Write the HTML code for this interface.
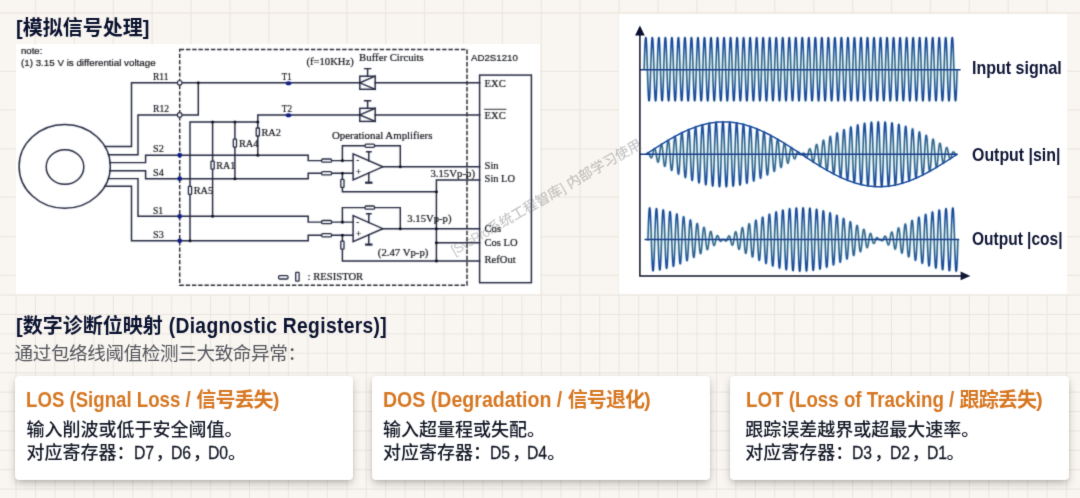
<!DOCTYPE html>
<html lang="zh-CN">
<head>
<meta charset="utf-8">
<title>模拟信号处理 / 数字诊断位映射 (Diagnostic Registers)</title>
<style>
html,body{margin:0;padding:0;}
body{width:1080px;height:498px;overflow:hidden;background:#f9f5f0;font-family:"Liberation Sans","Noto Sans CJK SC",sans-serif;}
#root{position:relative;width:1080px;height:498px;overflow:hidden;background:#f9f5f0;}
#soft{position:absolute;left:-8px;top:-8px;width:1096px;height:514px;filter:url(#sb);}
#in{position:absolute;left:8px;top:8px;width:1080px;height:498px;}
#bg{position:absolute;left:-8px;top:-8px;width:1096px;height:514px;background:#f9f5f0;}
svg{position:absolute;left:0;top:0;overflow:visible;}
.panel{position:absolute;background:#fff;}
h1,h2,h3,p{margin:0;padding:0;}
.h{position:absolute;left:16px;font-weight:bold;color:#0a1230;font-size:20px;line-height:24px;white-space:nowrap;}
.sub{position:absolute;left:14.5px;top:342.2px;font-size:18.6px;line-height:24px;color:#53565d;white-space:nowrap;font-weight:400;letter-spacing:-.4px;}
.card{position:absolute;top:376px;height:103.5px;background:#fff;border-radius:4px;box-shadow:0 4px 8px -1px rgba(52,50,46,.33),0 1px 3px rgba(52,50,46,.08);}
.card h3,.card p{position:absolute;white-space:nowrap;}
.card h3{top:11px;font-size:20px;line-height:26px;color:#d67722;font-weight:700;letter-spacing:-.9px;}
.tl{display:inline-block;letter-spacing:0;font-size:22px;font-weight:bold;line-height:26px;white-space:pre;transform-origin:0 50%;}
.hl{display:inline-block;font-size:21.4px;line-height:24px;white-space:pre;transform-origin:0 50%;transform:scaleX(.9);letter-spacing:.37px;margin-left:.6px;}
.card p{font-size:18px;line-height:23px;color:#141927;top:42.8px;font-weight:500;}
.card p b{display:inline-block;width:21.9px;margin-left:-.9px;font-weight:500;font-size:19.2px;line-height:18px;white-space:nowrap;transform-origin:0 50%;transform:scaleX(.82);-webkit-text-stroke:.3px currentColor;}
.e{margin-left:-2px;}
.c{margin-right:-1.8px;}
.lab{position:absolute;left:971.6px;font-weight:bold;font-size:17.8px;line-height:20px;color:#0e1535;white-space:nowrap;transform-origin:0 50%;}
.ts{font-family:"Liberation Serif",serif;}
.ta{font-family:"Liberation Sans",sans-serif;}
.wm{position:absolute;left:0;top:0;font-size:14px;line-height:14px;color:rgba(115,115,120,.40);font-weight:500;white-space:nowrap;transform-origin:0 0;}
</style>
</head>
<body>
<svg width="0" height="0" style="position:absolute" aria-hidden="true"><defs><filter id="sb" x="0" y="0" width="100%" height="100%" color-interpolation-filters="sRGB"><feConvolveMatrix order="5" kernelMatrix="0.00000 0.00003 0.00021 0.00003 0.00000 0.00003 0.01133 0.08373 0.01133 0.00003 0.00021 0.08373 0.61869 0.08373 0.00021 0.00003 0.01133 0.08373 0.01133 0.00003 0.00000 0.00003 0.00021 0.00003 0.00000" edgeMode="duplicate" preserveAlpha="false"/></filter><filter id="sc" x="0" y="0" width="100%" height="100%" color-interpolation-filters="sRGB"><feConvolveMatrix order="5" kernelMatrix="0.00000 0.00000 0.00004 0.00000 0.00000 0.00000 0.00524 0.06191 0.00524 0.00000 0.00004 0.06191 0.73124 0.06191 0.00004 0.00000 0.00524 0.06191 0.00524 0.00000 0.00000 0.00000 0.00004 0.00000 0.00000" edgeMode="duplicate" preserveAlpha="true"/></filter></defs></svg>
<div id="root"><div id="soft"><div id="bg"></div><div id="in">
<svg width="1080" height="498" viewBox="0 0 1080 498" aria-hidden="true"><g stroke="#ece8e1" stroke-width="1.3" fill="none"><line x1="-3.41" y1="0" x2="-3.41" y2="294.5"/><line x1="35.5" y1="0" x2="35.5" y2="294.5"/><line x1="74.41" y1="0" x2="74.41" y2="294.5"/><line x1="113.32" y1="0" x2="113.32" y2="294.5"/><line x1="152.23" y1="0" x2="152.23" y2="294.5"/><line x1="191.14" y1="0" x2="191.14" y2="294.5"/><line x1="230.05" y1="0" x2="230.05" y2="294.5"/><line x1="268.96" y1="0" x2="268.96" y2="294.5"/><line x1="307.87" y1="0" x2="307.87" y2="294.5"/><line x1="346.78" y1="0" x2="346.78" y2="294.5"/><line x1="385.69" y1="0" x2="385.69" y2="294.5"/><line x1="424.6" y1="0" x2="424.6" y2="294.5"/><line x1="463.51" y1="0" x2="463.51" y2="294.5"/><line x1="502.42" y1="0" x2="502.42" y2="294.5"/><line x1="541.33" y1="0" x2="541.33" y2="294.5"/><line x1="580.24" y1="0" x2="580.24" y2="294.5"/><line x1="619.15" y1="0" x2="619.15" y2="294.5"/><line x1="658.06" y1="0" x2="658.06" y2="294.5"/><line x1="696.97" y1="0" x2="696.97" y2="294.5"/><line x1="735.88" y1="0" x2="735.88" y2="294.5"/><line x1="774.79" y1="0" x2="774.79" y2="294.5"/><line x1="813.7" y1="0" x2="813.7" y2="294.5"/><line x1="852.61" y1="0" x2="852.61" y2="294.5"/><line x1="891.52" y1="0" x2="891.52" y2="294.5"/><line x1="930.43" y1="0" x2="930.43" y2="294.5"/><line x1="969.34" y1="0" x2="969.34" y2="294.5"/><line x1="1008.25" y1="0" x2="1008.25" y2="294.5"/><line x1="1047.16" y1="0" x2="1047.16" y2="294.5"/><line x1="0" y1="13" x2="1080" y2="13"/><line x1="0" y1="71.3" x2="1080" y2="71.3"/><line x1="0" y1="109.8" x2="1080" y2="109.8"/><line x1="0" y1="148.8" x2="1080" y2="148.8"/><line x1="0" y1="197.2" x2="1080" y2="197.2"/><line x1="0" y1="236.7" x2="1080" y2="236.7"/><line x1="0" y1="275.3" x2="1080" y2="275.3"/></g><g stroke="#e8e5df" stroke-width="0.95" fill="none"><line x1="-3.4" y1="294.5" x2="-3.4" y2="498"/><line x1="16.05" y1="294.5" x2="16.05" y2="498"/><line x1="35.5" y1="294.5" x2="35.5" y2="498"/><line x1="54.96" y1="294.5" x2="54.96" y2="498"/><line x1="74.41" y1="294.5" x2="74.41" y2="498"/><line x1="93.87" y1="294.5" x2="93.87" y2="498"/><line x1="113.32" y1="294.5" x2="113.32" y2="498"/><line x1="132.78" y1="294.5" x2="132.78" y2="498"/><line x1="152.23" y1="294.5" x2="152.23" y2="498"/><line x1="171.69" y1="294.5" x2="171.69" y2="498"/><line x1="191.14" y1="294.5" x2="191.14" y2="498"/><line x1="210.6" y1="294.5" x2="210.6" y2="498"/><line x1="230.05" y1="294.5" x2="230.05" y2="498"/><line x1="249.51" y1="294.5" x2="249.51" y2="498"/><line x1="268.96" y1="294.5" x2="268.96" y2="498"/><line x1="288.42" y1="294.5" x2="288.42" y2="498"/><line x1="307.87" y1="294.5" x2="307.87" y2="498"/><line x1="327.33" y1="294.5" x2="327.33" y2="498"/><line x1="346.78" y1="294.5" x2="346.78" y2="498"/><line x1="366.24" y1="294.5" x2="366.24" y2="498"/><line x1="385.69" y1="294.5" x2="385.69" y2="498"/><line x1="405.15" y1="294.5" x2="405.15" y2="498"/><line x1="424.6" y1="294.5" x2="424.6" y2="498"/><line x1="444.06" y1="294.5" x2="444.06" y2="498"/><line x1="463.51" y1="294.5" x2="463.51" y2="498"/><line x1="482.97" y1="294.5" x2="482.97" y2="498"/><line x1="502.42" y1="294.5" x2="502.42" y2="498"/><line x1="521.88" y1="294.5" x2="521.88" y2="498"/><line x1="541.33" y1="294.5" x2="541.33" y2="498"/><line x1="560.79" y1="294.5" x2="560.79" y2="498"/><line x1="580.24" y1="294.5" x2="580.24" y2="498"/><line x1="599.7" y1="294.5" x2="599.7" y2="498"/><line x1="619.15" y1="294.5" x2="619.15" y2="498"/><line x1="638.61" y1="294.5" x2="638.61" y2="498"/><line x1="658.06" y1="294.5" x2="658.06" y2="498"/><line x1="677.52" y1="294.5" x2="677.52" y2="498"/><line x1="696.98" y1="294.5" x2="696.98" y2="498"/><line x1="716.43" y1="294.5" x2="716.43" y2="498"/><line x1="735.89" y1="294.5" x2="735.89" y2="498"/><line x1="755.34" y1="294.5" x2="755.34" y2="498"/><line x1="774.8" y1="294.5" x2="774.8" y2="498"/><line x1="794.25" y1="294.5" x2="794.25" y2="498"/><line x1="813.71" y1="294.5" x2="813.71" y2="498"/><line x1="833.16" y1="294.5" x2="833.16" y2="498"/><line x1="852.62" y1="294.5" x2="852.62" y2="498"/><line x1="872.07" y1="294.5" x2="872.07" y2="498"/><line x1="891.53" y1="294.5" x2="891.53" y2="498"/><line x1="910.98" y1="294.5" x2="910.98" y2="498"/><line x1="930.44" y1="294.5" x2="930.44" y2="498"/><line x1="949.89" y1="294.5" x2="949.89" y2="498"/><line x1="969.35" y1="294.5" x2="969.35" y2="498"/><line x1="988.8" y1="294.5" x2="988.8" y2="498"/><line x1="1008.26" y1="294.5" x2="1008.26" y2="498"/><line x1="1027.71" y1="294.5" x2="1027.71" y2="498"/><line x1="1047.17" y1="294.5" x2="1047.17" y2="498"/><line x1="1066.62" y1="294.5" x2="1066.62" y2="498"/><line x1="0" y1="295.1" x2="1080" y2="295.1"/><line x1="0" y1="314.5" x2="1080" y2="314.5"/><line x1="0" y1="333.9" x2="1080" y2="333.9"/><line x1="0" y1="353.3" x2="1080" y2="353.3"/><line x1="0" y1="372.7" x2="1080" y2="372.7"/><line x1="0" y1="392.1" x2="1080" y2="392.1"/><line x1="0" y1="411.5" x2="1080" y2="411.5"/><line x1="0" y1="430.9" x2="1080" y2="430.9"/><line x1="0" y1="450.3" x2="1080" y2="450.3"/><line x1="0" y1="469.7" x2="1080" y2="469.7"/><line x1="0" y1="489.1" x2="1080" y2="489.1"/></g></svg>
<div class="panel" style="left:15.7px;top:44.2px;width:524.8px;height:249.6px"></div>
<div class="panel" style="left:619.4px;top:13.8px;width:447.8px;height:280.4px"></div>
<h1 class="h" style="top:16px">[模拟信号处理]</h1>
<svg width="1080" height="498" viewBox="0 0 1080 498"><rect x="16" y="45" width="524" height="248" fill="#fff"/><g filter="url(#sc)"><rect x="18" y="46" width="520" height="246" fill="#fff"/><g fill="none" stroke="#1f243c" stroke-width="1.45" stroke-linecap="square" stroke-linejoin="miter"><ellipse cx="64.7" cy="166.4" rx="45.6" ry="41.9" fill="#fff"/><ellipse cx="65" cy="167" rx="18.8" ry="17.2"/><path d="M105.3 146.5 H131.5 V82.8 H359.8"/><path d="M108.6 154.7 H138 V114.9 H198.3 V82.8"/><path d="M110 162.6 H145.6 V155.2 H308.2 V160.6 H353.1"/><path d="M110 170.8 H145.6 V178.7 H308.2 V173.3 H353.1"/><path d="M108.6 178.6 H138 V216.3 H308.2 V222.1 H353.1"/><path d="M105.3 186.3 H131.5 V240.8 H308.2 V235.2 H353.1"/><path d="M190 240.8 V122 H257.8"/><path d="M212.6 122 V216.3"/><path d="M234.9 122 V178.7"/><path d="M257.8 155.2 V114.9 H359.8"/><rect x="359.8" y="76.2" width="15.4" height="13.1" fill="#fff"/><path d="M375.2 76.2 L359.8 82.8 L375.2 89.3"/><path d="M367.6 76.2 V68.6 M364.6 68.6 H370.6"/><path d="M375.2 82.8 H479.6"/><rect x="359.8" y="108.3" width="15.4" height="13.1" fill="#fff"/><path d="M375.2 108.3 L359.8 114.9 L375.2 121.4"/><path d="M367.6 108.3 V100.7 M364.6 100.7 H370.6"/><path d="M375.2 114.9 H479.6"/><path d="M353.1 153.8 V179.8 L382.8 166.8 Z" fill="#fff"/><path d="M342.4 160.6 V145.7 H400.3 V166.8"/><path d="M382.8 166.8 H479.6"/><path d="M368.8 160.7 V151.8 M366.6 151.8 H371"/><path d="M368.8 172.9 V182.4"/><path d="M366.2 182.7 H371.4" stroke-width="2.2"/><path d="M353.1 215.7 V241.7 L382.8 228.7 Z" fill="#fff"/><path d="M342.4 222.5 V207.6 H400.3 V228.7"/><path d="M382.8 228.7 H479.6"/><path d="M368.8 222.6 V213.7 M366.6 213.7 H371"/><path d="M368.8 234.8 V244.3"/><path d="M366.2 244.6 H371.4" stroke-width="2.2"/><path d="M342.4 173.3 V191.7 H436.4"/><path d="M342.4 235.2 V260.9 H479.6"/><path d="M479.6 179.9 H436.4 V260.9"/><path d="M436.4 242.8 H479.6"/><rect x="479.6" y="75.1" width="51.8" height="207.6"/></g><rect x="179.7" y="49.4" width="287.3" height="235.8" fill="none" stroke="#24262f" stroke-width="1.45" stroke-dasharray="4.4 1.85"/><g fill="#fff" stroke="#1f243c" stroke-width="1.3"><rect x="256.2" y="128" width="3.2" height="8" rx="0.6"/><rect x="233.3" y="139.1" width="3.2" height="8" rx="0.6"/><rect x="211" y="161.2" width="3.2" height="8" rx="0.6"/><rect x="188.4" y="186.3" width="3.2" height="8" rx="0.6"/><rect x="321.6" y="159" width="10" height="3.2" rx="1.2"/><rect x="321.6" y="171.7" width="10" height="3.2" rx="1.2"/><rect x="321.6" y="220.5" width="10" height="3.2" rx="1.2"/><rect x="321.6" y="233.6" width="10" height="3.2" rx="1.2"/><rect x="365" y="144.1" width="9.6" height="3.2" rx="1.2"/><rect x="365" y="206" width="9.6" height="3.2" rx="1.2"/><rect x="340.8" y="179.3" width="3.2" height="8" rx="0.6"/><rect x="340.8" y="241.2" width="3.2" height="8" rx="0.6"/><rect x="278.6" y="275.6" width="9.4" height="3.4" rx="1.2" stroke-width="1.3"/><rect x="295.7" y="272.4" width="3.4" height="8.8" rx="0.6" stroke-width="1.3"/></g><g fill="#fff" stroke="#1f243c" stroke-width="1.1"><circle cx="179.7" cy="82.8" r="2.3"/><circle cx="179.7" cy="114.9" r="2.3"/></g><g fill="#0c1020"><circle cx="198.3" cy="82.8" r="1.55"/><circle cx="212.6" cy="122" r="1.55"/><circle cx="234.9" cy="122" r="1.55"/><circle cx="257.8" cy="122" r="1.55"/><circle cx="257.8" cy="155.2" r="1.55"/><circle cx="234.9" cy="178.7" r="1.55"/><circle cx="212.6" cy="216.3" r="1.55"/><circle cx="190" cy="240.8" r="1.55"/><circle cx="342.4" cy="160.6" r="1.55"/><circle cx="342.4" cy="173.3" r="1.55"/><circle cx="342.4" cy="222.1" r="1.55"/><circle cx="342.4" cy="235.2" r="1.55"/><circle cx="400.3" cy="166.8" r="1.55"/><circle cx="400.3" cy="228.7" r="1.55"/><circle cx="436.4" cy="191.7" r="1.55"/><circle cx="436.4" cy="228.7" r="1.55"/><circle cx="436.4" cy="242.8" r="1.55"/><circle cx="436.4" cy="260.9" r="1.55"/></g><g fill="#0d1c86"><circle cx="179.7" cy="155.2" r="2.4"/><circle cx="179.7" cy="178.7" r="2.4"/><circle cx="179.7" cy="216.3" r="2.4"/><circle cx="179.7" cy="240.8" r="2.4"/><ellipse cx="288.5" cy="83.2" rx="2.8" ry="2"/><ellipse cx="288.5" cy="115.3" rx="2.8" ry="2"/></g><g fill="#101218" stroke="#101218" stroke-width="0.2" stroke-linejoin="round"><text class="ta" x="21" y="54.2" font-size="9.6">note:</text><text class="ta" x="21" y="66.2" font-size="9.6" textLength="134.6" lengthAdjust="spacingAndGlyphs">(1) 3.15 V is differential voltage</text><text class="ts" x="153" y="80" font-size="10.5" textLength="15.5" lengthAdjust="spacingAndGlyphs">R11</text><text class="ts" x="153" y="112" font-size="10.5" textLength="16" lengthAdjust="spacingAndGlyphs">R12</text><text class="ts" x="153" y="152" font-size="10.5" textLength="10.8" lengthAdjust="spacingAndGlyphs">S2</text><text class="ts" x="153" y="175.8" font-size="10.5" textLength="10.8" lengthAdjust="spacingAndGlyphs">S4</text><text class="ts" x="153" y="214" font-size="10.5" textLength="10.2" lengthAdjust="spacingAndGlyphs">S1</text><text class="ts" x="153" y="237.8" font-size="10.5" textLength="10.8" lengthAdjust="spacingAndGlyphs">S3</text><text class="ts" x="281.8" y="80" font-size="10.5" textLength="9.8" lengthAdjust="spacingAndGlyphs">T1</text><text class="ts" x="281.8" y="112" font-size="10.5" textLength="10.2" lengthAdjust="spacingAndGlyphs">T2</text><text class="ts" x="306.5" y="64.5" font-size="10.5" textLength="47.2" lengthAdjust="spacingAndGlyphs">(f=10KHz)</text><text class="ts" x="359.1" y="61.1" font-size="10.5" textLength="64.7" lengthAdjust="spacingAndGlyphs">Buffer Circuits</text><text class="ta" x="471" y="60.7" font-size="9.8" textLength="46.8" lengthAdjust="spacingAndGlyphs">AD2S1210</text><text class="ts" x="484.6" y="86.6" font-size="10.5" textLength="21.1" lengthAdjust="spacingAndGlyphs">EXC</text><text class="ts" x="484.6" y="118.7" font-size="10.5" textLength="21.1" lengthAdjust="spacingAndGlyphs">EXC</text><text class="ts" x="332" y="138.5" font-size="10.5" textLength="100.4" lengthAdjust="spacingAndGlyphs">Operational Amplifiers</text><text class="ts" x="261.4" y="135.6" font-size="10.5" textLength="19.6" lengthAdjust="spacingAndGlyphs">RA2</text><text class="ts" x="238.9" y="147.1" font-size="10.5" textLength="19.6" lengthAdjust="spacingAndGlyphs">RA4</text><text class="ts" x="216.2" y="168.7" font-size="10.5" textLength="19" lengthAdjust="spacingAndGlyphs">RA1</text><text class="ts" x="193.7" y="194.3" font-size="10.5" textLength="19.6" lengthAdjust="spacingAndGlyphs">RA5</text><text class="ts" x="430.4" y="177.3" font-size="10.5" textLength="44.6" lengthAdjust="spacingAndGlyphs">3.15Vp-p)</text><text class="ts" x="407.3" y="222.1" font-size="10.5" textLength="44.2" lengthAdjust="spacingAndGlyphs">3.15Vp-p)</text><text class="ts" x="377.8" y="256.2" font-size="10.5" textLength="50.6" lengthAdjust="spacingAndGlyphs">(2.47 Vp-p)</text><text class="ts" x="484.6" y="169.2" font-size="10.5" textLength="14" lengthAdjust="spacingAndGlyphs">Sin</text><text class="ts" x="484.6" y="181.9" font-size="10.5" textLength="30.4" lengthAdjust="spacingAndGlyphs">Sin LO</text><text class="ts" x="484.6" y="232.1" font-size="10.5" textLength="16.4" lengthAdjust="spacingAndGlyphs">Cos</text><text class="ts" x="484.6" y="246.2" font-size="10.5" textLength="33" lengthAdjust="spacingAndGlyphs">Cos LO</text><text class="ts" x="484.6" y="263.3" font-size="10.5" textLength="31" lengthAdjust="spacingAndGlyphs">RefOut</text><text class="ts" x="307.6" y="279.7" font-size="10.5" textLength="55.6" lengthAdjust="spacingAndGlyphs">: RESISTOR</text><text class="ts" x="356.2" y="162.8" font-size="9">-</text><text class="ts" x="355.8" y="174.9" font-size="10">+</text><text class="ts" x="356.2" y="224.7" font-size="9">-</text><text class="ts" x="355.8" y="236.8" font-size="10">+</text></g><path d="M484 109.3 H506.4" stroke="#101218" stroke-width="0.9" fill="none"/></g></svg>
<svg width="1080" height="498" viewBox="0 0 1080 498"><defs><linearGradient id="wg0" gradientUnits="userSpaceOnUse" x1="0" y1="37.2" x2="0" y2="101.2"><stop offset="0" stop-color="#1d3f80"/><stop offset="0.12" stop-color="#2150a0"/><stop offset="0.38" stop-color="#41708c"/><stop offset="0.62" stop-color="#41708c"/><stop offset="0.88" stop-color="#2150a0"/><stop offset="1" stop-color="#1d3f80"/></linearGradient><linearGradient id="wg1" gradientUnits="userSpaceOnUse" x1="0" y1="120.8" x2="0" y2="187.8"><stop offset="0" stop-color="#1d3f80"/><stop offset="0.12" stop-color="#2150a0"/><stop offset="0.38" stop-color="#41708c"/><stop offset="0.62" stop-color="#41708c"/><stop offset="0.88" stop-color="#2150a0"/><stop offset="1" stop-color="#1d3f80"/></linearGradient><linearGradient id="wg2" gradientUnits="userSpaceOnUse" x1="0" y1="207.5" x2="0" y2="271.5"><stop offset="0" stop-color="#1d3f80"/><stop offset="0.12" stop-color="#2150a0"/><stop offset="0.38" stop-color="#41708c"/><stop offset="0.62" stop-color="#41708c"/><stop offset="0.88" stop-color="#2150a0"/><stop offset="1" stop-color="#1d3f80"/></linearGradient></defs><g fill="none" stroke="#a8d0ea" stroke-width="3.4" stroke-linejoin="round" opacity="0.5"><path d="M644.17 69.2 L644.39 62.57 L644.61 56.24 L644.83 50.49 L645.05 45.58 L645.27 41.73 L645.49 39.1 L645.71 37.82 L645.93 37.94 L646.15 39.47 L646.37 42.32 L646.59 46.38 L646.81 51.46 L647.03 57.33 L647.25 63.73 L647.47 70.38 L647.69 76.98 L647.91 83.22 L648.13 88.84 L648.35 93.58 L648.57 97.23 L648.79 99.63 L649.01 100.66 L649.23 100.29 L649.45 98.52 L649.67 95.44 L649.89 91.19 L650.11 85.95 L650.33 79.97 L650.55 73.5 L650.77 66.84 L650.99 60.28 L651.21 54.13 L651.43 48.65 L651.65 44.08 L651.87 40.65 L652.09 38.49 L652.31 37.7 L652.53 38.33 L652.75 40.33 L652.97 43.63 L653.19 48.07 L653.41 53.46 L653.63 59.55 L653.85 66.08 L654.07 72.74 L654.29 79.24 L654.51 85.3 L654.73 90.64 L654.95 95.01 L655.17 98.23 L655.39 100.15 L655.61 100.69 L655.83 99.82 L656.05 97.57 L656.27 94.06 L656.49 89.44 L656.71 83.91 L656.93 77.72 L657.15 71.15 L657.37 64.49 L657.59 58.04 L657.81 52.1 L658.03 46.91 L658.25 42.73 L658.47 39.73 L658.69 38.05 L658.91 37.76 L659.13 38.88 L659.35 41.36 L659.57 45.08 L659.79 49.88 L660 55.55 L660.22 61.83 L660.44 68.44 L660.66 75.08 L660.88 81.46 L661.1 87.29 L661.32 92.31 L661.54 96.29 L661.76 99.07 L661.98 100.5 L662.2 100.54 L662.42 99.18 L662.64 96.47 L662.86 92.54 L663.08 87.57 L663.3 81.77 L663.52 75.42 L663.74 68.78 L663.96 62.17 L664.18 55.86 L664.4 50.16 L664.62 45.31 L664.84 41.52 L665.06 38.98 L665.28 37.79 L665.5 38 L665.72 39.61 L665.94 42.54 L666.16 46.67 L666.38 51.8 L666.6 57.72 L666.82 64.15 L667.04 70.8 L667.26 77.38 L667.48 83.6 L667.7 89.17 L667.92 93.85 L668.14 97.42 L668.36 99.73 L668.58 100.68 L668.8 100.22 L669.02 98.37 L669.24 95.21 L669.46 90.89 L669.68 85.6 L669.9 79.57 L670.12 73.08 L670.34 66.42 L670.56 59.88 L670.78 53.76 L671 48.33 L671.22 43.84 L671.44 40.47 L671.66 38.4 L671.88 37.7 L672.1 38.41 L672.32 40.5 L672.54 43.88 L672.76 48.38 L672.98 53.82 L673.2 59.95 L673.42 66.49 L673.64 73.15 L673.86 79.64 L674.08 85.66 L674.3 90.94 L674.52 95.25 L674.74 98.39 L674.96 100.23 L675.18 100.68 L675.4 99.72 L675.62 97.39 L675.84 93.8 L676.06 89.11 L676.28 83.53 L676.5 77.31 L676.72 70.73 L676.94 64.08 L677.16 57.65 L677.38 51.75 L677.6 46.62 L677.82 42.51 L678.04 39.59 L678.26 37.99 L678.48 37.79 L678.7 39 L678.92 41.56 L679.14 45.35 L679.36 50.22 L679.58 55.93 L679.8 62.23 L680.02 68.85 L680.24 75.49 L680.46 81.84 L680.68 87.63 L680.9 92.59 L681.12 96.5 L681.34 99.2 L681.56 100.55 L681.78 100.5 L682 99.04 L682.22 96.26 L682.44 92.26 L682.66 87.23 L682.88 81.39 L683.1 75.01 L683.32 68.37 L683.54 61.76 L683.76 55.49 L683.98 49.83 L684.2 45.04 L684.42 41.33 L684.64 38.86 L684.86 37.76 L685.08 38.06 L685.3 39.75 L685.52 42.77 L685.74 46.96 L685.96 52.15 L686.18 58.11 L686.4 64.56 L686.62 71.22 L686.84 77.78 L687.06 83.97 L687.28 89.49 L687.5 94.1 L687.72 97.6 L687.94 99.83 L688.16 100.69 L688.38 100.14 L688.6 98.2 L688.82 94.97 L689.04 90.58 L689.26 85.24 L689.48 79.18 L689.7 72.67 L689.92 66.01 L690.14 59.49 L690.36 53.4 L690.58 48.02 L690.8 43.59 L691.02 40.3 L691.23 38.31 L691.45 37.7 L691.67 38.5 L691.89 40.68 L692.11 44.13 L692.33 48.7 L692.55 54.19 L692.77 60.35 L692.99 66.91 L693.21 73.57 L693.43 80.03 L693.65 86.01 L693.87 91.24 L694.09 95.48 L694.31 98.55 L694.53 100.3 L694.75 100.66 L694.97 99.61 L695.19 97.2 L695.41 93.54 L695.63 88.79 L695.85 83.16 L696.07 76.91 L696.29 70.31 L696.51 63.67 L696.73 57.27 L696.95 51.4 L697.17 46.33 L697.39 42.29 L697.61 39.45 L697.83 37.94 L698.05 37.83 L698.27 39.12 L698.49 41.76 L698.71 45.63 L698.93 50.55 L699.15 56.31 L699.37 62.64 L699.59 69.27 L699.81 75.89 L700.03 82.22 L700.25 87.96 L700.47 92.86 L700.69 96.71 L700.91 99.32 L701.13 100.59 L701.35 100.45 L701.57 98.91 L701.79 96.04 L702.01 91.97 L702.23 86.88 L702.45 81.01 L702.67 74.6 L702.89 67.95 L703.11 61.36 L703.33 55.11 L703.55 49.5 L703.77 44.77 L703.99 41.13 L704.21 38.75 L704.43 37.74 L704.65 38.13 L704.87 39.91 L705.09 43 L705.31 47.26 L705.53 52.51 L705.75 58.5 L705.97 64.97 L706.19 71.63 L706.41 78.18 L706.63 84.33 L706.85 89.81 L707.07 94.36 L707.29 97.78 L707.51 99.93 L707.73 100.7 L707.95 100.06 L708.17 98.04 L708.39 94.73 L708.61 90.28 L708.83 84.88 L709.05 78.78 L709.27 72.26 L709.49 65.59 L709.71 59.09 L709.93 53.04 L710.15 47.71 L710.37 43.35 L710.59 40.14 L710.81 38.23 L711.03 37.71 L711.25 38.6 L711.47 40.86 L711.69 44.38 L711.91 49.02 L712.13 54.56 L712.35 60.75 L712.57 67.32 L712.79 73.98 L713.01 80.42 L713.23 86.36 L713.45 91.54 L713.67 95.71 L713.89 98.69 L714.11 100.36 L714.33 100.63 L714.55 99.5 L714.77 97.01 L714.99 93.27 L715.21 88.46 L715.43 82.79 L715.65 76.5 L715.87 69.9 L716.09 63.26 L716.31 56.88 L716.53 51.06 L716.75 46.05 L716.97 42.07 L717.19 39.31 L717.41 37.89 L717.63 37.87 L717.85 39.25 L718.07 41.97 L718.29 45.91 L718.51 50.89 L718.73 56.69 L718.95 63.05 L719.17 69.69 L719.39 76.3 L719.61 82.6 L719.83 88.3 L720.05 93.14 L720.27 96.91 L720.49 99.44 L720.71 100.62 L720.93 100.39 L721.15 98.77 L721.37 95.82 L721.59 91.68 L721.81 86.54 L722.03 80.62 L722.25 74.19 L722.46 67.53 L722.68 60.95 L722.9 54.74 L723.12 49.18 L723.34 44.51 L723.56 40.95 L723.78 38.65 L724 37.72 L724.22 38.2 L724.44 40.06 L724.66 43.23 L724.88 47.56 L725.1 52.86 L725.32 58.89 L725.54 65.38 L725.76 72.05 L725.98 78.58 L726.2 84.7 L726.42 90.12 L726.64 94.61 L726.86 97.95 L727.08 100.02 L727.3 100.7 L727.52 99.97 L727.74 97.87 L727.96 94.48 L728.18 89.96 L728.4 84.52 L728.62 78.38 L728.84 71.84 L729.06 65.18 L729.28 58.7 L729.5 52.68 L729.72 47.41 L729.94 43.11 L730.16 39.98 L730.38 38.16 L730.6 37.73 L730.82 38.7 L731.04 41.04 L731.26 44.64 L731.48 49.34 L731.7 54.93 L731.92 61.15 L732.14 67.74 L732.36 74.39 L732.58 80.81 L732.8 86.71 L733.02 91.83 L733.24 95.93 L733.46 98.84 L733.68 100.42 L733.9 100.6 L734.12 99.38 L734.34 96.81 L734.56 93 L734.78 88.13 L735 82.41 L735.22 76.1 L735.44 69.48 L735.66 62.85 L735.88 56.5 L736.1 50.72 L736.32 45.77 L736.54 41.86 L736.76 39.18 L736.98 37.85 L737.2 37.91 L737.42 39.38 L737.64 42.18 L737.86 46.19 L738.08 51.23 L738.3 57.07 L738.52 63.46 L738.74 70.1 L738.96 76.71 L739.18 82.97 L739.4 88.63 L739.62 93.41 L739.84 97.11 L740.06 99.56 L740.28 100.65 L740.5 100.33 L740.72 98.62 L740.94 95.59 L741.16 91.39 L741.38 86.19 L741.6 80.23 L741.82 73.77 L742.04 67.12 L742.26 60.55 L742.48 54.37 L742.7 48.86 L742.92 44.25 L743.14 40.77 L743.36 38.55 L743.58 37.71 L743.8 38.27 L744.02 40.22 L744.24 43.47 L744.46 47.87 L744.68 53.22 L744.9 59.29 L745.12 65.8 L745.34 72.46 L745.56 78.98 L745.78 85.06 L746 90.43 L746.22 94.85 L746.44 98.12 L746.66 100.1 L746.88 100.7 L747.1 99.88 L747.32 97.69 L747.54 94.23 L747.76 89.65 L747.98 84.15 L748.2 77.98 L748.42 71.42 L748.64 64.76 L748.86 58.3 L749.08 52.33 L749.3 47.11 L749.52 42.88 L749.74 39.83 L749.96 38.09 L750.18 37.75 L750.4 38.81 L750.62 41.23 L750.84 44.9 L751.06 49.67 L751.28 55.3 L751.5 61.56 L751.72 68.16 L751.94 74.8 L752.16 81.2 L752.38 87.06 L752.6 92.12 L752.82 96.15 L753.04 98.98 L753.26 100.47 L753.48 100.57 L753.7 99.26 L753.91 96.61 L754.13 92.73 L754.35 87.79 L754.57 82.03 L754.79 75.69 L755.01 69.06 L755.23 62.44 L755.45 56.12 L755.67 50.38 L755.89 45.49 L756.11 41.66 L756.33 39.06 L756.55 37.81 L756.77 37.96 L756.99 39.51 L757.21 42.4 L757.43 46.48 L757.65 51.57 L757.87 57.46 L758.09 63.87 L758.31 70.52 L758.53 77.11 L758.75 83.35 L758.97 88.95 L759.19 93.67 L759.41 97.3 L759.63 99.66 L759.85 100.67 L760.07 100.26 L760.29 98.47 L760.51 95.36 L760.73 91.09 L760.95 85.83 L761.17 79.84 L761.39 73.36 L761.61 66.7 L761.83 60.15 L762.05 54.01 L762.27 48.54 L762.49 44 L762.71 40.59 L762.93 38.46 L763.15 37.7 L763.37 38.35 L763.59 40.39 L763.81 43.71 L764.03 48.18 L764.25 53.58 L764.47 59.68 L764.69 66.21 L764.91 72.88 L765.13 79.38 L765.35 85.42 L765.57 90.74 L765.79 95.09 L766.01 98.29 L766.23 100.18 L766.45 100.69 L766.67 99.78 L766.89 97.51 L767.11 93.98 L767.33 89.33 L767.55 83.78 L767.77 77.58 L767.99 71.01 L768.21 64.35 L768.43 57.91 L768.65 51.98 L768.87 46.82 L769.09 42.65 L769.31 39.68 L769.53 38.03 L769.75 37.77 L769.97 38.92 L770.19 41.42 L770.41 45.17 L770.63 49.99 L770.85 55.68 L771.07 61.96 L771.29 68.57 L771.51 75.21 L771.73 81.58 L771.95 87.4 L772.17 92.4 L772.39 96.36 L772.61 99.11 L772.83 100.52 L773.05 100.53 L773.27 99.13 L773.49 96.4 L773.71 92.45 L773.93 87.46 L774.15 81.65 L774.37 75.28 L774.59 68.64 L774.81 62.03 L775.03 55.74 L775.25 50.05 L775.47 45.22 L775.69 41.46 L775.91 38.94 L776.13 37.78 L776.35 38.02 L776.57 39.66 L776.79 42.62 L777.01 46.77 L777.23 51.92 L777.45 57.85 L777.67 64.28 L777.89 70.94 L778.11 77.52 L778.33 83.72 L778.55 89.28 L778.77 93.93 L778.99 97.48 L779.21 99.77 L779.43 100.68 L779.65 100.19 L779.87 98.31 L780.09 95.13 L780.31 90.79 L780.53 85.48 L780.75 79.44 L780.97 72.95 L781.19 66.28 L781.41 59.75 L781.63 53.64 L781.85 48.23 L782.07 43.75 L782.29 40.42 L782.51 38.37 L782.73 37.7 L782.95 38.44 L783.17 40.56 L783.39 43.96 L783.61 48.49 L783.83 53.94 L784.05 60.08 L784.27 66.63 L784.49 73.29 L784.71 79.77 L784.93 85.78 L785.14 91.04 L785.36 95.33 L785.58 98.44 L785.8 100.25 L786.02 100.67 L786.24 99.68 L786.46 97.33 L786.68 93.72 L786.9 89.01 L787.12 83.41 L787.34 77.18 L787.56 70.59 L787.78 63.94 L788 57.52 L788.22 51.63 L788.44 46.52 L788.66 42.43 L788.88 39.54 L789.1 37.97 L789.32 37.8 L789.54 39.04 L789.76 41.62 L789.98 45.44 L790.2 50.33 L790.42 56.05 L790.64 62.37 L790.86 68.99 L791.08 75.62 L791.3 81.97 L791.52 87.74 L791.74 92.68 L791.96 96.57 L792.18 99.24 L792.4 100.56 L792.62 100.48 L792.84 99 L793.06 96.19 L793.28 92.16 L793.5 87.11 L793.72 81.26 L793.94 74.87 L794.16 68.23 L794.38 61.63 L794.6 55.36 L794.82 49.72 L795.04 44.95 L795.26 41.26 L795.48 38.83 L795.7 37.75 L795.92 38.08 L796.14 39.8 L796.36 42.84 L796.58 47.06 L796.8 52.27 L797.02 58.24 L797.24 64.7 L797.46 71.35 L797.68 77.92 L797.9 84.09 L798.12 89.6 L798.34 94.19 L798.56 97.66 L798.78 99.87 L799 100.69 L799.22 100.11 L799.44 98.15 L799.66 94.89 L799.88 90.48 L800.1 85.12 L800.32 79.05 L800.54 72.53 L800.76 65.87 L800.98 59.35 L801.2 53.28 L801.42 47.92 L801.64 43.51 L801.86 40.25 L802.08 38.29 L802.3 37.71 L802.52 38.53 L802.74 40.74 L802.96 44.21 L803.18 48.8 L803.4 54.31 L803.62 60.48 L803.84 67.05 L804.06 73.7 L804.28 80.16 L804.5 86.13 L804.72 91.34 L804.94 95.56 L805.16 98.6 L805.38 100.32 L805.6 100.65 L805.82 99.57 L806.04 97.14 L806.26 93.45 L806.48 88.68 L806.7 83.04 L806.92 76.77 L807.14 70.17 L807.36 63.53 L807.58 57.14 L807.8 51.29 L808.02 46.24 L808.24 42.21 L808.46 39.4 L808.68 37.92 L808.9 37.84 L809.12 39.16 L809.34 41.83 L809.56 45.72 L809.78 50.66 L810 56.43 L810.22 62.78 L810.44 69.41 L810.66 76.03 L810.88 82.35 L811.1 88.07 L811.32 92.96 L811.54 96.78 L811.76 99.36 L811.98 100.6 L812.2 100.43 L812.42 98.86 L812.64 95.97 L812.86 91.88 L813.08 86.77 L813.3 80.88 L813.52 74.46 L813.74 67.81 L813.96 61.22 L814.18 54.99 L814.4 49.39 L814.62 44.68 L814.84 41.07 L815.06 38.72 L815.28 37.73 L815.5 38.15 L815.72 39.96 L815.94 43.07 L816.16 47.36 L816.37 52.62 L816.59 58.63 L816.81 65.11 L817.03 71.77 L817.25 78.32 L817.47 84.46 L817.69 89.91 L817.91 94.44 L818.13 97.84 L818.35 99.96 L818.57 100.7 L818.79 100.03 L819.01 97.98 L819.23 94.65 L819.45 90.17 L819.67 84.76 L819.89 78.65 L820.11 72.12 L820.33 65.45 L820.55 58.96 L820.77 52.92 L820.99 47.61 L821.21 43.27 L821.43 40.09 L821.65 38.21 L821.87 37.72 L822.09 38.63 L822.31 40.92 L822.53 44.47 L822.75 49.12 L822.97 54.68 L823.19 60.88 L823.41 67.46 L823.63 74.12 L823.85 80.55 L824.07 86.48 L824.29 91.63 L824.51 95.78 L824.73 98.74 L824.95 100.38 L825.17 100.62 L825.39 99.46 L825.61 96.94 L825.83 93.18 L826.05 88.35 L826.27 82.66 L826.49 76.37 L826.71 69.76 L826.93 63.12 L827.15 56.75 L827.37 50.94 L827.59 45.95 L827.81 42 L828.03 39.27 L828.25 37.87 L828.47 37.88 L828.69 39.29 L828.91 42.04 L829.13 46 L829.35 51 L829.57 56.82 L829.79 63.19 L830.01 69.83 L830.23 76.44 L830.45 82.72 L830.67 88.41 L830.89 93.23 L831.11 96.98 L831.33 99.48 L831.55 100.63 L831.77 100.37 L831.99 98.72 L832.21 95.75 L832.43 91.58 L832.65 86.42 L832.87 80.49 L833.09 74.05 L833.31 67.39 L833.53 60.82 L833.75 54.62 L833.97 49.07 L834.19 44.42 L834.41 40.89 L834.63 38.62 L834.85 37.71 L835.07 38.22 L835.29 40.11 L835.51 43.31 L835.73 47.66 L835.95 52.98 L836.17 59.02 L836.39 65.52 L836.61 72.19 L836.83 78.72 L837.05 84.82 L837.27 90.22 L837.49 94.69 L837.71 98.01 L837.93 100.05 L838.15 100.7 L838.37 99.94 L838.59 97.81 L838.81 94.4 L839.03 89.86 L839.25 84.39 L839.47 78.25 L839.69 71.7 L839.91 65.04 L840.13 58.56 L840.35 52.57 L840.57 47.31 L840.79 43.04 L841.01 39.93 L841.23 38.14 L841.45 37.73 L841.67 38.74 L841.89 41.1 L842.11 44.73 L842.33 49.45 L842.55 55.05 L842.77 61.29 L842.99 67.88 L843.21 74.53 L843.43 80.94 L843.65 86.83 L843.87 91.92 L844.09 96 L844.31 98.89 L844.53 100.44 L844.75 100.59 L844.97 99.34 L845.19 96.74 L845.41 92.91 L845.63 88.02 L845.85 82.28 L846.07 75.96 L846.29 69.34 L846.51 62.71 L846.73 56.37 L846.95 50.61 L847.17 45.67 L847.39 41.79 L847.6 39.14 L847.82 37.83 L848.04 37.93 L848.26 39.42 L848.48 42.25 L848.7 46.28 L848.92 51.34 L849.14 57.2 L849.36 63.6 L849.58 70.24 L849.8 76.84 L850.02 83.1 L850.24 88.73 L850.46 93.5 L850.68 97.17 L850.9 99.59 L851.12 100.65 L851.34 100.31 L851.56 98.57 L851.78 95.52 L852 91.29 L852.22 86.07 L852.44 80.1 L852.66 73.64 L852.88 66.98 L853.1 60.42 L853.32 54.25 L853.54 48.75 L853.76 44.17 L853.98 40.71 L854.2 38.52 L854.42 37.7 L854.64 38.3 L854.86 40.28 L855.08 43.55 L855.3 47.97 L855.52 53.34 L855.74 59.42 L855.96 65.94 L856.18 72.6 L856.4 79.11 L856.62 85.18 L856.84 90.53 L857.06 94.93 L857.28 98.18 L857.5 100.13 L857.72 100.69 L857.94 99.85 L858.16 97.63 L858.38 94.15 L858.6 89.54 L858.82 84.03 L859.04 77.85 L859.26 71.28 L859.48 64.63 L859.7 58.17 L859.92 52.21 L860.14 47.01 L860.36 42.81 L860.58 39.78 L860.8 38.07 L861.02 37.75 L861.24 38.84 L861.46 41.29 L861.68 44.99 L861.9 49.77 L862.12 55.43 L862.34 61.69 L862.56 68.3 L862.78 74.94 L863 81.33 L863.22 87.17 L863.44 92.21 L863.66 96.22 L863.88 99.02 L864.1 100.49 L864.32 100.55 L864.54 99.22 L864.76 96.54 L864.98 92.63 L865.2 87.68 L865.42 81.9 L865.64 75.55 L865.86 68.92 L866.08 62.3 L866.3 55.99 L866.52 50.27 L866.74 45.4 L866.96 41.59 L867.18 39.02 L867.4 37.8 L867.62 37.98 L867.84 39.56 L868.06 42.47 L868.28 46.57 L868.5 51.69 L868.72 57.59 L868.94 64.01 L869.16 70.66 L869.38 77.25 L869.6 83.47 L869.82 89.06 L870.04 93.76 L870.26 97.36 L870.48 99.7 L870.7 100.67 L870.92 100.24 L871.14 98.42 L871.36 95.29 L871.58 90.99 L871.8 85.72 L872.02 79.7 L872.24 73.22 L872.46 66.56 L872.68 60.02 L872.9 53.88 L873.12 48.44 L873.34 43.92 L873.56 40.53 L873.78 38.43 L874 37.7 L874.22 38.38 L874.44 40.45 L874.66 43.79 L874.88 48.28 L875.1 53.7 L875.32 59.82 L875.54 66.35 L875.76 73.02 L875.98 79.51 L876.2 85.54 L876.42 90.84 L876.64 95.17 L876.86 98.34 L877.08 100.2 L877.3 100.68 L877.52 99.75 L877.74 97.45 L877.96 93.89 L878.18 89.22 L878.4 83.66 L878.62 77.45 L878.84 70.87 L879.05 64.21 L879.27 57.78 L879.49 51.86 L879.71 46.72 L879.93 42.58 L880.15 39.63 L880.37 38.01 L880.59 37.78 L880.81 38.96 L881.03 41.49 L881.25 45.26 L881.47 50.1 L881.69 55.8 L881.91 62.1 L882.13 68.71 L882.35 75.35 L882.57 81.71 L882.79 87.51 L883.01 92.49 L883.23 96.43 L883.45 99.15 L883.67 100.53 L883.89 100.51 L884.11 99.09 L884.33 96.33 L884.55 92.35 L884.77 87.34 L884.99 81.52 L885.21 75.14 L885.43 68.5 L885.65 61.9 L885.87 55.61 L886.09 49.94 L886.31 45.13 L886.53 41.39 L886.75 38.9 L886.97 37.77 L887.19 38.04 L887.41 39.71 L887.63 42.69 L887.85 46.86 L888.07 52.04 L888.29 57.98 L888.51 64.42 L888.73 71.08 L888.95 77.65 L889.17 83.84 L889.39 89.38 L889.61 94.02 L889.83 97.54 L890.05 99.8 L890.27 100.69 L890.49 100.17 L890.71 98.26 L890.93 95.05 L891.15 90.69 L891.37 85.36 L891.59 79.31 L891.81 72.81 L892.03 66.14 L892.25 59.62 L892.47 53.52 L892.69 48.12 L892.91 43.67 L893.13 40.36 L893.35 38.34 L893.57 37.7 L893.79 38.47 L894.01 40.62 L894.23 44.04 L894.45 48.59 L894.67 54.07 L894.89 60.22 L895.11 66.77 L895.33 73.43 L895.55 79.9 L895.77 85.89 L895.99 91.14 L896.21 95.4 L896.43 98.49 L896.65 100.27 L896.87 100.66 L897.09 99.65 L897.31 97.27 L897.53 93.63 L897.75 88.9 L897.97 83.29 L898.19 77.04 L898.41 70.45 L898.63 63.8 L898.85 57.39 L899.07 51.52 L899.29 46.43 L899.51 42.36 L899.73 39.49 L899.95 37.95 L900.17 37.81 L900.39 39.08 L900.61 41.69 L900.83 45.54 L901.05 50.44 L901.27 56.18 L901.49 62.51 L901.71 69.13 L901.93 75.76 L902.15 82.09 L902.37 87.85 L902.59 92.77 L902.81 96.64 L903.03 99.28 L903.25 100.57 L903.47 100.46 L903.69 98.95 L903.91 96.11 L904.13 92.07 L904.35 87 L904.57 81.13 L904.79 74.73 L905.01 68.09 L905.23 61.49 L905.45 55.24 L905.67 49.61 L905.89 44.86 L906.11 41.2 L906.33 38.79 L906.55 37.74 L906.77 38.1 L906.99 39.85 L907.21 42.92 L907.43 47.16 L907.65 52.39 L907.87 58.37 L908.09 64.83 L908.31 71.49 L908.53 78.05 L908.75 84.21 L908.97 89.7 L909.19 94.27 L909.41 97.72 L909.63 99.9 L909.85 100.7 L910.07 100.09 L910.28 98.1 L910.5 94.81 L910.72 90.38 L910.94 85 L911.16 78.91 L911.38 72.39 L911.6 65.73 L911.82 59.22 L912.04 53.16 L912.26 47.82 L912.48 43.43 L912.7 40.2 L912.92 38.26 L913.14 37.71 L913.36 38.57 L913.58 40.8 L913.8 44.3 L914.02 48.91 L914.24 54.43 L914.46 60.62 L914.68 67.18 L914.9 73.84 L915.12 80.29 L915.34 86.25 L915.56 91.44 L915.78 95.63 L916 98.65 L916.22 100.34 L916.44 100.64 L916.66 99.54 L916.88 97.07 L917.1 93.36 L917.32 88.57 L917.54 82.91 L917.76 76.64 L917.98 70.03 L918.2 63.39 L918.42 57.01 L918.64 51.17 L918.86 46.14 L919.08 42.14 L919.3 39.36 L919.52 37.9 L919.74 37.85 L919.96 39.2 L920.18 41.9 L920.4 45.81 L920.62 50.77 L920.84 56.56 L921.06 62.91 L921.28 69.55 L921.5 76.17 L921.72 82.47 L921.94 88.18 L922.16 93.05 L922.38 96.84 L922.6 99.4 L922.82 100.61 L923.04 100.41 L923.26 98.81 L923.48 95.89 L923.7 91.78 L923.92 86.65 L924.14 80.75 L924.36 74.32 L924.58 67.67 L924.8 61.09 L925.02 54.87 L925.24 49.29 L925.46 44.6 L925.68 41.01 L925.9 38.68 L926.12 37.72 L926.34 38.17 L926.56 40.01 L926.78 43.15 L927 47.46 L927.22 52.74 L927.44 58.76 L927.66 65.25 L927.88 71.91 L928.1 78.45 L928.32 84.58 L928.54 90.02 L928.76 94.52 L928.98 97.9 L929.2 99.99 L929.42 100.7 L929.64 100 L929.86 97.93 L930.08 94.56 L930.3 90.07 L930.52 84.64 L930.74 78.52 L930.96 71.98 L931.18 65.32 L931.4 58.83 L931.62 52.8 L931.84 47.51 L932.06 43.19 L932.28 40.03 L932.5 38.18 L932.72 37.72 L932.94 38.67 L933.16 40.98 L933.38 44.55 L933.6 49.23 L933.82 54.8 L934.04 61.02 L934.26 67.6 L934.48 74.25 L934.7 80.68 L934.92 86.6 L935.14 91.73 L935.36 95.86 L935.58 98.79 L935.8 100.4 L936.02 100.61 L936.24 99.42 L936.46 96.88 L936.68 93.09 L936.9 88.24 L937.12 82.54 L937.34 76.23 L937.56 69.62 L937.78 62.98 L938 56.63 L938.22 50.83 L938.44 45.86 L938.66 41.93 L938.88 39.22 L939.1 37.86 L939.32 37.9 L939.54 39.33 L939.76 42.11 L939.98 46.09 L940.2 51.11 L940.42 56.94 L940.64 63.32 L940.86 69.96 L941.08 76.57 L941.3 82.85 L941.51 88.52 L941.73 93.32 L941.95 97.04 L942.17 99.52 L942.39 100.64 L942.61 100.35 L942.83 98.67 L943.05 95.67 L943.27 91.49 L943.49 86.3 L943.71 80.36 L943.93 73.91 L944.15 67.25 L944.37 60.68 L944.59 54.49 L944.81 48.96 L945.03 44.34 L945.25 40.83 L945.47 38.58 L945.69 37.71 L945.91 38.25 L946.13 40.17 L946.35 43.39 L946.57 47.76 L946.79 53.1 L947.01 59.16 L947.23 65.66 L947.45 72.32 L947.67 78.85 L947.89 84.94 L948.11 90.33 L948.33 94.77 L948.55 98.07 L948.77 100.07 L948.99 100.7 L949.21 99.91 L949.43 97.75 L949.65 94.32 L949.87 89.75 L950.09 84.27 L950.31 78.12 L950.53 71.56 L950.75 64.9 L950.97 58.43 L951.19 52.45 L951.41 47.21 L951.63 42.96 L951.85 39.88 L952.07 38.11 L952.29 37.74 L952.51 38.77 L952.73 41.17 L952.95 44.82 L953.17 49.56 L953.39 55.18 L953.61 61.42 L953.83 68.02 L954.05 74.67 L954.27 81.07 L954.49 86.94 L954.71 92.02 L954.93 96.08 L955.15 98.93 L955.37 100.46 L955.59 100.58 L955.81 99.3 L956.03 96.67 L956.25 92.82 L956.47 87.91 L956.69 82.16 L956.91 75.83 L957.13 69.2"/><path d="M646 154.3 L646.22 154.26 L646.44 154.17 L646.66 154.04 L646.88 153.86 L647.1 153.67 L647.32 153.48 L647.54 153.3 L647.76 153.15 L647.98 153.06 L648.2 153.04 L648.42 153.09 L648.64 153.23 L648.86 153.46 L649.08 153.77 L649.3 154.16 L649.52 154.62 L649.74 155.12 L649.96 155.64 L650.18 156.15 L650.4 156.63 L650.62 157.05 L650.84 157.39 L651.06 157.61 L651.28 157.69 L651.5 157.63 L651.72 157.41 L651.94 157.03 L652.16 156.5 L652.38 155.83 L652.6 155.05 L652.82 154.18 L653.04 153.26 L653.26 152.32 L653.48 151.42 L653.7 150.58 L653.92 149.86 L654.14 149.29 L654.36 148.9 L654.58 148.73 L654.8 148.78 L655.02 149.08 L655.24 149.62 L655.46 150.38 L655.68 151.34 L655.9 152.47 L656.12 153.74 L656.34 155.08 L656.56 156.45 L656.78 157.78 L657 159.02 L657.22 160.11 L657.44 161 L657.66 161.64 L657.88 161.99 L658.1 162.04 L658.32 161.76 L658.54 161.16 L658.76 160.25 L658.98 159.06 L659.2 157.62 L659.42 156.01 L659.64 154.27 L659.86 152.47 L660.08 150.69 L660.3 149.02 L660.52 147.51 L660.74 146.23 L660.96 145.26 L661.18 144.64 L661.4 144.4 L661.62 144.56 L661.84 145.14 L662.06 146.11 L662.28 147.45 L662.5 149.1 L662.72 151.02 L662.94 153.12 L663.16 155.33 L663.38 157.54 L663.6 159.68 L663.82 161.65 L664.04 163.35 L664.26 164.73 L664.48 165.7 L664.7 166.22 L664.92 166.27 L665.14 165.82 L665.36 164.88 L665.57 163.48 L665.79 161.68 L666.01 159.53 L666.23 157.12 L666.45 154.55 L666.67 151.91 L666.89 149.31 L667.11 146.87 L667.33 144.69 L667.55 142.87 L667.77 141.48 L667.99 140.59 L668.21 140.25 L668.43 140.48 L668.65 141.29 L668.87 142.64 L669.09 144.5 L669.31 146.8 L669.53 149.45 L669.75 152.34 L669.97 155.37 L670.19 158.4 L670.41 161.31 L670.63 163.99 L670.85 166.3 L671.07 168.17 L671.29 169.49 L671.51 170.21 L671.73 170.29 L671.95 169.71 L672.17 168.49 L672.39 166.67 L672.61 164.31 L672.83 161.5 L673.05 158.36 L673.27 155 L673.49 151.57 L673.71 148.2 L673.93 145.03 L674.15 142.2 L674.37 139.82 L674.59 138.01 L674.81 136.84 L675.03 136.37 L675.25 136.63 L675.47 137.61 L675.69 139.3 L675.91 141.62 L676.13 144.49 L676.35 147.8 L676.57 151.42 L676.79 155.21 L677.01 159 L677.23 162.65 L677.45 166 L677.67 168.91 L677.89 171.26 L678.11 172.94 L678.33 173.87 L678.55 174.02 L678.77 173.36 L678.99 171.91 L679.21 169.72 L679.43 166.88 L679.65 163.49 L679.87 159.69 L680.09 155.62 L680.31 151.46 L680.53 147.37 L680.75 143.51 L680.97 140.06 L681.19 137.16 L681.41 134.92 L681.63 133.46 L681.85 132.84 L682.07 133.08 L682.29 134.2 L682.51 136.15 L682.73 138.86 L682.95 142.23 L683.17 146.13 L683.39 150.4 L683.61 154.87 L683.83 159.35 L684.05 163.67 L684.27 167.65 L684.49 171.12 L684.71 173.93 L684.93 175.97 L685.15 177.14 L685.37 177.38 L685.59 176.68 L685.81 175.07 L686.03 172.58 L686.25 169.33 L686.47 165.44 L686.69 161.06 L686.91 156.37 L687.13 151.56 L687.35 146.81 L687.57 142.34 L687.79 138.32 L688.01 134.92 L688.23 132.28 L688.45 130.52 L688.67 129.72 L688.89 129.92 L689.11 131.12 L689.33 133.27 L689.55 136.3 L689.77 140.08 L689.99 144.48 L690.21 149.3 L690.43 154.37 L690.65 159.46 L690.87 164.39 L691.09 168.93 L691.31 172.91 L691.53 176.16 L691.75 178.53 L691.97 179.94 L692.19 180.3 L692.41 179.61 L692.63 177.88 L692.85 175.18 L693.07 171.6 L693.29 167.3 L693.51 162.44 L693.73 157.22 L693.95 151.84 L694.17 146.53 L694.39 141.51 L694.61 136.98 L694.83 133.13 L695.05 130.12 L695.27 128.08 L695.49 127.1 L695.71 127.22 L695.93 128.45 L696.15 130.73 L696.37 134 L696.59 138.1 L696.81 142.9 L697.03 148.18 L697.25 153.74 L697.47 159.35 L697.69 164.79 L697.91 169.82 L698.13 174.25 L698.35 177.89 L698.57 180.59 L698.79 182.22 L699.01 182.73 L699.23 182.08 L699.45 180.29 L699.67 177.43 L699.89 173.62 L700.11 169 L700.33 163.77 L700.55 158.12 L700.77 152.29 L700.99 146.52 L701.21 141.03 L701.43 136.07 L701.65 131.83 L701.87 128.48 L702.09 126.18 L702.31 125.01 L702.53 125.03 L702.75 126.24 L702.97 128.6 L703.19 132.02 L703.41 136.36 L703.63 141.44 L703.85 147.07 L704.07 153.02 L704.29 159.04 L704.5 164.89 L704.72 170.33 L704.94 175.14 L705.16 179.11 L705.38 182.09 L705.6 183.94 L705.82 184.6 L706.04 184.02 L706.26 182.23 L706.48 179.3 L706.7 175.33 L706.92 170.5 L707.14 165 L707.36 159.04 L707.58 152.87 L707.8 146.74 L708.02 140.89 L708.24 135.58 L708.46 131.02 L708.68 127.39 L708.9 124.84 L709.12 123.49 L709.34 123.39 L709.56 124.55 L709.78 126.92 L710 130.42 L710.22 134.89 L710.44 140.17 L710.66 146.03 L710.88 152.25 L711.1 158.56 L711.32 164.72 L711.54 170.46 L711.76 175.56 L711.98 179.81 L712.2 183.02 L712.42 185.08 L712.64 185.88 L712.86 185.4 L713.08 183.66 L713.3 180.71 L713.52 176.69 L713.74 171.74 L713.96 166.08 L714.18 159.93 L714.4 153.54 L714.62 147.16 L714.84 141.07 L715.06 135.51 L715.28 130.7 L715.5 126.85 L715.72 124.1 L715.94 122.59 L716.16 122.36 L716.38 123.43 L716.6 125.75 L716.82 129.25 L717.04 133.76 L717.26 139.12 L717.48 145.1 L717.7 151.46 L717.92 157.95 L718.14 164.29 L718.36 170.23 L718.58 175.53 L718.8 179.98 L719.02 183.38 L719.24 185.6 L719.46 186.55 L719.68 186.19 L719.9 184.53 L720.12 181.64 L720.34 177.63 L720.56 172.68 L720.78 166.97 L721 160.75 L721.22 154.26 L721.44 147.77 L721.66 141.54 L721.88 135.83 L722.1 130.87 L722.32 126.86 L722.54 123.96 L722.76 122.3 L722.98 121.94 L723.2 122.89 L723.42 125.13 L723.64 128.55 L723.86 133.01 L724.08 138.34 L724.3 144.32 L724.52 150.71 L724.74 157.24 L724.96 163.65 L725.18 169.68 L725.4 175.08 L725.62 179.64 L725.84 183.16 L726.06 185.51 L726.28 186.59 L726.5 186.35 L726.72 184.82 L726.94 182.04 L727.16 178.14 L727.38 173.27 L727.6 167.63 L727.82 161.45 L728.04 154.99 L728.26 148.51 L728.48 142.26 L728.7 136.51 L728.92 131.49 L729.14 127.4 L729.36 124.41 L729.58 122.64 L729.8 122.15 L730.02 122.97 L730.24 125.07 L730.46 128.35 L730.68 132.68 L730.9 137.88 L731.12 143.74 L731.34 150.03 L731.56 156.48 L731.78 162.83 L732 168.83 L732.22 174.23 L732.44 178.81 L732.66 182.38 L732.88 184.81 L733.1 186 L733.32 185.89 L733.54 184.51 L733.76 181.89 L733.98 178.16 L734.2 173.47 L734.42 168.01 L734.64 162 L734.86 155.69 L735.08 149.34 L735.3 143.2 L735.52 137.53 L735.74 132.55 L735.96 128.46 L736.18 125.43 L736.4 123.58 L736.62 122.99 L736.84 123.67 L737.06 125.58 L737.28 128.67 L737.5 132.78 L737.72 137.76 L737.94 143.4 L738.16 149.46 L738.38 155.71 L738.6 161.88 L738.82 167.73 L739.04 173.01 L739.26 177.52 L739.48 181.08 L739.7 183.53 L739.92 184.8 L740.14 184.82 L740.36 183.6 L740.58 181.19 L740.8 177.7 L741.02 173.27 L741.24 168.09 L741.46 162.36 L741.68 156.33 L741.9 150.23 L742.12 144.32 L742.34 138.83 L742.56 133.99 L742.78 129.99 L743 127 L743.21 125.12 L743.43 124.44 L743.65 124.97 L743.87 126.68 L744.09 129.52 L744.31 133.35 L744.53 138.01 L744.75 143.32 L744.97 149.05 L745.19 154.97 L745.41 160.84 L745.63 166.42 L745.85 171.48 L746.07 175.83 L746.29 179.28 L746.51 181.71 L746.73 183.01 L746.95 183.14 L747.17 182.1 L747.39 179.93 L747.61 176.74 L747.83 172.65 L748.05 167.84 L748.27 162.49 L748.49 156.85 L748.71 151.12 L748.93 145.55 L749.15 140.37 L749.37 135.77 L749.59 131.95 L749.81 129.06 L750.03 127.21 L750.25 126.46 L750.47 126.85 L750.69 128.35 L750.91 130.89 L751.13 134.38 L751.35 138.64 L751.57 143.53 L751.79 148.82 L752.01 154.3 L752.23 159.75 L752.45 164.95 L752.67 169.69 L752.89 173.77 L753.11 177.05 L753.33 179.38 L753.55 180.67 L753.77 180.89 L753.99 180.03 L754.21 178.14 L754.43 175.28 L754.65 171.6 L754.87 167.23 L755.09 162.37 L755.31 157.22 L755.53 151.98 L755.75 146.87 L755.97 142.09 L756.19 137.84 L756.41 134.29 L756.63 131.57 L756.85 129.8 L757.07 129.03 L757.29 129.29 L757.51 130.56 L757.73 132.78 L757.95 135.87 L758.17 139.67 L758.39 144.04 L758.61 148.8 L758.83 153.74 L759.05 158.67 L759.27 163.38 L759.49 167.69 L759.71 171.42 L759.93 174.43 L760.15 176.6 L760.37 177.84 L760.59 178.13 L760.81 177.44 L761.03 175.82 L761.25 173.35 L761.47 170.12 L761.69 166.28 L761.91 161.98 L762.13 157.42 L762.35 152.76 L762.57 148.21 L762.79 143.94 L763.01 140.14 L763.23 136.94 L763.45 134.47 L763.67 132.83 L763.89 132.07 L764.11 132.23 L764.33 133.27 L764.55 135.16 L764.77 137.8 L764.99 141.09 L765.21 144.88 L765.43 149.02 L765.65 153.32 L765.87 157.63 L766.09 161.76 L766.31 165.54 L766.53 168.83 L766.75 171.49 L766.97 173.43 L767.19 174.58 L767.41 174.89 L767.63 174.37 L767.85 173.04 L768.07 170.96 L768.29 168.23 L768.51 164.97 L768.73 161.31 L768.95 157.41 L769.17 153.43 L769.39 149.53 L769.61 145.87 L769.83 142.59 L770.05 139.83 L770.27 137.68 L770.49 136.24 L770.71 135.54 L770.93 135.61 L771.15 136.44 L771.37 137.98 L771.59 140.16 L771.81 142.88 L772.03 146.04 L772.25 149.48 L772.47 153.08 L772.69 156.68 L772.91 160.13 L773.13 163.3 L773.35 166.06 L773.57 168.31 L773.79 169.96 L774.01 170.95 L774.23 171.26 L774.45 170.87 L774.67 169.82 L774.89 168.16 L775.11 165.96 L775.33 163.32 L775.55 160.35 L775.77 157.19 L775.99 153.96 L776.21 150.79 L776.43 147.81 L776.65 145.15 L776.87 142.89 L777.09 141.14 L777.31 139.95 L777.53 139.35 L777.75 139.37 L777.97 140 L778.19 141.19 L778.41 142.89 L778.63 145.03 L778.85 147.5 L779.07 150.2 L779.29 153.02 L779.51 155.84 L779.73 158.55 L779.95 161.03 L780.17 163.19 L780.39 164.96 L780.61 166.25 L780.83 167.04 L781.05 167.3 L781.27 167.02 L781.49 166.24 L781.71 164.99 L781.93 163.33 L782.14 161.35 L782.36 159.12 L782.58 156.74 L782.8 154.32 L783.02 151.95 L783.24 149.72 L783.46 147.74 L783.68 146.06 L783.9 144.76 L784.12 143.87 L784.34 143.43 L784.56 143.44 L784.78 143.89 L785 144.74 L785.22 145.97 L785.44 147.49 L785.66 149.26 L785.88 151.18 L786.1 153.18 L786.32 155.16 L786.54 157.06 L786.76 158.79 L786.98 160.29 L787.2 161.51 L787.42 162.39 L787.64 162.93 L787.86 163.09 L788.08 162.9 L788.3 162.36 L788.52 161.52 L788.74 160.4 L788.96 159.08 L789.18 157.61 L789.4 156.06 L789.62 154.49 L789.84 152.96 L790.06 151.55 L790.28 150.3 L790.5 149.26 L790.72 148.47 L790.94 147.94 L791.16 147.69 L791.38 147.72 L791.6 148.02 L791.82 148.56 L792.04 149.32 L792.26 150.24 L792.48 151.28 L792.7 152.4 L792.92 153.54 L793.14 154.66 L793.36 155.7 L793.58 156.63 L793.8 157.42 L794.02 158.04 L794.24 158.46 L794.46 158.7 L794.68 158.73 L794.9 158.58 L795.12 158.26 L795.34 157.8 L795.56 157.23 L795.78 156.57 L796 155.86 L796.22 155.15 L796.44 154.45 L796.66 153.81 L796.88 153.24 L797.1 152.77 L797.32 152.42 L797.54 152.17 L797.76 152.05 L797.98 152.05 L798.2 152.14 L798.42 152.33 L798.64 152.58 L798.86 152.88 L799.08 153.2 L799.3 153.53 L799.52 153.84 L799.74 154.12 L799.96 154.34 L800.18 154.51 L800.4 154.61 L800.62 154.65 L800.84 154.62 L801.06 154.55 L801.28 154.44 L801.5 154.3 L801.72 154.23 L801.94 154.11 L802.16 153.95 L802.38 153.78 L802.6 153.6 L802.82 153.44 L803.04 153.31 L803.26 153.23 L803.48 153.22 L803.7 153.28 L803.92 153.43 L804.14 153.65 L804.36 153.96 L804.58 154.34 L804.8 154.77 L805.02 155.25 L805.24 155.73 L805.46 156.2 L805.68 156.64 L805.9 157.01 L806.12 157.29 L806.34 157.46 L806.56 157.49 L806.78 157.38 L807 157.12 L807.22 156.71 L807.44 156.16 L807.66 155.49 L807.88 154.71 L808.1 153.86 L808.32 152.97 L808.54 152.07 L808.76 151.22 L808.98 150.45 L809.2 149.8 L809.42 149.31 L809.64 149.01 L809.86 148.91 L810.08 149.04 L810.3 149.41 L810.52 150 L810.74 150.81 L810.96 151.8 L811.18 152.95 L811.4 154.2 L811.62 155.52 L811.84 156.84 L812.06 158.11 L812.28 159.28 L812.5 160.28 L812.72 161.07 L812.94 161.61 L813.16 161.86 L813.38 161.8 L813.6 161.43 L813.82 160.74 L814.04 159.77 L814.26 158.52 L814.48 157.06 L814.7 155.44 L814.92 153.71 L815.14 151.96 L815.36 150.24 L815.58 148.64 L815.8 147.22 L816.02 146.06 L816.24 145.2 L816.46 144.7 L816.68 144.58 L816.9 144.86 L817.12 145.54 L817.34 146.6 L817.56 148.01 L817.78 149.71 L818 151.65 L818.22 153.75 L818.44 155.93 L818.66 158.1 L818.88 160.16 L819.1 162.03 L819.32 163.63 L819.54 164.88 L819.76 165.72 L819.98 166.11 L820.2 166.03 L820.42 165.46 L820.64 164.42 L820.86 162.93 L821.07 161.06 L821.29 158.87 L821.51 156.45 L821.73 153.89 L821.95 151.29 L822.17 148.76 L822.39 146.41 L822.61 144.33 L822.83 142.63 L823.05 141.37 L823.27 140.61 L823.49 140.41 L823.71 140.77 L823.93 141.69 L824.15 143.15 L824.37 145.09 L824.59 147.45 L824.81 150.12 L825.03 153.02 L825.25 156.02 L825.47 159 L825.69 161.84 L825.91 164.41 L826.13 166.62 L826.35 168.35 L826.57 169.54 L826.79 170.13 L827.01 170.08 L827.23 169.37 L827.45 168.05 L827.67 166.13 L827.89 163.71 L828.11 160.86 L828.33 157.7 L828.55 154.36 L828.77 150.96 L828.99 147.65 L829.21 144.57 L829.43 141.84 L829.65 139.58 L829.87 137.89 L830.09 136.84 L830.31 136.5 L830.53 136.88 L830.75 137.98 L830.97 139.75 L831.19 142.15 L831.41 145.07 L831.63 148.41 L831.85 152.03 L832.07 155.79 L832.29 159.54 L832.51 163.12 L832.73 166.38 L832.95 169.19 L833.17 171.43 L833.39 172.99 L833.61 173.81 L833.83 173.85 L834.05 173.08 L834.27 171.54 L834.49 169.28 L834.71 166.39 L834.93 162.96 L835.15 159.15 L835.37 155.1 L835.59 150.97 L835.81 146.93 L836.03 143.14 L836.25 139.78 L836.47 136.96 L836.69 134.83 L836.91 133.47 L837.13 132.94 L837.35 133.28 L837.57 134.47 L837.79 136.49 L838.01 139.26 L838.23 142.66 L838.45 146.57 L838.67 150.83 L838.89 155.28 L839.11 159.73 L839.33 164 L839.55 167.91 L839.77 171.3 L839.99 174.04 L840.21 175.99 L840.43 177.08 L840.65 177.25 L840.87 176.49 L841.09 174.82 L841.31 172.3 L841.53 169.02 L841.75 165.12 L841.97 160.74 L842.19 156.06 L842.41 151.28 L842.63 146.58 L842.85 142.15 L843.07 138.18 L843.29 134.84 L843.51 132.26 L843.73 130.56 L843.95 129.81 L844.17 130.05 L844.39 131.28 L844.61 133.46 L844.83 136.5 L845.05 140.28 L845.27 144.67 L845.49 149.48 L845.71 154.52 L845.93 159.58 L846.15 164.47 L846.37 168.98 L846.59 172.92 L846.81 176.14 L847.03 178.48 L847.25 179.86 L847.47 180.21 L847.69 179.51 L847.91 177.78 L848.13 175.09 L848.35 171.53 L848.57 167.24 L848.79 162.41 L849.01 157.21 L849.23 151.86 L849.45 146.58 L849.67 141.58 L849.89 137.07 L850.11 133.23 L850.33 130.22 L850.55 128.18 L850.77 127.18 L850.99 127.28 L851.21 128.48 L851.43 130.73 L851.65 133.96 L851.87 138.02 L852.09 142.78 L852.31 148.02 L852.53 153.55 L852.75 159.14 L852.97 164.56 L853.19 169.6 L853.41 174.04 L853.63 177.69 L853.85 180.42 L854.07 182.1 L854.29 182.66 L854.51 182.07 L854.73 180.35 L854.95 177.57 L855.17 173.82 L855.39 169.27 L855.61 164.08 L855.83 158.48 L856.05 152.68 L856.27 146.92 L856.49 141.43 L856.71 136.44 L856.93 132.16 L857.15 128.75 L857.37 126.37 L857.59 125.11 L857.81 125.03 L858.03 126.14 L858.25 128.4 L858.47 131.71 L858.69 135.96 L858.91 140.97 L859.13 146.54 L859.35 152.44 L859.57 158.44 L859.79 164.3 L860 169.77 L860.22 174.64 L860.44 178.69 L860.66 181.77 L860.88 183.75 L861.1 184.54 L861.32 184.11 L861.54 182.46 L861.76 179.67 L861.98 175.83 L862.2 171.12 L862.42 165.7 L862.64 159.81 L862.86 153.67 L863.08 147.54 L863.3 141.67 L863.52 136.29 L863.74 131.62 L863.96 127.87 L864.18 125.17 L864.4 123.65 L864.62 123.36 L864.84 124.33 L865.06 126.52 L865.28 129.84 L865.5 134.17 L865.72 139.32 L865.94 145.08 L866.16 151.24 L866.38 157.54 L866.6 163.72 L866.82 169.53 L867.04 174.74 L867.26 179.13 L867.48 182.52 L867.7 184.78 L867.92 185.81 L868.14 185.56 L868.36 184.04 L868.58 181.31 L868.8 177.49 L869.02 172.71 L869.24 167.18 L869.46 161.12 L869.68 154.77 L869.9 148.4 L870.12 142.25 L870.34 136.57 L870.56 131.61 L870.78 127.56 L871 124.59 L871.22 122.81 L871.44 122.31 L871.66 123.11 L871.88 125.17 L872.1 128.42 L872.32 132.71 L872.54 137.89 L872.76 143.74 L872.98 150.02 L873.2 156.49 L873.42 162.87 L873.64 168.91 L873.86 174.37 L874.08 179.02 L874.3 182.67 L874.52 185.17 L874.74 186.43 L874.96 186.38 L875.18 185.04 L875.4 182.45 L875.62 178.72 L875.84 173.99 L876.06 168.47 L876.28 162.36 L876.5 155.93 L876.72 149.43 L876.94 143.12 L877.16 137.26 L877.38 132.1 L877.6 127.82 L877.82 124.62 L878.04 122.62 L878.26 121.91 L878.48 122.5 L878.7 124.39 L878.92 127.48 L879.14 131.66 L879.36 136.76 L879.58 142.57 L879.8 148.85 L880.02 155.36 L880.24 161.81 L880.46 167.97 L880.68 173.57 L880.9 178.39 L881.12 182.23 L881.34 184.94 L881.56 186.4 L881.78 186.57 L882 185.43 L882.22 183.03 L882.44 179.47 L882.66 174.89 L882.88 169.48 L883.1 163.46 L883.32 157.07 L883.54 150.58 L883.76 144.24 L883.98 138.31 L884.2 133.04 L884.42 128.63 L884.64 125.26 L884.86 123.08 L885.08 122.16 L885.3 122.54 L885.52 124.2 L885.74 127.09 L885.96 131.07 L886.18 135.99 L886.4 141.64 L886.62 147.79 L886.84 154.21 L887.06 160.61 L887.28 166.76 L887.5 172.39 L887.72 177.27 L887.94 181.23 L888.16 184.08 L888.38 185.73 L888.6 186.1 L888.82 185.18 L889.04 183.02 L889.26 179.7 L889.48 175.35 L889.7 170.17 L889.92 164.35 L890.14 158.13 L890.36 151.77 L890.58 145.53 L890.8 139.66 L891.02 134.39 L891.24 129.93 L891.46 126.47 L891.68 124.15 L891.9 123.05 L892.12 123.22 L892.34 124.64 L892.56 127.27 L892.78 130.97 L893 135.62 L893.22 141 L893.44 146.91 L893.66 153.11 L893.88 159.33 L894.1 165.34 L894.32 170.88 L894.54 175.74 L894.76 179.71 L894.98 182.65 L895.2 184.43 L895.42 184.99 L895.64 184.3 L895.86 182.4 L896.08 179.38 L896.3 175.35 L896.52 170.48 L896.74 164.97 L896.96 159.04 L897.18 152.95 L897.4 146.93 L897.62 141.23 L897.84 136.08 L898.06 131.68 L898.28 128.21 L898.5 125.81 L898.71 124.57 L898.93 124.54 L899.15 125.71 L899.37 128.03 L899.59 131.41 L899.81 135.69 L900.03 140.72 L900.25 146.27 L900.47 152.12 L900.69 158.04 L900.91 163.78 L901.13 169.12 L901.35 173.84 L901.57 177.74 L901.79 180.68 L902.01 182.54 L902.23 183.25 L902.45 182.79 L902.67 181.18 L902.89 178.49 L903.11 174.83 L903.33 170.37 L903.55 165.27 L903.77 159.75 L903.99 154.04 L904.21 148.37 L904.43 142.97 L904.65 138.05 L904.87 133.81 L905.09 130.42 L905.31 128.01 L905.53 126.68 L905.75 126.47 L905.97 127.39 L906.19 129.39 L906.41 132.38 L906.63 136.25 L906.85 140.82 L907.07 145.91 L907.29 151.31 L907.51 156.81 L907.73 162.17 L907.95 167.18 L908.17 171.64 L908.39 175.38 L908.61 178.24 L908.83 180.12 L909.05 180.94 L909.27 180.68 L909.49 179.36 L909.71 177.04 L909.93 173.81 L910.15 169.81 L910.37 165.21 L910.59 160.2 L910.81 154.99 L911.03 149.78 L911.25 144.79 L911.47 140.21 L911.69 136.24 L911.91 133.02 L912.13 130.69 L912.35 129.32 L912.57 128.97 L912.79 129.65 L913.01 131.32 L913.23 133.9 L913.45 137.29 L913.67 141.34 L913.89 145.88 L914.11 150.73 L914.33 155.69 L914.55 160.55 L914.77 165.13 L914.99 169.23 L915.21 172.7 L915.43 175.39 L915.65 177.22 L915.87 178.1 L916.09 178.02 L916.31 176.98 L916.53 175.03 L916.75 172.26 L916.97 168.79 L917.19 164.77 L917.41 160.35 L917.63 155.73 L917.85 151.1 L918.07 146.63 L918.29 142.51 L918.51 138.9 L918.73 135.95 L918.95 133.76 L919.17 132.43 L919.39 131.99 L919.61 132.45 L919.83 133.79 L920.05 135.95 L920.27 138.82 L920.49 142.29 L920.71 146.22 L920.93 150.43 L921.15 154.75 L921.37 159.02 L921.59 163.05 L921.81 166.68 L922.03 169.78 L922.25 172.22 L922.47 173.92 L922.69 174.8 L922.91 174.85 L923.13 174.07 L923.35 172.5 L923.57 170.21 L923.79 167.31 L924.01 163.91 L924.23 160.17 L924.45 156.23 L924.67 152.25 L924.89 148.41 L925.11 144.85 L925.33 141.71 L925.55 139.12 L925.77 137.16 L925.99 135.93 L926.21 135.45 L926.43 135.73 L926.65 136.77 L926.87 138.49 L927.09 140.83 L927.31 143.69 L927.53 146.93 L927.75 150.43 L927.97 154.04 L928.19 157.61 L928.41 161 L928.63 164.08 L928.85 166.72 L929.07 168.82 L929.29 170.31 L929.51 171.13 L929.73 171.26 L929.95 170.7 L930.17 169.49 L930.39 167.69 L930.61 165.38 L930.83 162.65 L931.05 159.63 L931.27 156.43 L931.49 153.21 L931.71 150.07 L931.93 147.16 L932.15 144.58 L932.37 142.43 L932.59 140.8 L932.81 139.73 L933.03 139.28 L933.25 139.43 L933.47 140.18 L933.69 141.49 L933.91 143.29 L934.13 145.51 L934.35 148.03 L934.57 150.77 L934.79 153.6 L935.01 156.4 L935.23 159.07 L935.45 161.5 L935.67 163.59 L935.89 165.26 L936.11 166.47 L936.33 167.15 L936.55 167.31 L936.77 166.94 L936.99 166.07 L937.21 164.74 L937.43 163.02 L937.64 160.98 L937.86 158.72 L938.08 156.33 L938.3 153.91 L938.52 151.55 L938.74 149.37 L938.96 147.43 L939.18 145.81 L939.4 144.57 L939.62 143.75 L939.84 143.38 L940.06 143.46 L940.28 143.97 L940.5 144.89 L940.72 146.16 L940.94 147.73 L941.16 149.52 L941.38 151.45 L941.6 153.45 L941.82 155.43 L942.04 157.31 L942.26 159.02 L942.48 160.48 L942.7 161.65 L942.92 162.5 L943.14 162.98 L943.36 163.11 L943.58 162.87 L943.8 162.29 L944.02 161.41 L944.24 160.27 L944.46 158.93 L944.68 157.45 L944.9 155.89 L945.12 154.32 L945.34 152.8 L945.56 151.41 L945.78 150.18 L946 149.16 L946.22 148.39 L946.44 147.89 L946.66 147.67 L946.88 147.73 L947.1 148.05 L947.32 148.61 L947.54 149.38 L947.76 150.31 L947.98 151.36 L948.2 152.48 L948.42 153.63 L948.64 154.74 L948.86 155.78 L949.08 156.7 L949.3 157.48 L949.52 158.08 L949.74 158.49 L949.96 158.71 L950.18 158.73 L950.4 158.57 L950.62 158.25 L950.84 157.78 L951.06 157.2 L951.28 156.54 L951.5 155.83 L951.72 155.12 L951.94 154.43 L952.16 153.79 L952.38 153.22 L952.6 152.76 L952.82 152.4 L953.04 152.17 L953.26 152.05 L953.48 152.04 L953.7 152.14 L953.92 152.33 L954.14 152.58 L954.36 152.88 L954.58 153.21 L954.8 153.54 L955.02 153.85 L955.24 154.12 L955.46 154.35 L955.68 154.51 L955.9 154.61 L956.12 154.65 L956.34 154.62 L956.56 154.55 L956.78 154.44 L957 154.3"/><path d="M647.9 240.69 L648.12 234.3 L648.34 228.12 L648.56 222.42 L648.78 217.43 L649 213.35 L649.22 210.35 L649.44 208.55 L649.66 208.03 L649.88 208.81 L650.1 210.85 L650.32 214.08 L650.54 218.35 L650.76 223.48 L650.98 229.27 L651.2 235.48 L651.42 241.84 L651.64 248.11 L651.86 254.01 L652.08 259.3 L652.3 263.77 L652.52 267.24 L652.74 269.56 L652.96 270.64 L653.18 270.43 L653.4 268.95 L653.62 266.25 L653.84 262.46 L654.06 257.73 L654.28 252.25 L654.5 246.26 L654.72 240 L654.94 233.73 L655.16 227.7 L655.38 222.18 L655.6 217.38 L655.82 213.5 L656.04 210.69 L656.26 209.08 L656.48 208.73 L656.7 209.65 L656.92 211.79 L657.14 215.07 L657.36 219.35 L657.58 224.45 L657.8 230.16 L658.02 236.24 L658.24 242.44 L658.46 248.51 L658.68 254.19 L658.9 259.25 L659.12 263.48 L659.34 266.72 L659.56 268.82 L659.78 269.72 L660 269.36 L660.22 267.78 L660.44 265.04 L660.66 261.25 L660.88 256.58 L661.1 251.21 L661.32 245.38 L661.54 239.33 L661.76 233.3 L661.98 227.55 L662.2 222.3 L662.42 217.78 L662.64 214.17 L662.86 211.61 L663.08 210.21 L663.3 210.02 L663.52 211.04 L663.74 213.24 L663.96 216.51 L664.18 220.71 L664.4 225.67 L664.62 231.18 L664.84 237.02 L665.06 242.93 L665.28 248.69 L665.5 254.04 L665.72 258.77 L665.94 262.7 L666.16 265.65 L666.38 267.51 L666.6 268.22 L666.82 267.73 L667.04 266.09 L667.26 263.36 L667.48 259.66 L667.7 255.15 L667.92 250.01 L668.14 244.46 L668.36 238.73 L668.58 233.06 L668.8 227.67 L669.02 222.8 L669.24 218.64 L669.46 215.36 L669.68 213.08 L669.9 211.91 L670.12 211.87 L670.34 212.97 L670.56 215.16 L670.78 218.34 L671 222.37 L671.22 227.09 L671.44 232.3 L671.66 237.77 L671.88 243.29 L672.1 248.62 L672.32 253.55 L672.54 257.88 L672.76 261.42 L672.98 264.05 L673.2 265.65 L673.42 266.16 L673.64 265.58 L673.86 263.92 L674.08 261.28 L674.3 257.75 L674.52 253.49 L674.74 248.68 L674.96 243.52 L675.18 238.22 L675.4 233.02 L675.62 228.11 L675.84 223.69 L676.06 219.96 L676.28 217.05 L676.5 215.09 L676.72 214.14 L676.94 214.24 L677.16 215.38 L677.38 217.5 L677.6 220.52 L677.82 224.29 L678.04 228.67 L678.26 233.46 L678.48 238.46 L678.7 243.48 L678.92 248.29 L679.14 252.71 L679.36 256.55 L679.58 259.67 L679.8 261.93 L680.02 263.26 L680.24 263.6 L680.46 262.94 L680.68 261.33 L680.9 258.83 L681.12 255.55 L681.34 251.64 L681.56 247.27 L681.78 242.6 L682 237.85 L682.22 233.2 L682.44 228.85 L682.66 224.97 L682.88 221.73 L683.1 219.23 L683.32 217.6 L683.54 216.87 L683.76 217.09 L683.98 218.22 L684.2 220.22 L684.42 222.99 L684.64 226.41 L684.86 230.35 L685.08 234.62 L685.3 239.06 L685.52 243.47 L685.74 247.68 L685.96 251.52 L686.18 254.82 L686.4 257.46 L686.62 259.34 L686.84 260.39 L687.06 260.57 L687.28 259.88 L687.5 258.36 L687.72 256.08 L687.94 253.14 L688.16 249.68 L688.38 245.83 L688.6 241.75 L688.82 237.63 L689.04 233.63 L689.26 229.92 L689.48 226.63 L689.7 223.91 L689.92 221.86 L690.14 220.56 L690.36 220.05 L690.58 220.34 L690.8 221.42 L691.02 223.23 L691.24 225.69 L691.46 228.68 L691.68 232.08 L691.9 235.75 L692.12 239.53 L692.34 243.26 L692.56 246.79 L692.78 249.98 L693 252.7 L693.22 254.84 L693.44 256.32 L693.66 257.1 L693.88 257.14 L694.1 256.46 L694.32 255.09 L694.54 253.1 L694.76 250.58 L694.98 247.64 L695.2 244.4 L695.42 241 L695.64 237.6 L695.86 234.31 L696.08 231.29 L696.3 228.65 L696.52 226.49 L696.74 224.9 L696.96 223.92 L697.18 223.61 L697.4 223.95 L697.62 224.92 L697.84 226.48 L698.06 228.55 L698.28 231.03 L698.5 233.82 L698.72 236.8 L698.94 239.85 L699.16 242.82 L699.38 245.62 L699.6 248.11 L699.82 250.21 L700.04 251.84 L700.26 252.93 L700.48 253.45 L700.7 253.39 L700.92 252.76 L701.14 251.6 L701.36 249.96 L701.58 247.92 L701.8 245.58 L702.02 243.03 L702.24 240.38 L702.46 237.75 L702.68 235.24 L702.9 232.96 L703.12 230.99 L703.34 229.41 L703.56 228.28 L703.78 227.63 L704 227.48 L704.22 227.82 L704.44 228.64 L704.66 229.89 L704.88 231.5 L705.1 233.41 L705.32 235.52 L705.54 237.74 L705.76 239.99 L705.98 242.17 L706.2 244.18 L706.42 245.95 L706.64 247.42 L706.86 248.52 L707.08 249.22 L707.3 249.51 L707.52 249.38 L707.74 248.85 L707.96 247.95 L708.18 246.72 L708.4 245.23 L708.62 243.55 L708.84 241.75 L709.06 239.91 L709.28 238.11 L709.5 236.42 L709.72 234.9 L709.94 233.62 L710.16 232.63 L710.38 231.94 L710.6 231.59 L710.82 231.58 L711.04 231.89 L711.26 232.5 L711.48 233.38 L711.7 234.48 L711.92 235.75 L712.14 237.13 L712.36 238.55 L712.58 239.95 L712.8 241.29 L713.02 242.49 L713.24 243.53 L713.46 244.35 L713.68 244.94 L713.9 245.28 L714.12 245.36 L714.34 245.2 L714.56 244.81 L714.78 244.22 L715 243.46 L715.22 242.58 L715.44 241.61 L715.66 240.61 L715.88 239.62 L716.1 238.67 L716.32 237.82 L716.54 237.09 L716.76 236.5 L716.98 236.08 L717.2 235.82 L717.42 235.74 L717.64 235.83 L717.86 236.06 L718.08 236.42 L718.3 236.89 L718.52 237.43 L718.74 238.01 L718.96 238.61 L719.18 239.19 L719.4 239.73 L719.62 240.2 L719.84 240.59 L720.06 240.88 L720.28 241.07 L720.5 241.17 L720.72 241.17 L720.94 241.09 L721.16 240.93 L721.38 240.73 L721.6 240.5 L721.82 240.25 L722.04 240.01 L722.26 239.8 L722.48 239.63 L722.7 239.5 L722.92 239.43 L723.14 239.42 L723.36 239.47 L723.58 239.48 L723.8 239.5 L724.02 239.58 L724.24 239.7 L724.46 239.87 L724.68 240.08 L724.9 240.29 L725.12 240.5 L725.34 240.69 L725.57 240.84 L725.79 240.92 L726.01 240.93 L726.23 240.86 L726.45 240.69 L726.67 240.43 L726.89 240.08 L727.11 239.65 L727.33 239.15 L727.55 238.62 L727.77 238.07 L727.99 237.53 L728.21 237.03 L728.43 236.6 L728.65 236.28 L728.87 236.07 L729.09 236.01 L729.31 236.11 L729.53 236.37 L729.75 236.79 L729.97 237.37 L730.19 238.09 L730.41 238.92 L730.63 239.83 L730.85 240.78 L731.07 241.73 L731.29 242.64 L731.51 243.46 L731.73 244.15 L731.95 244.67 L732.17 244.99 L732.39 245.08 L732.61 244.94 L732.83 244.54 L733.05 243.91 L733.27 243.05 L733.49 242 L733.71 240.8 L733.93 239.48 L734.15 238.11 L734.37 236.75 L734.59 235.45 L734.81 234.27 L735.03 233.27 L735.25 232.51 L735.47 232.02 L735.69 231.84 L735.91 231.98 L736.13 232.44 L736.35 233.23 L736.57 234.32 L736.79 235.67 L737.01 237.22 L737.23 238.92 L737.45 240.71 L737.67 242.49 L737.89 244.2 L738.11 245.76 L738.33 247.1 L738.55 248.15 L738.77 248.86 L738.99 249.2 L739.21 249.12 L739.43 248.63 L739.65 247.74 L739.87 246.48 L740.09 244.88 L740.31 243.01 L740.53 240.94 L740.75 238.77 L740.97 236.56 L741.19 234.43 L741.41 232.47 L741.63 230.76 L741.85 229.37 L742.07 228.39 L742.29 227.86 L742.51 227.81 L742.73 228.26 L742.95 229.2 L743.17 230.59 L743.39 232.39 L743.61 234.53 L743.83 236.93 L744.05 239.48 L744.27 242.09 L744.49 244.64 L744.71 247.03 L744.93 249.14 L745.15 250.88 L745.37 252.17 L745.59 252.95 L745.81 253.18 L746.03 252.83 L746.25 251.91 L746.47 250.45 L746.69 248.49 L746.91 246.13 L747.13 243.44 L747.35 240.53 L747.57 237.54 L747.79 234.57 L748.01 231.77 L748.23 229.24 L748.45 227.11 L748.67 225.47 L748.89 224.39 L749.11 223.94 L749.33 224.13 L749.55 224.98 L749.77 226.46 L749.99 228.5 L750.21 231.05 L750.43 233.99 L750.65 237.2 L750.87 240.56 L751.09 243.93 L751.31 247.15 L751.53 250.1 L751.75 252.64 L751.97 254.66 L752.19 256.07 L752.41 256.81 L752.63 256.82 L752.85 256.1 L753.07 254.67 L753.29 252.58 L753.51 249.91 L753.73 246.77 L753.95 243.29 L754.17 239.6 L754.39 235.86 L754.61 232.22 L754.83 228.85 L755.05 225.89 L755.27 223.46 L755.49 221.68 L755.71 220.63 L755.93 220.36 L756.15 220.9 L756.37 222.23 L756.59 224.29 L756.81 227.03 L757.03 230.31 L757.25 234.03 L757.47 238.01 L757.69 242.1 L757.91 246.12 L758.13 249.91 L758.35 253.3 L758.57 256.15 L758.79 258.32 L759.01 259.72 L759.23 260.29 L759.45 259.99 L759.67 258.83 L759.89 256.84 L760.11 254.1 L760.33 250.71 L760.55 246.83 L760.77 242.6 L760.99 238.2 L761.21 233.81 L761.43 229.62 L761.65 225.8 L761.87 222.53 L762.09 219.94 L762.31 218.15 L762.53 217.24 L762.75 217.26 L762.97 218.22 L763.19 220.07 L763.41 222.76 L763.63 226.18 L763.85 230.18 L764.07 234.61 L764.29 239.29 L764.51 244.01 L764.73 248.58 L764.95 252.8 L765.17 256.5 L765.39 259.52 L765.61 261.72 L765.83 263 L766.05 263.31 L766.27 262.61 L766.49 260.95 L766.71 258.36 L766.93 254.97 L767.15 250.9 L767.37 246.33 L767.59 241.43 L767.81 236.42 L768.03 231.5 L768.25 226.88 L768.47 222.76 L768.69 219.31 L768.91 216.68 L769.13 215 L769.35 214.33 L769.57 214.72 L769.79 216.15 L770.01 218.57 L770.23 221.88 L770.45 225.95 L770.67 230.62 L770.89 235.69 L771.11 240.95 L771.33 246.19 L771.55 251.17 L771.77 255.7 L771.99 259.57 L772.21 262.63 L772.43 264.73 L772.65 265.79 L772.87 265.75 L773.09 264.61 L773.31 262.41 L773.53 259.23 L773.75 255.21 L773.97 250.51 L774.19 245.32 L774.41 239.86 L774.63 234.35 L774.85 229.03 L775.07 224.12 L775.29 219.83 L775.51 216.35 L775.73 213.81 L775.95 212.34 L776.17 212 L776.39 212.81 L776.61 214.75 L776.83 217.73 L777.05 221.64 L777.27 226.32 L777.49 231.57 L777.71 237.18 L777.93 242.91 L778.15 248.53 L778.37 253.79 L778.59 258.48 L778.81 262.39 L779.03 265.36 L779.25 267.26 L779.47 268 L779.69 267.55 L779.91 265.93 L780.13 263.19 L780.35 259.45 L780.57 254.85 L780.79 249.59 L781.01 243.89 L781.23 237.99 L781.45 232.12 L781.67 226.54 L781.89 221.49 L782.11 217.16 L782.33 213.76 L782.55 211.43 L782.77 210.26 L782.99 210.31 L783.21 211.59 L783.43 214.04 L783.65 217.56 L783.87 222.02 L784.09 227.22 L784.31 232.96 L784.53 238.98 L784.75 245.05 L784.97 250.9 L785.19 256.3 L785.41 261 L785.63 264.83 L785.85 267.6 L786.07 269.2 L786.29 269.56 L786.51 268.67 L786.73 266.55 L786.95 263.29 L787.17 259.03 L787.39 253.94 L787.61 248.23 L787.83 242.14 L788.05 235.92 L788.27 229.84 L788.49 224.15 L788.71 219.09 L788.93 214.87 L789.15 211.67 L789.37 209.63 L789.59 208.84 L789.81 209.32 L790.03 211.07 L790.25 214.02 L790.47 218.04 L790.69 222.96 L790.91 228.59 L791.13 234.68 L791.35 240.99 L791.57 247.25 L791.79 253.19 L792.01 258.57 L792.23 263.16 L792.45 266.78 L792.67 269.25 L792.89 270.48 L793.11 270.42 L793.33 269.07 L793.55 266.47 L793.77 262.75 L793.99 258.04 L794.21 252.55 L794.43 246.51 L794.65 240.17 L794.87 233.79 L795.09 227.65 L795.31 221.99 L795.53 217.05 L795.75 213.06 L795.97 210.16 L796.19 208.49 L796.41 208.11 L796.63 209.05 L796.85 211.26 L797.07 214.65 L797.29 219.09 L797.51 224.39 L797.73 230.32 L797.95 236.63 L798.17 243.08 L798.39 249.37 L798.61 255.26 L798.83 260.49 L799.05 264.85 L799.27 268.15 L799.49 270.25 L799.71 271.07 L799.93 270.56 L800.15 268.76 L800.37 265.73 L800.59 261.61 L800.81 256.56 L801.03 250.79 L801.25 244.56 L801.47 238.11 L801.69 231.71 L801.91 225.65 L802.13 220.16 L802.35 215.49 L802.57 211.81 L802.79 209.3 L803.01 208.05 L803.23 208.11 L803.45 209.49 L803.67 212.12 L803.89 215.89 L804.11 220.65 L804.33 226.2 L804.55 232.3 L804.77 238.7 L804.99 245.12 L805.21 251.31 L805.43 257 L805.65 261.96 L805.87 265.97 L806.09 268.88 L806.31 270.55 L806.53 270.92 L806.75 269.98 L806.97 267.77 L807.19 264.38 L807.41 259.95 L807.63 254.67 L807.85 248.76 L808.07 242.48 L808.29 236.07 L808.51 229.82 L808.73 223.97 L808.95 218.79 L809.17 214.47 L809.39 211.21 L809.61 209.14 L809.83 208.33 L810.05 208.83 L810.27 210.61 L810.49 213.6 L810.71 217.66 L810.93 222.63 L811.15 228.29 L811.37 234.42 L811.59 240.74 L811.81 247 L812.03 252.94 L812.25 258.31 L812.47 262.88 L812.69 266.46 L812.91 268.91 L813.13 270.13 L813.35 270.06 L813.57 268.72 L813.79 266.16 L814.01 262.49 L814.23 257.87 L814.45 252.5 L814.67 246.59 L814.89 240.4 L815.11 234.19 L815.33 228.21 L815.55 222.72 L815.77 217.95 L815.99 214.09 L816.21 211.3 L816.43 209.69 L816.65 209.33 L816.87 210.24 L817.09 212.36 L817.31 215.61 L817.53 219.85 L817.75 224.9 L817.97 230.54 L818.19 236.54 L818.41 242.65 L818.63 248.6 L818.85 254.16 L819.07 259.08 L819.29 263.18 L819.51 266.27 L819.73 268.23 L819.95 268.99 L820.17 268.51 L820.39 266.83 L820.61 264 L820.83 260.17 L821.05 255.49 L821.27 250.15 L821.49 244.39 L821.71 238.45 L821.93 232.58 L822.15 227.01 L822.37 221.99 L822.59 217.72 L822.81 214.37 L823.03 212.09 L823.25 210.96 L823.47 211.02 L823.69 212.28 L823.91 214.66 L824.13 218.07 L824.35 222.37 L824.57 227.35 L824.79 232.83 L825.01 238.55 L825.23 244.29 L825.45 249.81 L825.67 254.87 L825.89 259.27 L826.11 262.82 L826.33 265.38 L826.55 266.84 L826.77 267.17 L826.99 266.33 L827.21 264.38 L827.43 261.4 L827.65 257.52 L827.87 252.91 L828.09 247.77 L828.31 242.3 L828.53 236.75 L828.75 231.34 L828.97 226.3 L829.19 221.84 L829.41 218.14 L829.63 215.35 L829.85 213.58 L830.07 212.9 L830.29 213.34 L830.51 214.87 L830.73 217.41 L830.95 220.86 L831.17 225.07 L831.39 229.86 L831.61 235.02 L831.83 240.33 L832.05 245.58 L832.27 250.54 L832.49 255.01 L832.71 258.81 L832.93 261.77 L833.15 263.79 L833.37 264.78 L833.59 264.72 L833.81 263.6 L834.03 261.48 L834.25 258.46 L834.47 254.67 L834.69 250.28 L834.91 245.46 L835.13 240.43 L835.35 235.4 L835.57 230.57 L835.79 226.15 L836.01 222.32 L836.23 219.23 L836.45 217.01 L836.67 215.74 L836.89 215.47 L837.11 216.21 L837.33 217.91 L837.55 220.5 L837.77 223.86 L837.99 227.85 L838.21 232.29 L838.43 237 L838.65 241.77 L838.87 246.41 L839.09 250.72 L839.31 254.53 L839.53 257.69 L839.75 260.06 L839.97 261.55 L840.19 262.11 L840.41 261.72 L840.63 260.41 L840.85 258.24 L841.07 255.31 L841.29 251.75 L841.51 247.71 L841.73 243.36 L841.95 238.89 L842.17 234.49 L842.39 230.33 L842.61 226.6 L842.83 223.44 L843.05 220.98 L843.27 219.32 L843.49 218.51 L843.71 218.58 L843.93 219.53 L844.15 221.29 L844.37 223.8 L844.59 226.94 L844.81 230.57 L845.03 234.53 L845.25 238.66 L845.47 242.77 L845.69 246.71 L845.91 250.31 L846.13 253.42 L846.35 255.91 L846.57 257.7 L846.79 258.7 L847.01 258.9 L847.23 258.28 L847.45 256.89 L847.67 254.79 L847.89 252.08 L848.11 248.88 L848.33 245.32 L848.55 241.57 L848.77 237.77 L848.99 234.09 L849.21 230.68 L849.43 227.69 L849.65 225.22 L849.87 223.37 L850.09 222.22 L850.31 221.81 L850.53 222.13 L850.75 223.18 L850.97 224.89 L851.19 227.19 L851.41 229.96 L851.63 233.1 L851.85 236.46 L852.07 239.9 L852.29 243.28 L852.51 246.45 L852.73 249.28 L852.95 251.67 L853.17 253.52 L853.39 254.75 L853.61 255.34 L853.83 255.25 L854.05 254.51 L854.27 253.16 L854.49 251.26 L854.71 248.9 L854.93 246.19 L855.15 243.24 L855.37 240.18 L855.59 237.15 L855.81 234.26 L856.03 231.64 L856.25 229.39 L856.47 227.6 L856.69 226.33 L856.91 225.64 L857.13 225.53 L857.35 226.01 L857.57 227.04 L857.79 228.56 L858.01 230.52 L858.23 232.81 L858.45 235.34 L858.67 237.99 L858.89 240.66 L859.11 243.22 L859.33 245.58 L859.55 247.64 L859.77 249.32 L859.99 250.56 L860.21 251.31 L860.43 251.55 L860.65 251.29 L860.87 250.54 L861.09 249.35 L861.31 247.78 L861.53 245.9 L861.75 243.79 L861.97 241.55 L862.19 239.28 L862.41 237.07 L862.63 235.02 L862.85 233.2 L863.07 231.69 L863.29 230.54 L863.51 229.79 L863.73 229.46 L863.95 229.56 L864.17 230.08 L864.39 230.97 L864.61 232.19 L864.83 233.68 L865.05 235.37 L865.27 237.19 L865.49 239.05 L865.71 240.88 L865.93 242.59 L866.15 244.12 L866.37 245.42 L866.59 246.43 L866.81 247.11 L867.03 247.46 L867.25 247.47 L867.47 247.14 L867.69 246.5 L867.91 245.6 L868.13 244.47 L868.35 243.18 L868.57 241.78 L868.79 240.34 L869.01 238.91 L869.23 237.57 L869.45 236.36 L869.67 235.33 L869.89 234.52 L870.11 233.95 L870.33 233.64 L870.55 233.58 L870.77 233.78 L870.99 234.21 L871.21 234.84 L871.43 235.63 L871.65 236.55 L871.87 237.54 L872.09 238.57 L872.31 239.58 L872.53 240.53 L872.75 241.38 L872.97 242.1 L873.19 242.67 L873.41 243.06 L873.63 243.28 L873.85 243.33 L874.07 243.21 L874.29 242.93 L874.51 242.53 L874.73 242.03 L874.95 241.46 L875.17 240.85 L875.39 240.24 L875.61 239.65 L875.83 239.11 L876.05 238.64 L876.27 238.26 L876.49 237.98 L876.71 237.81 L876.93 237.74 L877.15 237.76 L877.37 237.87 L877.59 238.04 L877.81 238.27 L878.03 238.52 L878.25 238.78 L878.47 239.02 L878.69 239.24 L878.91 239.42 L879.13 239.54 L879.35 239.61 L879.57 239.61 L879.79 239.56 L880.01 239.51 L880.23 239.57 L880.46 239.68 L880.68 239.83 L880.9 240.01 L881.12 240.19 L881.34 240.37 L881.56 240.52 L881.78 240.62 L882 240.67 L882.22 240.64 L882.44 240.53 L882.66 240.33 L882.88 240.05 L883.1 239.7 L883.32 239.28 L883.54 238.81 L883.76 238.32 L883.98 237.83 L884.2 237.36 L884.42 236.95 L884.64 236.62 L884.86 236.4 L885.08 236.3 L885.3 236.34 L885.52 236.53 L885.74 236.88 L885.96 237.37 L886.18 238 L886.4 238.74 L886.62 239.57 L886.84 240.45 L887.06 241.35 L887.28 242.22 L887.5 243.02 L887.72 243.72 L887.94 244.27 L888.16 244.64 L888.38 244.8 L888.6 244.75 L888.82 244.46 L889.04 243.94 L889.26 243.2 L889.48 242.26 L889.7 241.17 L889.92 239.95 L890.14 238.65 L890.36 237.34 L890.58 236.06 L890.8 234.88 L891.02 233.85 L891.24 233.02 L891.46 232.44 L891.68 232.13 L891.9 232.13 L892.12 232.44 L892.34 233.07 L892.56 233.99 L892.78 235.18 L893 236.6 L893.22 238.18 L893.44 239.88 L893.66 241.61 L893.88 243.31 L894.1 244.9 L894.32 246.31 L894.54 247.47 L894.76 248.33 L894.98 248.84 L895.2 248.97 L895.42 248.7 L895.64 248.04 L895.86 247 L896.08 245.61 L896.3 243.93 L896.52 242.02 L896.74 239.95 L896.96 237.81 L897.18 235.68 L897.4 233.67 L897.62 231.85 L897.84 230.31 L898.06 229.12 L898.28 228.34 L898.5 228.01 L898.72 228.15 L898.94 228.78 L899.16 229.87 L899.38 231.39 L899.6 233.28 L899.82 235.47 L900.04 237.88 L900.26 240.41 L900.48 242.95 L900.7 245.4 L900.92 247.65 L901.14 249.61 L901.36 251.18 L901.58 252.29 L901.8 252.88 L902.02 252.93 L902.24 252.41 L902.46 251.35 L902.68 249.77 L902.9 247.73 L903.12 245.3 L903.34 242.6 L903.56 239.71 L903.78 236.77 L904 233.89 L904.22 231.2 L904.44 228.81 L904.66 226.82 L904.88 225.33 L905.1 224.41 L905.32 224.11 L905.54 224.44 L905.76 225.41 L905.98 226.98 L906.2 229.1 L906.42 231.69 L906.64 234.64 L906.86 237.84 L907.08 241.15 L907.3 244.45 L907.52 247.58 L907.74 250.43 L907.96 252.85 L908.18 254.76 L908.4 256.06 L908.62 256.68 L908.84 256.6 L909.06 255.8 L909.28 254.31 L909.5 252.18 L909.72 249.5 L909.94 246.37 L910.16 242.91 L910.38 239.26 L910.6 235.57 L910.82 232.01 L911.04 228.71 L911.26 225.82 L911.48 223.46 L911.7 221.75 L911.92 220.75 L912.14 220.52 L912.36 221.08 L912.58 222.41 L912.8 224.47 L913.02 227.18 L913.24 230.43 L913.46 234.1 L913.68 238.03 L913.9 242.07 L914.12 246.04 L914.34 249.78 L914.56 253.14 L914.78 255.97 L915 258.14 L915.22 259.55 L915.44 260.15 L915.66 259.9 L915.88 258.79 L916.1 256.87 L916.32 254.21 L916.54 250.91 L916.76 247.11 L916.98 242.95 L917.2 238.61 L917.42 234.26 L917.64 230.09 L917.86 226.27 L918.08 222.97 L918.3 220.32 L918.52 218.44 L918.74 217.43 L918.96 217.32 L919.18 218.13 L919.4 219.84 L919.62 222.37 L919.84 225.65 L920.06 229.52 L920.28 233.84 L920.5 238.44 L920.72 243.12 L920.94 247.68 L921.16 251.95 L921.38 255.73 L921.6 258.86 L921.82 261.22 L922.04 262.7 L922.26 263.22 L922.48 262.77 L922.7 261.34 L922.92 259 L923.14 255.83 L923.36 251.95 L923.58 247.54 L923.8 242.75 L924.02 237.8 L924.24 232.88 L924.46 228.2 L924.68 223.95 L924.9 220.32 L925.12 217.46 L925.34 215.5 L925.56 214.52 L925.78 214.56 L926 215.65 L926.22 217.73 L926.44 220.72 L926.66 224.52 L926.88 228.96 L927.1 233.86 L927.32 239.04 L927.54 244.26 L927.76 249.32 L927.98 254 L928.2 258.11 L928.42 261.48 L928.64 263.95 L928.86 265.42 L929.08 265.83 L929.3 265.15 L929.52 263.4 L929.74 260.65 L929.96 257.01 L930.18 252.62 L930.4 247.66 L930.62 242.34 L930.84 236.87 L931.06 231.48 L931.28 226.39 L931.5 221.82 L931.72 217.96 L931.94 214.97 L932.16 212.98 L932.38 212.08 L932.6 212.32 L932.82 213.68 L933.04 216.11 L933.26 219.53 L933.48 223.8 L933.7 228.73 L933.92 234.13 L934.14 239.78 L934.36 245.45 L934.58 250.9 L934.8 255.89 L935.02 260.23 L935.24 263.74 L935.46 266.25 L935.68 267.66 L935.9 267.92 L936.12 267 L936.34 264.94 L936.56 261.81 L936.78 257.75 L937 252.91 L937.22 247.5 L937.44 241.74 L937.66 235.86 L937.88 230.11 L938.1 224.73 L938.32 219.94 L938.54 215.94 L938.76 212.9 L938.98 210.95 L939.2 210.18 L939.42 210.62 L939.64 212.25 L939.86 215.02 L940.08 218.81 L940.3 223.48 L940.52 228.82 L940.74 234.62 L940.96 240.64 L941.18 246.63 L941.4 252.35 L941.62 257.55 L941.84 262.02 L942.06 265.58 L942.28 268.06 L942.5 269.37 L942.72 269.45 L942.94 268.28 L943.16 265.93 L943.38 262.47 L943.6 258.05 L943.82 252.86 L944.04 247.09 L944.26 241 L944.48 234.83 L944.7 228.84 L944.92 223.27 L945.14 218.36 L945.36 214.32 L945.58 211.31 L945.8 209.45 L946.02 208.84 L946.24 209.49 L946.46 211.39 L946.68 214.45 L946.9 218.56 L947.12 223.54 L947.34 229.19 L947.56 235.28 L947.78 241.55 L948 247.75 L948.22 253.63 L948.44 258.92 L948.66 263.43 L948.88 266.95 L949.1 269.34 L949.32 270.5 L949.54 270.38 L949.76 268.99 L949.98 266.37 L950.2 262.64 L950.42 257.94 L950.64 252.48 L950.86 246.47 L951.08 240.16 L951.3 233.82 L951.52 227.71 L951.74 222.08 L951.96 217.16 L952.18 213.16 L952.4 210.24 L952.62 208.53 L952.84 208.1 L953.06 208.97 L953.28 211.1 L953.5 214.41 L953.72 218.75 L953.94 223.96 L954.16 229.82 L954.38 236.07 L954.6 242.48 L954.82 248.76 L955.04 254.67 L955.26 259.95 L955.48 264.39 L955.7 267.81 L955.92 270.05 L956.14 271.03 L956.36 270.71 L956.58 269.1 L956.8 266.27 L957.02 262.32 L957.24 257.44 L957.46 251.81 L957.68 245.67 L957.9 239.28"/></g><g fill="none" stroke-width="1.6" stroke-linejoin="round"><path d="M644.17 69.2 L644.39 62.57 L644.61 56.24 L644.83 50.49 L645.05 45.58 L645.27 41.73 L645.49 39.1 L645.71 37.82 L645.93 37.94 L646.15 39.47 L646.37 42.32 L646.59 46.38 L646.81 51.46 L647.03 57.33 L647.25 63.73 L647.47 70.38 L647.69 76.98 L647.91 83.22 L648.13 88.84 L648.35 93.58 L648.57 97.23 L648.79 99.63 L649.01 100.66 L649.23 100.29 L649.45 98.52 L649.67 95.44 L649.89 91.19 L650.11 85.95 L650.33 79.97 L650.55 73.5 L650.77 66.84 L650.99 60.28 L651.21 54.13 L651.43 48.65 L651.65 44.08 L651.87 40.65 L652.09 38.49 L652.31 37.7 L652.53 38.33 L652.75 40.33 L652.97 43.63 L653.19 48.07 L653.41 53.46 L653.63 59.55 L653.85 66.08 L654.07 72.74 L654.29 79.24 L654.51 85.3 L654.73 90.64 L654.95 95.01 L655.17 98.23 L655.39 100.15 L655.61 100.69 L655.83 99.82 L656.05 97.57 L656.27 94.06 L656.49 89.44 L656.71 83.91 L656.93 77.72 L657.15 71.15 L657.37 64.49 L657.59 58.04 L657.81 52.1 L658.03 46.91 L658.25 42.73 L658.47 39.73 L658.69 38.05 L658.91 37.76 L659.13 38.88 L659.35 41.36 L659.57 45.08 L659.79 49.88 L660 55.55 L660.22 61.83 L660.44 68.44 L660.66 75.08 L660.88 81.46 L661.1 87.29 L661.32 92.31 L661.54 96.29 L661.76 99.07 L661.98 100.5 L662.2 100.54 L662.42 99.18 L662.64 96.47 L662.86 92.54 L663.08 87.57 L663.3 81.77 L663.52 75.42 L663.74 68.78 L663.96 62.17 L664.18 55.86 L664.4 50.16 L664.62 45.31 L664.84 41.52 L665.06 38.98 L665.28 37.79 L665.5 38 L665.72 39.61 L665.94 42.54 L666.16 46.67 L666.38 51.8 L666.6 57.72 L666.82 64.15 L667.04 70.8 L667.26 77.38 L667.48 83.6 L667.7 89.17 L667.92 93.85 L668.14 97.42 L668.36 99.73 L668.58 100.68 L668.8 100.22 L669.02 98.37 L669.24 95.21 L669.46 90.89 L669.68 85.6 L669.9 79.57 L670.12 73.08 L670.34 66.42 L670.56 59.88 L670.78 53.76 L671 48.33 L671.22 43.84 L671.44 40.47 L671.66 38.4 L671.88 37.7 L672.1 38.41 L672.32 40.5 L672.54 43.88 L672.76 48.38 L672.98 53.82 L673.2 59.95 L673.42 66.49 L673.64 73.15 L673.86 79.64 L674.08 85.66 L674.3 90.94 L674.52 95.25 L674.74 98.39 L674.96 100.23 L675.18 100.68 L675.4 99.72 L675.62 97.39 L675.84 93.8 L676.06 89.11 L676.28 83.53 L676.5 77.31 L676.72 70.73 L676.94 64.08 L677.16 57.65 L677.38 51.75 L677.6 46.62 L677.82 42.51 L678.04 39.59 L678.26 37.99 L678.48 37.79 L678.7 39 L678.92 41.56 L679.14 45.35 L679.36 50.22 L679.58 55.93 L679.8 62.23 L680.02 68.85 L680.24 75.49 L680.46 81.84 L680.68 87.63 L680.9 92.59 L681.12 96.5 L681.34 99.2 L681.56 100.55 L681.78 100.5 L682 99.04 L682.22 96.26 L682.44 92.26 L682.66 87.23 L682.88 81.39 L683.1 75.01 L683.32 68.37 L683.54 61.76 L683.76 55.49 L683.98 49.83 L684.2 45.04 L684.42 41.33 L684.64 38.86 L684.86 37.76 L685.08 38.06 L685.3 39.75 L685.52 42.77 L685.74 46.96 L685.96 52.15 L686.18 58.11 L686.4 64.56 L686.62 71.22 L686.84 77.78 L687.06 83.97 L687.28 89.49 L687.5 94.1 L687.72 97.6 L687.94 99.83 L688.16 100.69 L688.38 100.14 L688.6 98.2 L688.82 94.97 L689.04 90.58 L689.26 85.24 L689.48 79.18 L689.7 72.67 L689.92 66.01 L690.14 59.49 L690.36 53.4 L690.58 48.02 L690.8 43.59 L691.02 40.3 L691.23 38.31 L691.45 37.7 L691.67 38.5 L691.89 40.68 L692.11 44.13 L692.33 48.7 L692.55 54.19 L692.77 60.35 L692.99 66.91 L693.21 73.57 L693.43 80.03 L693.65 86.01 L693.87 91.24 L694.09 95.48 L694.31 98.55 L694.53 100.3 L694.75 100.66 L694.97 99.61 L695.19 97.2 L695.41 93.54 L695.63 88.79 L695.85 83.16 L696.07 76.91 L696.29 70.31 L696.51 63.67 L696.73 57.27 L696.95 51.4 L697.17 46.33 L697.39 42.29 L697.61 39.45 L697.83 37.94 L698.05 37.83 L698.27 39.12 L698.49 41.76 L698.71 45.63 L698.93 50.55 L699.15 56.31 L699.37 62.64 L699.59 69.27 L699.81 75.89 L700.03 82.22 L700.25 87.96 L700.47 92.86 L700.69 96.71 L700.91 99.32 L701.13 100.59 L701.35 100.45 L701.57 98.91 L701.79 96.04 L702.01 91.97 L702.23 86.88 L702.45 81.01 L702.67 74.6 L702.89 67.95 L703.11 61.36 L703.33 55.11 L703.55 49.5 L703.77 44.77 L703.99 41.13 L704.21 38.75 L704.43 37.74 L704.65 38.13 L704.87 39.91 L705.09 43 L705.31 47.26 L705.53 52.51 L705.75 58.5 L705.97 64.97 L706.19 71.63 L706.41 78.18 L706.63 84.33 L706.85 89.81 L707.07 94.36 L707.29 97.78 L707.51 99.93 L707.73 100.7 L707.95 100.06 L708.17 98.04 L708.39 94.73 L708.61 90.28 L708.83 84.88 L709.05 78.78 L709.27 72.26 L709.49 65.59 L709.71 59.09 L709.93 53.04 L710.15 47.71 L710.37 43.35 L710.59 40.14 L710.81 38.23 L711.03 37.71 L711.25 38.6 L711.47 40.86 L711.69 44.38 L711.91 49.02 L712.13 54.56 L712.35 60.75 L712.57 67.32 L712.79 73.98 L713.01 80.42 L713.23 86.36 L713.45 91.54 L713.67 95.71 L713.89 98.69 L714.11 100.36 L714.33 100.63 L714.55 99.5 L714.77 97.01 L714.99 93.27 L715.21 88.46 L715.43 82.79 L715.65 76.5 L715.87 69.9 L716.09 63.26 L716.31 56.88 L716.53 51.06 L716.75 46.05 L716.97 42.07 L717.19 39.31 L717.41 37.89 L717.63 37.87 L717.85 39.25 L718.07 41.97 L718.29 45.91 L718.51 50.89 L718.73 56.69 L718.95 63.05 L719.17 69.69 L719.39 76.3 L719.61 82.6 L719.83 88.3 L720.05 93.14 L720.27 96.91 L720.49 99.44 L720.71 100.62 L720.93 100.39 L721.15 98.77 L721.37 95.82 L721.59 91.68 L721.81 86.54 L722.03 80.62 L722.25 74.19 L722.46 67.53 L722.68 60.95 L722.9 54.74 L723.12 49.18 L723.34 44.51 L723.56 40.95 L723.78 38.65 L724 37.72 L724.22 38.2 L724.44 40.06 L724.66 43.23 L724.88 47.56 L725.1 52.86 L725.32 58.89 L725.54 65.38 L725.76 72.05 L725.98 78.58 L726.2 84.7 L726.42 90.12 L726.64 94.61 L726.86 97.95 L727.08 100.02 L727.3 100.7 L727.52 99.97 L727.74 97.87 L727.96 94.48 L728.18 89.96 L728.4 84.52 L728.62 78.38 L728.84 71.84 L729.06 65.18 L729.28 58.7 L729.5 52.68 L729.72 47.41 L729.94 43.11 L730.16 39.98 L730.38 38.16 L730.6 37.73 L730.82 38.7 L731.04 41.04 L731.26 44.64 L731.48 49.34 L731.7 54.93 L731.92 61.15 L732.14 67.74 L732.36 74.39 L732.58 80.81 L732.8 86.71 L733.02 91.83 L733.24 95.93 L733.46 98.84 L733.68 100.42 L733.9 100.6 L734.12 99.38 L734.34 96.81 L734.56 93 L734.78 88.13 L735 82.41 L735.22 76.1 L735.44 69.48 L735.66 62.85 L735.88 56.5 L736.1 50.72 L736.32 45.77 L736.54 41.86 L736.76 39.18 L736.98 37.85 L737.2 37.91 L737.42 39.38 L737.64 42.18 L737.86 46.19 L738.08 51.23 L738.3 57.07 L738.52 63.46 L738.74 70.1 L738.96 76.71 L739.18 82.97 L739.4 88.63 L739.62 93.41 L739.84 97.11 L740.06 99.56 L740.28 100.65 L740.5 100.33 L740.72 98.62 L740.94 95.59 L741.16 91.39 L741.38 86.19 L741.6 80.23 L741.82 73.77 L742.04 67.12 L742.26 60.55 L742.48 54.37 L742.7 48.86 L742.92 44.25 L743.14 40.77 L743.36 38.55 L743.58 37.71 L743.8 38.27 L744.02 40.22 L744.24 43.47 L744.46 47.87 L744.68 53.22 L744.9 59.29 L745.12 65.8 L745.34 72.46 L745.56 78.98 L745.78 85.06 L746 90.43 L746.22 94.85 L746.44 98.12 L746.66 100.1 L746.88 100.7 L747.1 99.88 L747.32 97.69 L747.54 94.23 L747.76 89.65 L747.98 84.15 L748.2 77.98 L748.42 71.42 L748.64 64.76 L748.86 58.3 L749.08 52.33 L749.3 47.11 L749.52 42.88 L749.74 39.83 L749.96 38.09 L750.18 37.75 L750.4 38.81 L750.62 41.23 L750.84 44.9 L751.06 49.67 L751.28 55.3 L751.5 61.56 L751.72 68.16 L751.94 74.8 L752.16 81.2 L752.38 87.06 L752.6 92.12 L752.82 96.15 L753.04 98.98 L753.26 100.47 L753.48 100.57 L753.7 99.26 L753.91 96.61 L754.13 92.73 L754.35 87.79 L754.57 82.03 L754.79 75.69 L755.01 69.06 L755.23 62.44 L755.45 56.12 L755.67 50.38 L755.89 45.49 L756.11 41.66 L756.33 39.06 L756.55 37.81 L756.77 37.96 L756.99 39.51 L757.21 42.4 L757.43 46.48 L757.65 51.57 L757.87 57.46 L758.09 63.87 L758.31 70.52 L758.53 77.11 L758.75 83.35 L758.97 88.95 L759.19 93.67 L759.41 97.3 L759.63 99.66 L759.85 100.67 L760.07 100.26 L760.29 98.47 L760.51 95.36 L760.73 91.09 L760.95 85.83 L761.17 79.84 L761.39 73.36 L761.61 66.7 L761.83 60.15 L762.05 54.01 L762.27 48.54 L762.49 44 L762.71 40.59 L762.93 38.46 L763.15 37.7 L763.37 38.35 L763.59 40.39 L763.81 43.71 L764.03 48.18 L764.25 53.58 L764.47 59.68 L764.69 66.21 L764.91 72.88 L765.13 79.38 L765.35 85.42 L765.57 90.74 L765.79 95.09 L766.01 98.29 L766.23 100.18 L766.45 100.69 L766.67 99.78 L766.89 97.51 L767.11 93.98 L767.33 89.33 L767.55 83.78 L767.77 77.58 L767.99 71.01 L768.21 64.35 L768.43 57.91 L768.65 51.98 L768.87 46.82 L769.09 42.65 L769.31 39.68 L769.53 38.03 L769.75 37.77 L769.97 38.92 L770.19 41.42 L770.41 45.17 L770.63 49.99 L770.85 55.68 L771.07 61.96 L771.29 68.57 L771.51 75.21 L771.73 81.58 L771.95 87.4 L772.17 92.4 L772.39 96.36 L772.61 99.11 L772.83 100.52 L773.05 100.53 L773.27 99.13 L773.49 96.4 L773.71 92.45 L773.93 87.46 L774.15 81.65 L774.37 75.28 L774.59 68.64 L774.81 62.03 L775.03 55.74 L775.25 50.05 L775.47 45.22 L775.69 41.46 L775.91 38.94 L776.13 37.78 L776.35 38.02 L776.57 39.66 L776.79 42.62 L777.01 46.77 L777.23 51.92 L777.45 57.85 L777.67 64.28 L777.89 70.94 L778.11 77.52 L778.33 83.72 L778.55 89.28 L778.77 93.93 L778.99 97.48 L779.21 99.77 L779.43 100.68 L779.65 100.19 L779.87 98.31 L780.09 95.13 L780.31 90.79 L780.53 85.48 L780.75 79.44 L780.97 72.95 L781.19 66.28 L781.41 59.75 L781.63 53.64 L781.85 48.23 L782.07 43.75 L782.29 40.42 L782.51 38.37 L782.73 37.7 L782.95 38.44 L783.17 40.56 L783.39 43.96 L783.61 48.49 L783.83 53.94 L784.05 60.08 L784.27 66.63 L784.49 73.29 L784.71 79.77 L784.93 85.78 L785.14 91.04 L785.36 95.33 L785.58 98.44 L785.8 100.25 L786.02 100.67 L786.24 99.68 L786.46 97.33 L786.68 93.72 L786.9 89.01 L787.12 83.41 L787.34 77.18 L787.56 70.59 L787.78 63.94 L788 57.52 L788.22 51.63 L788.44 46.52 L788.66 42.43 L788.88 39.54 L789.1 37.97 L789.32 37.8 L789.54 39.04 L789.76 41.62 L789.98 45.44 L790.2 50.33 L790.42 56.05 L790.64 62.37 L790.86 68.99 L791.08 75.62 L791.3 81.97 L791.52 87.74 L791.74 92.68 L791.96 96.57 L792.18 99.24 L792.4 100.56 L792.62 100.48 L792.84 99 L793.06 96.19 L793.28 92.16 L793.5 87.11 L793.72 81.26 L793.94 74.87 L794.16 68.23 L794.38 61.63 L794.6 55.36 L794.82 49.72 L795.04 44.95 L795.26 41.26 L795.48 38.83 L795.7 37.75 L795.92 38.08 L796.14 39.8 L796.36 42.84 L796.58 47.06 L796.8 52.27 L797.02 58.24 L797.24 64.7 L797.46 71.35 L797.68 77.92 L797.9 84.09 L798.12 89.6 L798.34 94.19 L798.56 97.66 L798.78 99.87 L799 100.69 L799.22 100.11 L799.44 98.15 L799.66 94.89 L799.88 90.48 L800.1 85.12 L800.32 79.05 L800.54 72.53 L800.76 65.87 L800.98 59.35 L801.2 53.28 L801.42 47.92 L801.64 43.51 L801.86 40.25 L802.08 38.29 L802.3 37.71 L802.52 38.53 L802.74 40.74 L802.96 44.21 L803.18 48.8 L803.4 54.31 L803.62 60.48 L803.84 67.05 L804.06 73.7 L804.28 80.16 L804.5 86.13 L804.72 91.34 L804.94 95.56 L805.16 98.6 L805.38 100.32 L805.6 100.65 L805.82 99.57 L806.04 97.14 L806.26 93.45 L806.48 88.68 L806.7 83.04 L806.92 76.77 L807.14 70.17 L807.36 63.53 L807.58 57.14 L807.8 51.29 L808.02 46.24 L808.24 42.21 L808.46 39.4 L808.68 37.92 L808.9 37.84 L809.12 39.16 L809.34 41.83 L809.56 45.72 L809.78 50.66 L810 56.43 L810.22 62.78 L810.44 69.41 L810.66 76.03 L810.88 82.35 L811.1 88.07 L811.32 92.96 L811.54 96.78 L811.76 99.36 L811.98 100.6 L812.2 100.43 L812.42 98.86 L812.64 95.97 L812.86 91.88 L813.08 86.77 L813.3 80.88 L813.52 74.46 L813.74 67.81 L813.96 61.22 L814.18 54.99 L814.4 49.39 L814.62 44.68 L814.84 41.07 L815.06 38.72 L815.28 37.73 L815.5 38.15 L815.72 39.96 L815.94 43.07 L816.16 47.36 L816.37 52.62 L816.59 58.63 L816.81 65.11 L817.03 71.77 L817.25 78.32 L817.47 84.46 L817.69 89.91 L817.91 94.44 L818.13 97.84 L818.35 99.96 L818.57 100.7 L818.79 100.03 L819.01 97.98 L819.23 94.65 L819.45 90.17 L819.67 84.76 L819.89 78.65 L820.11 72.12 L820.33 65.45 L820.55 58.96 L820.77 52.92 L820.99 47.61 L821.21 43.27 L821.43 40.09 L821.65 38.21 L821.87 37.72 L822.09 38.63 L822.31 40.92 L822.53 44.47 L822.75 49.12 L822.97 54.68 L823.19 60.88 L823.41 67.46 L823.63 74.12 L823.85 80.55 L824.07 86.48 L824.29 91.63 L824.51 95.78 L824.73 98.74 L824.95 100.38 L825.17 100.62 L825.39 99.46 L825.61 96.94 L825.83 93.18 L826.05 88.35 L826.27 82.66 L826.49 76.37 L826.71 69.76 L826.93 63.12 L827.15 56.75 L827.37 50.94 L827.59 45.95 L827.81 42 L828.03 39.27 L828.25 37.87 L828.47 37.88 L828.69 39.29 L828.91 42.04 L829.13 46 L829.35 51 L829.57 56.82 L829.79 63.19 L830.01 69.83 L830.23 76.44 L830.45 82.72 L830.67 88.41 L830.89 93.23 L831.11 96.98 L831.33 99.48 L831.55 100.63 L831.77 100.37 L831.99 98.72 L832.21 95.75 L832.43 91.58 L832.65 86.42 L832.87 80.49 L833.09 74.05 L833.31 67.39 L833.53 60.82 L833.75 54.62 L833.97 49.07 L834.19 44.42 L834.41 40.89 L834.63 38.62 L834.85 37.71 L835.07 38.22 L835.29 40.11 L835.51 43.31 L835.73 47.66 L835.95 52.98 L836.17 59.02 L836.39 65.52 L836.61 72.19 L836.83 78.72 L837.05 84.82 L837.27 90.22 L837.49 94.69 L837.71 98.01 L837.93 100.05 L838.15 100.7 L838.37 99.94 L838.59 97.81 L838.81 94.4 L839.03 89.86 L839.25 84.39 L839.47 78.25 L839.69 71.7 L839.91 65.04 L840.13 58.56 L840.35 52.57 L840.57 47.31 L840.79 43.04 L841.01 39.93 L841.23 38.14 L841.45 37.73 L841.67 38.74 L841.89 41.1 L842.11 44.73 L842.33 49.45 L842.55 55.05 L842.77 61.29 L842.99 67.88 L843.21 74.53 L843.43 80.94 L843.65 86.83 L843.87 91.92 L844.09 96 L844.31 98.89 L844.53 100.44 L844.75 100.59 L844.97 99.34 L845.19 96.74 L845.41 92.91 L845.63 88.02 L845.85 82.28 L846.07 75.96 L846.29 69.34 L846.51 62.71 L846.73 56.37 L846.95 50.61 L847.17 45.67 L847.39 41.79 L847.6 39.14 L847.82 37.83 L848.04 37.93 L848.26 39.42 L848.48 42.25 L848.7 46.28 L848.92 51.34 L849.14 57.2 L849.36 63.6 L849.58 70.24 L849.8 76.84 L850.02 83.1 L850.24 88.73 L850.46 93.5 L850.68 97.17 L850.9 99.59 L851.12 100.65 L851.34 100.31 L851.56 98.57 L851.78 95.52 L852 91.29 L852.22 86.07 L852.44 80.1 L852.66 73.64 L852.88 66.98 L853.1 60.42 L853.32 54.25 L853.54 48.75 L853.76 44.17 L853.98 40.71 L854.2 38.52 L854.42 37.7 L854.64 38.3 L854.86 40.28 L855.08 43.55 L855.3 47.97 L855.52 53.34 L855.74 59.42 L855.96 65.94 L856.18 72.6 L856.4 79.11 L856.62 85.18 L856.84 90.53 L857.06 94.93 L857.28 98.18 L857.5 100.13 L857.72 100.69 L857.94 99.85 L858.16 97.63 L858.38 94.15 L858.6 89.54 L858.82 84.03 L859.04 77.85 L859.26 71.28 L859.48 64.63 L859.7 58.17 L859.92 52.21 L860.14 47.01 L860.36 42.81 L860.58 39.78 L860.8 38.07 L861.02 37.75 L861.24 38.84 L861.46 41.29 L861.68 44.99 L861.9 49.77 L862.12 55.43 L862.34 61.69 L862.56 68.3 L862.78 74.94 L863 81.33 L863.22 87.17 L863.44 92.21 L863.66 96.22 L863.88 99.02 L864.1 100.49 L864.32 100.55 L864.54 99.22 L864.76 96.54 L864.98 92.63 L865.2 87.68 L865.42 81.9 L865.64 75.55 L865.86 68.92 L866.08 62.3 L866.3 55.99 L866.52 50.27 L866.74 45.4 L866.96 41.59 L867.18 39.02 L867.4 37.8 L867.62 37.98 L867.84 39.56 L868.06 42.47 L868.28 46.57 L868.5 51.69 L868.72 57.59 L868.94 64.01 L869.16 70.66 L869.38 77.25 L869.6 83.47 L869.82 89.06 L870.04 93.76 L870.26 97.36 L870.48 99.7 L870.7 100.67 L870.92 100.24 L871.14 98.42 L871.36 95.29 L871.58 90.99 L871.8 85.72 L872.02 79.7 L872.24 73.22 L872.46 66.56 L872.68 60.02 L872.9 53.88 L873.12 48.44 L873.34 43.92 L873.56 40.53 L873.78 38.43 L874 37.7 L874.22 38.38 L874.44 40.45 L874.66 43.79 L874.88 48.28 L875.1 53.7 L875.32 59.82 L875.54 66.35 L875.76 73.02 L875.98 79.51 L876.2 85.54 L876.42 90.84 L876.64 95.17 L876.86 98.34 L877.08 100.2 L877.3 100.68 L877.52 99.75 L877.74 97.45 L877.96 93.89 L878.18 89.22 L878.4 83.66 L878.62 77.45 L878.84 70.87 L879.05 64.21 L879.27 57.78 L879.49 51.86 L879.71 46.72 L879.93 42.58 L880.15 39.63 L880.37 38.01 L880.59 37.78 L880.81 38.96 L881.03 41.49 L881.25 45.26 L881.47 50.1 L881.69 55.8 L881.91 62.1 L882.13 68.71 L882.35 75.35 L882.57 81.71 L882.79 87.51 L883.01 92.49 L883.23 96.43 L883.45 99.15 L883.67 100.53 L883.89 100.51 L884.11 99.09 L884.33 96.33 L884.55 92.35 L884.77 87.34 L884.99 81.52 L885.21 75.14 L885.43 68.5 L885.65 61.9 L885.87 55.61 L886.09 49.94 L886.31 45.13 L886.53 41.39 L886.75 38.9 L886.97 37.77 L887.19 38.04 L887.41 39.71 L887.63 42.69 L887.85 46.86 L888.07 52.04 L888.29 57.98 L888.51 64.42 L888.73 71.08 L888.95 77.65 L889.17 83.84 L889.39 89.38 L889.61 94.02 L889.83 97.54 L890.05 99.8 L890.27 100.69 L890.49 100.17 L890.71 98.26 L890.93 95.05 L891.15 90.69 L891.37 85.36 L891.59 79.31 L891.81 72.81 L892.03 66.14 L892.25 59.62 L892.47 53.52 L892.69 48.12 L892.91 43.67 L893.13 40.36 L893.35 38.34 L893.57 37.7 L893.79 38.47 L894.01 40.62 L894.23 44.04 L894.45 48.59 L894.67 54.07 L894.89 60.22 L895.11 66.77 L895.33 73.43 L895.55 79.9 L895.77 85.89 L895.99 91.14 L896.21 95.4 L896.43 98.49 L896.65 100.27 L896.87 100.66 L897.09 99.65 L897.31 97.27 L897.53 93.63 L897.75 88.9 L897.97 83.29 L898.19 77.04 L898.41 70.45 L898.63 63.8 L898.85 57.39 L899.07 51.52 L899.29 46.43 L899.51 42.36 L899.73 39.49 L899.95 37.95 L900.17 37.81 L900.39 39.08 L900.61 41.69 L900.83 45.54 L901.05 50.44 L901.27 56.18 L901.49 62.51 L901.71 69.13 L901.93 75.76 L902.15 82.09 L902.37 87.85 L902.59 92.77 L902.81 96.64 L903.03 99.28 L903.25 100.57 L903.47 100.46 L903.69 98.95 L903.91 96.11 L904.13 92.07 L904.35 87 L904.57 81.13 L904.79 74.73 L905.01 68.09 L905.23 61.49 L905.45 55.24 L905.67 49.61 L905.89 44.86 L906.11 41.2 L906.33 38.79 L906.55 37.74 L906.77 38.1 L906.99 39.85 L907.21 42.92 L907.43 47.16 L907.65 52.39 L907.87 58.37 L908.09 64.83 L908.31 71.49 L908.53 78.05 L908.75 84.21 L908.97 89.7 L909.19 94.27 L909.41 97.72 L909.63 99.9 L909.85 100.7 L910.07 100.09 L910.28 98.1 L910.5 94.81 L910.72 90.38 L910.94 85 L911.16 78.91 L911.38 72.39 L911.6 65.73 L911.82 59.22 L912.04 53.16 L912.26 47.82 L912.48 43.43 L912.7 40.2 L912.92 38.26 L913.14 37.71 L913.36 38.57 L913.58 40.8 L913.8 44.3 L914.02 48.91 L914.24 54.43 L914.46 60.62 L914.68 67.18 L914.9 73.84 L915.12 80.29 L915.34 86.25 L915.56 91.44 L915.78 95.63 L916 98.65 L916.22 100.34 L916.44 100.64 L916.66 99.54 L916.88 97.07 L917.1 93.36 L917.32 88.57 L917.54 82.91 L917.76 76.64 L917.98 70.03 L918.2 63.39 L918.42 57.01 L918.64 51.17 L918.86 46.14 L919.08 42.14 L919.3 39.36 L919.52 37.9 L919.74 37.85 L919.96 39.2 L920.18 41.9 L920.4 45.81 L920.62 50.77 L920.84 56.56 L921.06 62.91 L921.28 69.55 L921.5 76.17 L921.72 82.47 L921.94 88.18 L922.16 93.05 L922.38 96.84 L922.6 99.4 L922.82 100.61 L923.04 100.41 L923.26 98.81 L923.48 95.89 L923.7 91.78 L923.92 86.65 L924.14 80.75 L924.36 74.32 L924.58 67.67 L924.8 61.09 L925.02 54.87 L925.24 49.29 L925.46 44.6 L925.68 41.01 L925.9 38.68 L926.12 37.72 L926.34 38.17 L926.56 40.01 L926.78 43.15 L927 47.46 L927.22 52.74 L927.44 58.76 L927.66 65.25 L927.88 71.91 L928.1 78.45 L928.32 84.58 L928.54 90.02 L928.76 94.52 L928.98 97.9 L929.2 99.99 L929.42 100.7 L929.64 100 L929.86 97.93 L930.08 94.56 L930.3 90.07 L930.52 84.64 L930.74 78.52 L930.96 71.98 L931.18 65.32 L931.4 58.83 L931.62 52.8 L931.84 47.51 L932.06 43.19 L932.28 40.03 L932.5 38.18 L932.72 37.72 L932.94 38.67 L933.16 40.98 L933.38 44.55 L933.6 49.23 L933.82 54.8 L934.04 61.02 L934.26 67.6 L934.48 74.25 L934.7 80.68 L934.92 86.6 L935.14 91.73 L935.36 95.86 L935.58 98.79 L935.8 100.4 L936.02 100.61 L936.24 99.42 L936.46 96.88 L936.68 93.09 L936.9 88.24 L937.12 82.54 L937.34 76.23 L937.56 69.62 L937.78 62.98 L938 56.63 L938.22 50.83 L938.44 45.86 L938.66 41.93 L938.88 39.22 L939.1 37.86 L939.32 37.9 L939.54 39.33 L939.76 42.11 L939.98 46.09 L940.2 51.11 L940.42 56.94 L940.64 63.32 L940.86 69.96 L941.08 76.57 L941.3 82.85 L941.51 88.52 L941.73 93.32 L941.95 97.04 L942.17 99.52 L942.39 100.64 L942.61 100.35 L942.83 98.67 L943.05 95.67 L943.27 91.49 L943.49 86.3 L943.71 80.36 L943.93 73.91 L944.15 67.25 L944.37 60.68 L944.59 54.49 L944.81 48.96 L945.03 44.34 L945.25 40.83 L945.47 38.58 L945.69 37.71 L945.91 38.25 L946.13 40.17 L946.35 43.39 L946.57 47.76 L946.79 53.1 L947.01 59.16 L947.23 65.66 L947.45 72.32 L947.67 78.85 L947.89 84.94 L948.11 90.33 L948.33 94.77 L948.55 98.07 L948.77 100.07 L948.99 100.7 L949.21 99.91 L949.43 97.75 L949.65 94.32 L949.87 89.75 L950.09 84.27 L950.31 78.12 L950.53 71.56 L950.75 64.9 L950.97 58.43 L951.19 52.45 L951.41 47.21 L951.63 42.96 L951.85 39.88 L952.07 38.11 L952.29 37.74 L952.51 38.77 L952.73 41.17 L952.95 44.82 L953.17 49.56 L953.39 55.18 L953.61 61.42 L953.83 68.02 L954.05 74.67 L954.27 81.07 L954.49 86.94 L954.71 92.02 L954.93 96.08 L955.15 98.93 L955.37 100.46 L955.59 100.58 L955.81 99.3 L956.03 96.67 L956.25 92.82 L956.47 87.91 L956.69 82.16 L956.91 75.83 L957.13 69.2" stroke="url(#wg0)"/><path d="M646 154.3 L646.22 154.26 L646.44 154.17 L646.66 154.04 L646.88 153.86 L647.1 153.67 L647.32 153.48 L647.54 153.3 L647.76 153.15 L647.98 153.06 L648.2 153.04 L648.42 153.09 L648.64 153.23 L648.86 153.46 L649.08 153.77 L649.3 154.16 L649.52 154.62 L649.74 155.12 L649.96 155.64 L650.18 156.15 L650.4 156.63 L650.62 157.05 L650.84 157.39 L651.06 157.61 L651.28 157.69 L651.5 157.63 L651.72 157.41 L651.94 157.03 L652.16 156.5 L652.38 155.83 L652.6 155.05 L652.82 154.18 L653.04 153.26 L653.26 152.32 L653.48 151.42 L653.7 150.58 L653.92 149.86 L654.14 149.29 L654.36 148.9 L654.58 148.73 L654.8 148.78 L655.02 149.08 L655.24 149.62 L655.46 150.38 L655.68 151.34 L655.9 152.47 L656.12 153.74 L656.34 155.08 L656.56 156.45 L656.78 157.78 L657 159.02 L657.22 160.11 L657.44 161 L657.66 161.64 L657.88 161.99 L658.1 162.04 L658.32 161.76 L658.54 161.16 L658.76 160.25 L658.98 159.06 L659.2 157.62 L659.42 156.01 L659.64 154.27 L659.86 152.47 L660.08 150.69 L660.3 149.02 L660.52 147.51 L660.74 146.23 L660.96 145.26 L661.18 144.64 L661.4 144.4 L661.62 144.56 L661.84 145.14 L662.06 146.11 L662.28 147.45 L662.5 149.1 L662.72 151.02 L662.94 153.12 L663.16 155.33 L663.38 157.54 L663.6 159.68 L663.82 161.65 L664.04 163.35 L664.26 164.73 L664.48 165.7 L664.7 166.22 L664.92 166.27 L665.14 165.82 L665.36 164.88 L665.57 163.48 L665.79 161.68 L666.01 159.53 L666.23 157.12 L666.45 154.55 L666.67 151.91 L666.89 149.31 L667.11 146.87 L667.33 144.69 L667.55 142.87 L667.77 141.48 L667.99 140.59 L668.21 140.25 L668.43 140.48 L668.65 141.29 L668.87 142.64 L669.09 144.5 L669.31 146.8 L669.53 149.45 L669.75 152.34 L669.97 155.37 L670.19 158.4 L670.41 161.31 L670.63 163.99 L670.85 166.3 L671.07 168.17 L671.29 169.49 L671.51 170.21 L671.73 170.29 L671.95 169.71 L672.17 168.49 L672.39 166.67 L672.61 164.31 L672.83 161.5 L673.05 158.36 L673.27 155 L673.49 151.57 L673.71 148.2 L673.93 145.03 L674.15 142.2 L674.37 139.82 L674.59 138.01 L674.81 136.84 L675.03 136.37 L675.25 136.63 L675.47 137.61 L675.69 139.3 L675.91 141.62 L676.13 144.49 L676.35 147.8 L676.57 151.42 L676.79 155.21 L677.01 159 L677.23 162.65 L677.45 166 L677.67 168.91 L677.89 171.26 L678.11 172.94 L678.33 173.87 L678.55 174.02 L678.77 173.36 L678.99 171.91 L679.21 169.72 L679.43 166.88 L679.65 163.49 L679.87 159.69 L680.09 155.62 L680.31 151.46 L680.53 147.37 L680.75 143.51 L680.97 140.06 L681.19 137.16 L681.41 134.92 L681.63 133.46 L681.85 132.84 L682.07 133.08 L682.29 134.2 L682.51 136.15 L682.73 138.86 L682.95 142.23 L683.17 146.13 L683.39 150.4 L683.61 154.87 L683.83 159.35 L684.05 163.67 L684.27 167.65 L684.49 171.12 L684.71 173.93 L684.93 175.97 L685.15 177.14 L685.37 177.38 L685.59 176.68 L685.81 175.07 L686.03 172.58 L686.25 169.33 L686.47 165.44 L686.69 161.06 L686.91 156.37 L687.13 151.56 L687.35 146.81 L687.57 142.34 L687.79 138.32 L688.01 134.92 L688.23 132.28 L688.45 130.52 L688.67 129.72 L688.89 129.92 L689.11 131.12 L689.33 133.27 L689.55 136.3 L689.77 140.08 L689.99 144.48 L690.21 149.3 L690.43 154.37 L690.65 159.46 L690.87 164.39 L691.09 168.93 L691.31 172.91 L691.53 176.16 L691.75 178.53 L691.97 179.94 L692.19 180.3 L692.41 179.61 L692.63 177.88 L692.85 175.18 L693.07 171.6 L693.29 167.3 L693.51 162.44 L693.73 157.22 L693.95 151.84 L694.17 146.53 L694.39 141.51 L694.61 136.98 L694.83 133.13 L695.05 130.12 L695.27 128.08 L695.49 127.1 L695.71 127.22 L695.93 128.45 L696.15 130.73 L696.37 134 L696.59 138.1 L696.81 142.9 L697.03 148.18 L697.25 153.74 L697.47 159.35 L697.69 164.79 L697.91 169.82 L698.13 174.25 L698.35 177.89 L698.57 180.59 L698.79 182.22 L699.01 182.73 L699.23 182.08 L699.45 180.29 L699.67 177.43 L699.89 173.62 L700.11 169 L700.33 163.77 L700.55 158.12 L700.77 152.29 L700.99 146.52 L701.21 141.03 L701.43 136.07 L701.65 131.83 L701.87 128.48 L702.09 126.18 L702.31 125.01 L702.53 125.03 L702.75 126.24 L702.97 128.6 L703.19 132.02 L703.41 136.36 L703.63 141.44 L703.85 147.07 L704.07 153.02 L704.29 159.04 L704.5 164.89 L704.72 170.33 L704.94 175.14 L705.16 179.11 L705.38 182.09 L705.6 183.94 L705.82 184.6 L706.04 184.02 L706.26 182.23 L706.48 179.3 L706.7 175.33 L706.92 170.5 L707.14 165 L707.36 159.04 L707.58 152.87 L707.8 146.74 L708.02 140.89 L708.24 135.58 L708.46 131.02 L708.68 127.39 L708.9 124.84 L709.12 123.49 L709.34 123.39 L709.56 124.55 L709.78 126.92 L710 130.42 L710.22 134.89 L710.44 140.17 L710.66 146.03 L710.88 152.25 L711.1 158.56 L711.32 164.72 L711.54 170.46 L711.76 175.56 L711.98 179.81 L712.2 183.02 L712.42 185.08 L712.64 185.88 L712.86 185.4 L713.08 183.66 L713.3 180.71 L713.52 176.69 L713.74 171.74 L713.96 166.08 L714.18 159.93 L714.4 153.54 L714.62 147.16 L714.84 141.07 L715.06 135.51 L715.28 130.7 L715.5 126.85 L715.72 124.1 L715.94 122.59 L716.16 122.36 L716.38 123.43 L716.6 125.75 L716.82 129.25 L717.04 133.76 L717.26 139.12 L717.48 145.1 L717.7 151.46 L717.92 157.95 L718.14 164.29 L718.36 170.23 L718.58 175.53 L718.8 179.98 L719.02 183.38 L719.24 185.6 L719.46 186.55 L719.68 186.19 L719.9 184.53 L720.12 181.64 L720.34 177.63 L720.56 172.68 L720.78 166.97 L721 160.75 L721.22 154.26 L721.44 147.77 L721.66 141.54 L721.88 135.83 L722.1 130.87 L722.32 126.86 L722.54 123.96 L722.76 122.3 L722.98 121.94 L723.2 122.89 L723.42 125.13 L723.64 128.55 L723.86 133.01 L724.08 138.34 L724.3 144.32 L724.52 150.71 L724.74 157.24 L724.96 163.65 L725.18 169.68 L725.4 175.08 L725.62 179.64 L725.84 183.16 L726.06 185.51 L726.28 186.59 L726.5 186.35 L726.72 184.82 L726.94 182.04 L727.16 178.14 L727.38 173.27 L727.6 167.63 L727.82 161.45 L728.04 154.99 L728.26 148.51 L728.48 142.26 L728.7 136.51 L728.92 131.49 L729.14 127.4 L729.36 124.41 L729.58 122.64 L729.8 122.15 L730.02 122.97 L730.24 125.07 L730.46 128.35 L730.68 132.68 L730.9 137.88 L731.12 143.74 L731.34 150.03 L731.56 156.48 L731.78 162.83 L732 168.83 L732.22 174.23 L732.44 178.81 L732.66 182.38 L732.88 184.81 L733.1 186 L733.32 185.89 L733.54 184.51 L733.76 181.89 L733.98 178.16 L734.2 173.47 L734.42 168.01 L734.64 162 L734.86 155.69 L735.08 149.34 L735.3 143.2 L735.52 137.53 L735.74 132.55 L735.96 128.46 L736.18 125.43 L736.4 123.58 L736.62 122.99 L736.84 123.67 L737.06 125.58 L737.28 128.67 L737.5 132.78 L737.72 137.76 L737.94 143.4 L738.16 149.46 L738.38 155.71 L738.6 161.88 L738.82 167.73 L739.04 173.01 L739.26 177.52 L739.48 181.08 L739.7 183.53 L739.92 184.8 L740.14 184.82 L740.36 183.6 L740.58 181.19 L740.8 177.7 L741.02 173.27 L741.24 168.09 L741.46 162.36 L741.68 156.33 L741.9 150.23 L742.12 144.32 L742.34 138.83 L742.56 133.99 L742.78 129.99 L743 127 L743.21 125.12 L743.43 124.44 L743.65 124.97 L743.87 126.68 L744.09 129.52 L744.31 133.35 L744.53 138.01 L744.75 143.32 L744.97 149.05 L745.19 154.97 L745.41 160.84 L745.63 166.42 L745.85 171.48 L746.07 175.83 L746.29 179.28 L746.51 181.71 L746.73 183.01 L746.95 183.14 L747.17 182.1 L747.39 179.93 L747.61 176.74 L747.83 172.65 L748.05 167.84 L748.27 162.49 L748.49 156.85 L748.71 151.12 L748.93 145.55 L749.15 140.37 L749.37 135.77 L749.59 131.95 L749.81 129.06 L750.03 127.21 L750.25 126.46 L750.47 126.85 L750.69 128.35 L750.91 130.89 L751.13 134.38 L751.35 138.64 L751.57 143.53 L751.79 148.82 L752.01 154.3 L752.23 159.75 L752.45 164.95 L752.67 169.69 L752.89 173.77 L753.11 177.05 L753.33 179.38 L753.55 180.67 L753.77 180.89 L753.99 180.03 L754.21 178.14 L754.43 175.28 L754.65 171.6 L754.87 167.23 L755.09 162.37 L755.31 157.22 L755.53 151.98 L755.75 146.87 L755.97 142.09 L756.19 137.84 L756.41 134.29 L756.63 131.57 L756.85 129.8 L757.07 129.03 L757.29 129.29 L757.51 130.56 L757.73 132.78 L757.95 135.87 L758.17 139.67 L758.39 144.04 L758.61 148.8 L758.83 153.74 L759.05 158.67 L759.27 163.38 L759.49 167.69 L759.71 171.42 L759.93 174.43 L760.15 176.6 L760.37 177.84 L760.59 178.13 L760.81 177.44 L761.03 175.82 L761.25 173.35 L761.47 170.12 L761.69 166.28 L761.91 161.98 L762.13 157.42 L762.35 152.76 L762.57 148.21 L762.79 143.94 L763.01 140.14 L763.23 136.94 L763.45 134.47 L763.67 132.83 L763.89 132.07 L764.11 132.23 L764.33 133.27 L764.55 135.16 L764.77 137.8 L764.99 141.09 L765.21 144.88 L765.43 149.02 L765.65 153.32 L765.87 157.63 L766.09 161.76 L766.31 165.54 L766.53 168.83 L766.75 171.49 L766.97 173.43 L767.19 174.58 L767.41 174.89 L767.63 174.37 L767.85 173.04 L768.07 170.96 L768.29 168.23 L768.51 164.97 L768.73 161.31 L768.95 157.41 L769.17 153.43 L769.39 149.53 L769.61 145.87 L769.83 142.59 L770.05 139.83 L770.27 137.68 L770.49 136.24 L770.71 135.54 L770.93 135.61 L771.15 136.44 L771.37 137.98 L771.59 140.16 L771.81 142.88 L772.03 146.04 L772.25 149.48 L772.47 153.08 L772.69 156.68 L772.91 160.13 L773.13 163.3 L773.35 166.06 L773.57 168.31 L773.79 169.96 L774.01 170.95 L774.23 171.26 L774.45 170.87 L774.67 169.82 L774.89 168.16 L775.11 165.96 L775.33 163.32 L775.55 160.35 L775.77 157.19 L775.99 153.96 L776.21 150.79 L776.43 147.81 L776.65 145.15 L776.87 142.89 L777.09 141.14 L777.31 139.95 L777.53 139.35 L777.75 139.37 L777.97 140 L778.19 141.19 L778.41 142.89 L778.63 145.03 L778.85 147.5 L779.07 150.2 L779.29 153.02 L779.51 155.84 L779.73 158.55 L779.95 161.03 L780.17 163.19 L780.39 164.96 L780.61 166.25 L780.83 167.04 L781.05 167.3 L781.27 167.02 L781.49 166.24 L781.71 164.99 L781.93 163.33 L782.14 161.35 L782.36 159.12 L782.58 156.74 L782.8 154.32 L783.02 151.95 L783.24 149.72 L783.46 147.74 L783.68 146.06 L783.9 144.76 L784.12 143.87 L784.34 143.43 L784.56 143.44 L784.78 143.89 L785 144.74 L785.22 145.97 L785.44 147.49 L785.66 149.26 L785.88 151.18 L786.1 153.18 L786.32 155.16 L786.54 157.06 L786.76 158.79 L786.98 160.29 L787.2 161.51 L787.42 162.39 L787.64 162.93 L787.86 163.09 L788.08 162.9 L788.3 162.36 L788.52 161.52 L788.74 160.4 L788.96 159.08 L789.18 157.61 L789.4 156.06 L789.62 154.49 L789.84 152.96 L790.06 151.55 L790.28 150.3 L790.5 149.26 L790.72 148.47 L790.94 147.94 L791.16 147.69 L791.38 147.72 L791.6 148.02 L791.82 148.56 L792.04 149.32 L792.26 150.24 L792.48 151.28 L792.7 152.4 L792.92 153.54 L793.14 154.66 L793.36 155.7 L793.58 156.63 L793.8 157.42 L794.02 158.04 L794.24 158.46 L794.46 158.7 L794.68 158.73 L794.9 158.58 L795.12 158.26 L795.34 157.8 L795.56 157.23 L795.78 156.57 L796 155.86 L796.22 155.15 L796.44 154.45 L796.66 153.81 L796.88 153.24 L797.1 152.77 L797.32 152.42 L797.54 152.17 L797.76 152.05 L797.98 152.05 L798.2 152.14 L798.42 152.33 L798.64 152.58 L798.86 152.88 L799.08 153.2 L799.3 153.53 L799.52 153.84 L799.74 154.12 L799.96 154.34 L800.18 154.51 L800.4 154.61 L800.62 154.65 L800.84 154.62 L801.06 154.55 L801.28 154.44 L801.5 154.3 L801.72 154.23 L801.94 154.11 L802.16 153.95 L802.38 153.78 L802.6 153.6 L802.82 153.44 L803.04 153.31 L803.26 153.23 L803.48 153.22 L803.7 153.28 L803.92 153.43 L804.14 153.65 L804.36 153.96 L804.58 154.34 L804.8 154.77 L805.02 155.25 L805.24 155.73 L805.46 156.2 L805.68 156.64 L805.9 157.01 L806.12 157.29 L806.34 157.46 L806.56 157.49 L806.78 157.38 L807 157.12 L807.22 156.71 L807.44 156.16 L807.66 155.49 L807.88 154.71 L808.1 153.86 L808.32 152.97 L808.54 152.07 L808.76 151.22 L808.98 150.45 L809.2 149.8 L809.42 149.31 L809.64 149.01 L809.86 148.91 L810.08 149.04 L810.3 149.41 L810.52 150 L810.74 150.81 L810.96 151.8 L811.18 152.95 L811.4 154.2 L811.62 155.52 L811.84 156.84 L812.06 158.11 L812.28 159.28 L812.5 160.28 L812.72 161.07 L812.94 161.61 L813.16 161.86 L813.38 161.8 L813.6 161.43 L813.82 160.74 L814.04 159.77 L814.26 158.52 L814.48 157.06 L814.7 155.44 L814.92 153.71 L815.14 151.96 L815.36 150.24 L815.58 148.64 L815.8 147.22 L816.02 146.06 L816.24 145.2 L816.46 144.7 L816.68 144.58 L816.9 144.86 L817.12 145.54 L817.34 146.6 L817.56 148.01 L817.78 149.71 L818 151.65 L818.22 153.75 L818.44 155.93 L818.66 158.1 L818.88 160.16 L819.1 162.03 L819.32 163.63 L819.54 164.88 L819.76 165.72 L819.98 166.11 L820.2 166.03 L820.42 165.46 L820.64 164.42 L820.86 162.93 L821.07 161.06 L821.29 158.87 L821.51 156.45 L821.73 153.89 L821.95 151.29 L822.17 148.76 L822.39 146.41 L822.61 144.33 L822.83 142.63 L823.05 141.37 L823.27 140.61 L823.49 140.41 L823.71 140.77 L823.93 141.69 L824.15 143.15 L824.37 145.09 L824.59 147.45 L824.81 150.12 L825.03 153.02 L825.25 156.02 L825.47 159 L825.69 161.84 L825.91 164.41 L826.13 166.62 L826.35 168.35 L826.57 169.54 L826.79 170.13 L827.01 170.08 L827.23 169.37 L827.45 168.05 L827.67 166.13 L827.89 163.71 L828.11 160.86 L828.33 157.7 L828.55 154.36 L828.77 150.96 L828.99 147.65 L829.21 144.57 L829.43 141.84 L829.65 139.58 L829.87 137.89 L830.09 136.84 L830.31 136.5 L830.53 136.88 L830.75 137.98 L830.97 139.75 L831.19 142.15 L831.41 145.07 L831.63 148.41 L831.85 152.03 L832.07 155.79 L832.29 159.54 L832.51 163.12 L832.73 166.38 L832.95 169.19 L833.17 171.43 L833.39 172.99 L833.61 173.81 L833.83 173.85 L834.05 173.08 L834.27 171.54 L834.49 169.28 L834.71 166.39 L834.93 162.96 L835.15 159.15 L835.37 155.1 L835.59 150.97 L835.81 146.93 L836.03 143.14 L836.25 139.78 L836.47 136.96 L836.69 134.83 L836.91 133.47 L837.13 132.94 L837.35 133.28 L837.57 134.47 L837.79 136.49 L838.01 139.26 L838.23 142.66 L838.45 146.57 L838.67 150.83 L838.89 155.28 L839.11 159.73 L839.33 164 L839.55 167.91 L839.77 171.3 L839.99 174.04 L840.21 175.99 L840.43 177.08 L840.65 177.25 L840.87 176.49 L841.09 174.82 L841.31 172.3 L841.53 169.02 L841.75 165.12 L841.97 160.74 L842.19 156.06 L842.41 151.28 L842.63 146.58 L842.85 142.15 L843.07 138.18 L843.29 134.84 L843.51 132.26 L843.73 130.56 L843.95 129.81 L844.17 130.05 L844.39 131.28 L844.61 133.46 L844.83 136.5 L845.05 140.28 L845.27 144.67 L845.49 149.48 L845.71 154.52 L845.93 159.58 L846.15 164.47 L846.37 168.98 L846.59 172.92 L846.81 176.14 L847.03 178.48 L847.25 179.86 L847.47 180.21 L847.69 179.51 L847.91 177.78 L848.13 175.09 L848.35 171.53 L848.57 167.24 L848.79 162.41 L849.01 157.21 L849.23 151.86 L849.45 146.58 L849.67 141.58 L849.89 137.07 L850.11 133.23 L850.33 130.22 L850.55 128.18 L850.77 127.18 L850.99 127.28 L851.21 128.48 L851.43 130.73 L851.65 133.96 L851.87 138.02 L852.09 142.78 L852.31 148.02 L852.53 153.55 L852.75 159.14 L852.97 164.56 L853.19 169.6 L853.41 174.04 L853.63 177.69 L853.85 180.42 L854.07 182.1 L854.29 182.66 L854.51 182.07 L854.73 180.35 L854.95 177.57 L855.17 173.82 L855.39 169.27 L855.61 164.08 L855.83 158.48 L856.05 152.68 L856.27 146.92 L856.49 141.43 L856.71 136.44 L856.93 132.16 L857.15 128.75 L857.37 126.37 L857.59 125.11 L857.81 125.03 L858.03 126.14 L858.25 128.4 L858.47 131.71 L858.69 135.96 L858.91 140.97 L859.13 146.54 L859.35 152.44 L859.57 158.44 L859.79 164.3 L860 169.77 L860.22 174.64 L860.44 178.69 L860.66 181.77 L860.88 183.75 L861.1 184.54 L861.32 184.11 L861.54 182.46 L861.76 179.67 L861.98 175.83 L862.2 171.12 L862.42 165.7 L862.64 159.81 L862.86 153.67 L863.08 147.54 L863.3 141.67 L863.52 136.29 L863.74 131.62 L863.96 127.87 L864.18 125.17 L864.4 123.65 L864.62 123.36 L864.84 124.33 L865.06 126.52 L865.28 129.84 L865.5 134.17 L865.72 139.32 L865.94 145.08 L866.16 151.24 L866.38 157.54 L866.6 163.72 L866.82 169.53 L867.04 174.74 L867.26 179.13 L867.48 182.52 L867.7 184.78 L867.92 185.81 L868.14 185.56 L868.36 184.04 L868.58 181.31 L868.8 177.49 L869.02 172.71 L869.24 167.18 L869.46 161.12 L869.68 154.77 L869.9 148.4 L870.12 142.25 L870.34 136.57 L870.56 131.61 L870.78 127.56 L871 124.59 L871.22 122.81 L871.44 122.31 L871.66 123.11 L871.88 125.17 L872.1 128.42 L872.32 132.71 L872.54 137.89 L872.76 143.74 L872.98 150.02 L873.2 156.49 L873.42 162.87 L873.64 168.91 L873.86 174.37 L874.08 179.02 L874.3 182.67 L874.52 185.17 L874.74 186.43 L874.96 186.38 L875.18 185.04 L875.4 182.45 L875.62 178.72 L875.84 173.99 L876.06 168.47 L876.28 162.36 L876.5 155.93 L876.72 149.43 L876.94 143.12 L877.16 137.26 L877.38 132.1 L877.6 127.82 L877.82 124.62 L878.04 122.62 L878.26 121.91 L878.48 122.5 L878.7 124.39 L878.92 127.48 L879.14 131.66 L879.36 136.76 L879.58 142.57 L879.8 148.85 L880.02 155.36 L880.24 161.81 L880.46 167.97 L880.68 173.57 L880.9 178.39 L881.12 182.23 L881.34 184.94 L881.56 186.4 L881.78 186.57 L882 185.43 L882.22 183.03 L882.44 179.47 L882.66 174.89 L882.88 169.48 L883.1 163.46 L883.32 157.07 L883.54 150.58 L883.76 144.24 L883.98 138.31 L884.2 133.04 L884.42 128.63 L884.64 125.26 L884.86 123.08 L885.08 122.16 L885.3 122.54 L885.52 124.2 L885.74 127.09 L885.96 131.07 L886.18 135.99 L886.4 141.64 L886.62 147.79 L886.84 154.21 L887.06 160.61 L887.28 166.76 L887.5 172.39 L887.72 177.27 L887.94 181.23 L888.16 184.08 L888.38 185.73 L888.6 186.1 L888.82 185.18 L889.04 183.02 L889.26 179.7 L889.48 175.35 L889.7 170.17 L889.92 164.35 L890.14 158.13 L890.36 151.77 L890.58 145.53 L890.8 139.66 L891.02 134.39 L891.24 129.93 L891.46 126.47 L891.68 124.15 L891.9 123.05 L892.12 123.22 L892.34 124.64 L892.56 127.27 L892.78 130.97 L893 135.62 L893.22 141 L893.44 146.91 L893.66 153.11 L893.88 159.33 L894.1 165.34 L894.32 170.88 L894.54 175.74 L894.76 179.71 L894.98 182.65 L895.2 184.43 L895.42 184.99 L895.64 184.3 L895.86 182.4 L896.08 179.38 L896.3 175.35 L896.52 170.48 L896.74 164.97 L896.96 159.04 L897.18 152.95 L897.4 146.93 L897.62 141.23 L897.84 136.08 L898.06 131.68 L898.28 128.21 L898.5 125.81 L898.71 124.57 L898.93 124.54 L899.15 125.71 L899.37 128.03 L899.59 131.41 L899.81 135.69 L900.03 140.72 L900.25 146.27 L900.47 152.12 L900.69 158.04 L900.91 163.78 L901.13 169.12 L901.35 173.84 L901.57 177.74 L901.79 180.68 L902.01 182.54 L902.23 183.25 L902.45 182.79 L902.67 181.18 L902.89 178.49 L903.11 174.83 L903.33 170.37 L903.55 165.27 L903.77 159.75 L903.99 154.04 L904.21 148.37 L904.43 142.97 L904.65 138.05 L904.87 133.81 L905.09 130.42 L905.31 128.01 L905.53 126.68 L905.75 126.47 L905.97 127.39 L906.19 129.39 L906.41 132.38 L906.63 136.25 L906.85 140.82 L907.07 145.91 L907.29 151.31 L907.51 156.81 L907.73 162.17 L907.95 167.18 L908.17 171.64 L908.39 175.38 L908.61 178.24 L908.83 180.12 L909.05 180.94 L909.27 180.68 L909.49 179.36 L909.71 177.04 L909.93 173.81 L910.15 169.81 L910.37 165.21 L910.59 160.2 L910.81 154.99 L911.03 149.78 L911.25 144.79 L911.47 140.21 L911.69 136.24 L911.91 133.02 L912.13 130.69 L912.35 129.32 L912.57 128.97 L912.79 129.65 L913.01 131.32 L913.23 133.9 L913.45 137.29 L913.67 141.34 L913.89 145.88 L914.11 150.73 L914.33 155.69 L914.55 160.55 L914.77 165.13 L914.99 169.23 L915.21 172.7 L915.43 175.39 L915.65 177.22 L915.87 178.1 L916.09 178.02 L916.31 176.98 L916.53 175.03 L916.75 172.26 L916.97 168.79 L917.19 164.77 L917.41 160.35 L917.63 155.73 L917.85 151.1 L918.07 146.63 L918.29 142.51 L918.51 138.9 L918.73 135.95 L918.95 133.76 L919.17 132.43 L919.39 131.99 L919.61 132.45 L919.83 133.79 L920.05 135.95 L920.27 138.82 L920.49 142.29 L920.71 146.22 L920.93 150.43 L921.15 154.75 L921.37 159.02 L921.59 163.05 L921.81 166.68 L922.03 169.78 L922.25 172.22 L922.47 173.92 L922.69 174.8 L922.91 174.85 L923.13 174.07 L923.35 172.5 L923.57 170.21 L923.79 167.31 L924.01 163.91 L924.23 160.17 L924.45 156.23 L924.67 152.25 L924.89 148.41 L925.11 144.85 L925.33 141.71 L925.55 139.12 L925.77 137.16 L925.99 135.93 L926.21 135.45 L926.43 135.73 L926.65 136.77 L926.87 138.49 L927.09 140.83 L927.31 143.69 L927.53 146.93 L927.75 150.43 L927.97 154.04 L928.19 157.61 L928.41 161 L928.63 164.08 L928.85 166.72 L929.07 168.82 L929.29 170.31 L929.51 171.13 L929.73 171.26 L929.95 170.7 L930.17 169.49 L930.39 167.69 L930.61 165.38 L930.83 162.65 L931.05 159.63 L931.27 156.43 L931.49 153.21 L931.71 150.07 L931.93 147.16 L932.15 144.58 L932.37 142.43 L932.59 140.8 L932.81 139.73 L933.03 139.28 L933.25 139.43 L933.47 140.18 L933.69 141.49 L933.91 143.29 L934.13 145.51 L934.35 148.03 L934.57 150.77 L934.79 153.6 L935.01 156.4 L935.23 159.07 L935.45 161.5 L935.67 163.59 L935.89 165.26 L936.11 166.47 L936.33 167.15 L936.55 167.31 L936.77 166.94 L936.99 166.07 L937.21 164.74 L937.43 163.02 L937.64 160.98 L937.86 158.72 L938.08 156.33 L938.3 153.91 L938.52 151.55 L938.74 149.37 L938.96 147.43 L939.18 145.81 L939.4 144.57 L939.62 143.75 L939.84 143.38 L940.06 143.46 L940.28 143.97 L940.5 144.89 L940.72 146.16 L940.94 147.73 L941.16 149.52 L941.38 151.45 L941.6 153.45 L941.82 155.43 L942.04 157.31 L942.26 159.02 L942.48 160.48 L942.7 161.65 L942.92 162.5 L943.14 162.98 L943.36 163.11 L943.58 162.87 L943.8 162.29 L944.02 161.41 L944.24 160.27 L944.46 158.93 L944.68 157.45 L944.9 155.89 L945.12 154.32 L945.34 152.8 L945.56 151.41 L945.78 150.18 L946 149.16 L946.22 148.39 L946.44 147.89 L946.66 147.67 L946.88 147.73 L947.1 148.05 L947.32 148.61 L947.54 149.38 L947.76 150.31 L947.98 151.36 L948.2 152.48 L948.42 153.63 L948.64 154.74 L948.86 155.78 L949.08 156.7 L949.3 157.48 L949.52 158.08 L949.74 158.49 L949.96 158.71 L950.18 158.73 L950.4 158.57 L950.62 158.25 L950.84 157.78 L951.06 157.2 L951.28 156.54 L951.5 155.83 L951.72 155.12 L951.94 154.43 L952.16 153.79 L952.38 153.22 L952.6 152.76 L952.82 152.4 L953.04 152.17 L953.26 152.05 L953.48 152.04 L953.7 152.14 L953.92 152.33 L954.14 152.58 L954.36 152.88 L954.58 153.21 L954.8 153.54 L955.02 153.85 L955.24 154.12 L955.46 154.35 L955.68 154.51 L955.9 154.61 L956.12 154.65 L956.34 154.62 L956.56 154.55 L956.78 154.44 L957 154.3" stroke="url(#wg1)"/><path d="M647.9 240.69 L648.12 234.3 L648.34 228.12 L648.56 222.42 L648.78 217.43 L649 213.35 L649.22 210.35 L649.44 208.55 L649.66 208.03 L649.88 208.81 L650.1 210.85 L650.32 214.08 L650.54 218.35 L650.76 223.48 L650.98 229.27 L651.2 235.48 L651.42 241.84 L651.64 248.11 L651.86 254.01 L652.08 259.3 L652.3 263.77 L652.52 267.24 L652.74 269.56 L652.96 270.64 L653.18 270.43 L653.4 268.95 L653.62 266.25 L653.84 262.46 L654.06 257.73 L654.28 252.25 L654.5 246.26 L654.72 240 L654.94 233.73 L655.16 227.7 L655.38 222.18 L655.6 217.38 L655.82 213.5 L656.04 210.69 L656.26 209.08 L656.48 208.73 L656.7 209.65 L656.92 211.79 L657.14 215.07 L657.36 219.35 L657.58 224.45 L657.8 230.16 L658.02 236.24 L658.24 242.44 L658.46 248.51 L658.68 254.19 L658.9 259.25 L659.12 263.48 L659.34 266.72 L659.56 268.82 L659.78 269.72 L660 269.36 L660.22 267.78 L660.44 265.04 L660.66 261.25 L660.88 256.58 L661.1 251.21 L661.32 245.38 L661.54 239.33 L661.76 233.3 L661.98 227.55 L662.2 222.3 L662.42 217.78 L662.64 214.17 L662.86 211.61 L663.08 210.21 L663.3 210.02 L663.52 211.04 L663.74 213.24 L663.96 216.51 L664.18 220.71 L664.4 225.67 L664.62 231.18 L664.84 237.02 L665.06 242.93 L665.28 248.69 L665.5 254.04 L665.72 258.77 L665.94 262.7 L666.16 265.65 L666.38 267.51 L666.6 268.22 L666.82 267.73 L667.04 266.09 L667.26 263.36 L667.48 259.66 L667.7 255.15 L667.92 250.01 L668.14 244.46 L668.36 238.73 L668.58 233.06 L668.8 227.67 L669.02 222.8 L669.24 218.64 L669.46 215.36 L669.68 213.08 L669.9 211.91 L670.12 211.87 L670.34 212.97 L670.56 215.16 L670.78 218.34 L671 222.37 L671.22 227.09 L671.44 232.3 L671.66 237.77 L671.88 243.29 L672.1 248.62 L672.32 253.55 L672.54 257.88 L672.76 261.42 L672.98 264.05 L673.2 265.65 L673.42 266.16 L673.64 265.58 L673.86 263.92 L674.08 261.28 L674.3 257.75 L674.52 253.49 L674.74 248.68 L674.96 243.52 L675.18 238.22 L675.4 233.02 L675.62 228.11 L675.84 223.69 L676.06 219.96 L676.28 217.05 L676.5 215.09 L676.72 214.14 L676.94 214.24 L677.16 215.38 L677.38 217.5 L677.6 220.52 L677.82 224.29 L678.04 228.67 L678.26 233.46 L678.48 238.46 L678.7 243.48 L678.92 248.29 L679.14 252.71 L679.36 256.55 L679.58 259.67 L679.8 261.93 L680.02 263.26 L680.24 263.6 L680.46 262.94 L680.68 261.33 L680.9 258.83 L681.12 255.55 L681.34 251.64 L681.56 247.27 L681.78 242.6 L682 237.85 L682.22 233.2 L682.44 228.85 L682.66 224.97 L682.88 221.73 L683.1 219.23 L683.32 217.6 L683.54 216.87 L683.76 217.09 L683.98 218.22 L684.2 220.22 L684.42 222.99 L684.64 226.41 L684.86 230.35 L685.08 234.62 L685.3 239.06 L685.52 243.47 L685.74 247.68 L685.96 251.52 L686.18 254.82 L686.4 257.46 L686.62 259.34 L686.84 260.39 L687.06 260.57 L687.28 259.88 L687.5 258.36 L687.72 256.08 L687.94 253.14 L688.16 249.68 L688.38 245.83 L688.6 241.75 L688.82 237.63 L689.04 233.63 L689.26 229.92 L689.48 226.63 L689.7 223.91 L689.92 221.86 L690.14 220.56 L690.36 220.05 L690.58 220.34 L690.8 221.42 L691.02 223.23 L691.24 225.69 L691.46 228.68 L691.68 232.08 L691.9 235.75 L692.12 239.53 L692.34 243.26 L692.56 246.79 L692.78 249.98 L693 252.7 L693.22 254.84 L693.44 256.32 L693.66 257.1 L693.88 257.14 L694.1 256.46 L694.32 255.09 L694.54 253.1 L694.76 250.58 L694.98 247.64 L695.2 244.4 L695.42 241 L695.64 237.6 L695.86 234.31 L696.08 231.29 L696.3 228.65 L696.52 226.49 L696.74 224.9 L696.96 223.92 L697.18 223.61 L697.4 223.95 L697.62 224.92 L697.84 226.48 L698.06 228.55 L698.28 231.03 L698.5 233.82 L698.72 236.8 L698.94 239.85 L699.16 242.82 L699.38 245.62 L699.6 248.11 L699.82 250.21 L700.04 251.84 L700.26 252.93 L700.48 253.45 L700.7 253.39 L700.92 252.76 L701.14 251.6 L701.36 249.96 L701.58 247.92 L701.8 245.58 L702.02 243.03 L702.24 240.38 L702.46 237.75 L702.68 235.24 L702.9 232.96 L703.12 230.99 L703.34 229.41 L703.56 228.28 L703.78 227.63 L704 227.48 L704.22 227.82 L704.44 228.64 L704.66 229.89 L704.88 231.5 L705.1 233.41 L705.32 235.52 L705.54 237.74 L705.76 239.99 L705.98 242.17 L706.2 244.18 L706.42 245.95 L706.64 247.42 L706.86 248.52 L707.08 249.22 L707.3 249.51 L707.52 249.38 L707.74 248.85 L707.96 247.95 L708.18 246.72 L708.4 245.23 L708.62 243.55 L708.84 241.75 L709.06 239.91 L709.28 238.11 L709.5 236.42 L709.72 234.9 L709.94 233.62 L710.16 232.63 L710.38 231.94 L710.6 231.59 L710.82 231.58 L711.04 231.89 L711.26 232.5 L711.48 233.38 L711.7 234.48 L711.92 235.75 L712.14 237.13 L712.36 238.55 L712.58 239.95 L712.8 241.29 L713.02 242.49 L713.24 243.53 L713.46 244.35 L713.68 244.94 L713.9 245.28 L714.12 245.36 L714.34 245.2 L714.56 244.81 L714.78 244.22 L715 243.46 L715.22 242.58 L715.44 241.61 L715.66 240.61 L715.88 239.62 L716.1 238.67 L716.32 237.82 L716.54 237.09 L716.76 236.5 L716.98 236.08 L717.2 235.82 L717.42 235.74 L717.64 235.83 L717.86 236.06 L718.08 236.42 L718.3 236.89 L718.52 237.43 L718.74 238.01 L718.96 238.61 L719.18 239.19 L719.4 239.73 L719.62 240.2 L719.84 240.59 L720.06 240.88 L720.28 241.07 L720.5 241.17 L720.72 241.17 L720.94 241.09 L721.16 240.93 L721.38 240.73 L721.6 240.5 L721.82 240.25 L722.04 240.01 L722.26 239.8 L722.48 239.63 L722.7 239.5 L722.92 239.43 L723.14 239.42 L723.36 239.47 L723.58 239.48 L723.8 239.5 L724.02 239.58 L724.24 239.7 L724.46 239.87 L724.68 240.08 L724.9 240.29 L725.12 240.5 L725.34 240.69 L725.57 240.84 L725.79 240.92 L726.01 240.93 L726.23 240.86 L726.45 240.69 L726.67 240.43 L726.89 240.08 L727.11 239.65 L727.33 239.15 L727.55 238.62 L727.77 238.07 L727.99 237.53 L728.21 237.03 L728.43 236.6 L728.65 236.28 L728.87 236.07 L729.09 236.01 L729.31 236.11 L729.53 236.37 L729.75 236.79 L729.97 237.37 L730.19 238.09 L730.41 238.92 L730.63 239.83 L730.85 240.78 L731.07 241.73 L731.29 242.64 L731.51 243.46 L731.73 244.15 L731.95 244.67 L732.17 244.99 L732.39 245.08 L732.61 244.94 L732.83 244.54 L733.05 243.91 L733.27 243.05 L733.49 242 L733.71 240.8 L733.93 239.48 L734.15 238.11 L734.37 236.75 L734.59 235.45 L734.81 234.27 L735.03 233.27 L735.25 232.51 L735.47 232.02 L735.69 231.84 L735.91 231.98 L736.13 232.44 L736.35 233.23 L736.57 234.32 L736.79 235.67 L737.01 237.22 L737.23 238.92 L737.45 240.71 L737.67 242.49 L737.89 244.2 L738.11 245.76 L738.33 247.1 L738.55 248.15 L738.77 248.86 L738.99 249.2 L739.21 249.12 L739.43 248.63 L739.65 247.74 L739.87 246.48 L740.09 244.88 L740.31 243.01 L740.53 240.94 L740.75 238.77 L740.97 236.56 L741.19 234.43 L741.41 232.47 L741.63 230.76 L741.85 229.37 L742.07 228.39 L742.29 227.86 L742.51 227.81 L742.73 228.26 L742.95 229.2 L743.17 230.59 L743.39 232.39 L743.61 234.53 L743.83 236.93 L744.05 239.48 L744.27 242.09 L744.49 244.64 L744.71 247.03 L744.93 249.14 L745.15 250.88 L745.37 252.17 L745.59 252.95 L745.81 253.18 L746.03 252.83 L746.25 251.91 L746.47 250.45 L746.69 248.49 L746.91 246.13 L747.13 243.44 L747.35 240.53 L747.57 237.54 L747.79 234.57 L748.01 231.77 L748.23 229.24 L748.45 227.11 L748.67 225.47 L748.89 224.39 L749.11 223.94 L749.33 224.13 L749.55 224.98 L749.77 226.46 L749.99 228.5 L750.21 231.05 L750.43 233.99 L750.65 237.2 L750.87 240.56 L751.09 243.93 L751.31 247.15 L751.53 250.1 L751.75 252.64 L751.97 254.66 L752.19 256.07 L752.41 256.81 L752.63 256.82 L752.85 256.1 L753.07 254.67 L753.29 252.58 L753.51 249.91 L753.73 246.77 L753.95 243.29 L754.17 239.6 L754.39 235.86 L754.61 232.22 L754.83 228.85 L755.05 225.89 L755.27 223.46 L755.49 221.68 L755.71 220.63 L755.93 220.36 L756.15 220.9 L756.37 222.23 L756.59 224.29 L756.81 227.03 L757.03 230.31 L757.25 234.03 L757.47 238.01 L757.69 242.1 L757.91 246.12 L758.13 249.91 L758.35 253.3 L758.57 256.15 L758.79 258.32 L759.01 259.72 L759.23 260.29 L759.45 259.99 L759.67 258.83 L759.89 256.84 L760.11 254.1 L760.33 250.71 L760.55 246.83 L760.77 242.6 L760.99 238.2 L761.21 233.81 L761.43 229.62 L761.65 225.8 L761.87 222.53 L762.09 219.94 L762.31 218.15 L762.53 217.24 L762.75 217.26 L762.97 218.22 L763.19 220.07 L763.41 222.76 L763.63 226.18 L763.85 230.18 L764.07 234.61 L764.29 239.29 L764.51 244.01 L764.73 248.58 L764.95 252.8 L765.17 256.5 L765.39 259.52 L765.61 261.72 L765.83 263 L766.05 263.31 L766.27 262.61 L766.49 260.95 L766.71 258.36 L766.93 254.97 L767.15 250.9 L767.37 246.33 L767.59 241.43 L767.81 236.42 L768.03 231.5 L768.25 226.88 L768.47 222.76 L768.69 219.31 L768.91 216.68 L769.13 215 L769.35 214.33 L769.57 214.72 L769.79 216.15 L770.01 218.57 L770.23 221.88 L770.45 225.95 L770.67 230.62 L770.89 235.69 L771.11 240.95 L771.33 246.19 L771.55 251.17 L771.77 255.7 L771.99 259.57 L772.21 262.63 L772.43 264.73 L772.65 265.79 L772.87 265.75 L773.09 264.61 L773.31 262.41 L773.53 259.23 L773.75 255.21 L773.97 250.51 L774.19 245.32 L774.41 239.86 L774.63 234.35 L774.85 229.03 L775.07 224.12 L775.29 219.83 L775.51 216.35 L775.73 213.81 L775.95 212.34 L776.17 212 L776.39 212.81 L776.61 214.75 L776.83 217.73 L777.05 221.64 L777.27 226.32 L777.49 231.57 L777.71 237.18 L777.93 242.91 L778.15 248.53 L778.37 253.79 L778.59 258.48 L778.81 262.39 L779.03 265.36 L779.25 267.26 L779.47 268 L779.69 267.55 L779.91 265.93 L780.13 263.19 L780.35 259.45 L780.57 254.85 L780.79 249.59 L781.01 243.89 L781.23 237.99 L781.45 232.12 L781.67 226.54 L781.89 221.49 L782.11 217.16 L782.33 213.76 L782.55 211.43 L782.77 210.26 L782.99 210.31 L783.21 211.59 L783.43 214.04 L783.65 217.56 L783.87 222.02 L784.09 227.22 L784.31 232.96 L784.53 238.98 L784.75 245.05 L784.97 250.9 L785.19 256.3 L785.41 261 L785.63 264.83 L785.85 267.6 L786.07 269.2 L786.29 269.56 L786.51 268.67 L786.73 266.55 L786.95 263.29 L787.17 259.03 L787.39 253.94 L787.61 248.23 L787.83 242.14 L788.05 235.92 L788.27 229.84 L788.49 224.15 L788.71 219.09 L788.93 214.87 L789.15 211.67 L789.37 209.63 L789.59 208.84 L789.81 209.32 L790.03 211.07 L790.25 214.02 L790.47 218.04 L790.69 222.96 L790.91 228.59 L791.13 234.68 L791.35 240.99 L791.57 247.25 L791.79 253.19 L792.01 258.57 L792.23 263.16 L792.45 266.78 L792.67 269.25 L792.89 270.48 L793.11 270.42 L793.33 269.07 L793.55 266.47 L793.77 262.75 L793.99 258.04 L794.21 252.55 L794.43 246.51 L794.65 240.17 L794.87 233.79 L795.09 227.65 L795.31 221.99 L795.53 217.05 L795.75 213.06 L795.97 210.16 L796.19 208.49 L796.41 208.11 L796.63 209.05 L796.85 211.26 L797.07 214.65 L797.29 219.09 L797.51 224.39 L797.73 230.32 L797.95 236.63 L798.17 243.08 L798.39 249.37 L798.61 255.26 L798.83 260.49 L799.05 264.85 L799.27 268.15 L799.49 270.25 L799.71 271.07 L799.93 270.56 L800.15 268.76 L800.37 265.73 L800.59 261.61 L800.81 256.56 L801.03 250.79 L801.25 244.56 L801.47 238.11 L801.69 231.71 L801.91 225.65 L802.13 220.16 L802.35 215.49 L802.57 211.81 L802.79 209.3 L803.01 208.05 L803.23 208.11 L803.45 209.49 L803.67 212.12 L803.89 215.89 L804.11 220.65 L804.33 226.2 L804.55 232.3 L804.77 238.7 L804.99 245.12 L805.21 251.31 L805.43 257 L805.65 261.96 L805.87 265.97 L806.09 268.88 L806.31 270.55 L806.53 270.92 L806.75 269.98 L806.97 267.77 L807.19 264.38 L807.41 259.95 L807.63 254.67 L807.85 248.76 L808.07 242.48 L808.29 236.07 L808.51 229.82 L808.73 223.97 L808.95 218.79 L809.17 214.47 L809.39 211.21 L809.61 209.14 L809.83 208.33 L810.05 208.83 L810.27 210.61 L810.49 213.6 L810.71 217.66 L810.93 222.63 L811.15 228.29 L811.37 234.42 L811.59 240.74 L811.81 247 L812.03 252.94 L812.25 258.31 L812.47 262.88 L812.69 266.46 L812.91 268.91 L813.13 270.13 L813.35 270.06 L813.57 268.72 L813.79 266.16 L814.01 262.49 L814.23 257.87 L814.45 252.5 L814.67 246.59 L814.89 240.4 L815.11 234.19 L815.33 228.21 L815.55 222.72 L815.77 217.95 L815.99 214.09 L816.21 211.3 L816.43 209.69 L816.65 209.33 L816.87 210.24 L817.09 212.36 L817.31 215.61 L817.53 219.85 L817.75 224.9 L817.97 230.54 L818.19 236.54 L818.41 242.65 L818.63 248.6 L818.85 254.16 L819.07 259.08 L819.29 263.18 L819.51 266.27 L819.73 268.23 L819.95 268.99 L820.17 268.51 L820.39 266.83 L820.61 264 L820.83 260.17 L821.05 255.49 L821.27 250.15 L821.49 244.39 L821.71 238.45 L821.93 232.58 L822.15 227.01 L822.37 221.99 L822.59 217.72 L822.81 214.37 L823.03 212.09 L823.25 210.96 L823.47 211.02 L823.69 212.28 L823.91 214.66 L824.13 218.07 L824.35 222.37 L824.57 227.35 L824.79 232.83 L825.01 238.55 L825.23 244.29 L825.45 249.81 L825.67 254.87 L825.89 259.27 L826.11 262.82 L826.33 265.38 L826.55 266.84 L826.77 267.17 L826.99 266.33 L827.21 264.38 L827.43 261.4 L827.65 257.52 L827.87 252.91 L828.09 247.77 L828.31 242.3 L828.53 236.75 L828.75 231.34 L828.97 226.3 L829.19 221.84 L829.41 218.14 L829.63 215.35 L829.85 213.58 L830.07 212.9 L830.29 213.34 L830.51 214.87 L830.73 217.41 L830.95 220.86 L831.17 225.07 L831.39 229.86 L831.61 235.02 L831.83 240.33 L832.05 245.58 L832.27 250.54 L832.49 255.01 L832.71 258.81 L832.93 261.77 L833.15 263.79 L833.37 264.78 L833.59 264.72 L833.81 263.6 L834.03 261.48 L834.25 258.46 L834.47 254.67 L834.69 250.28 L834.91 245.46 L835.13 240.43 L835.35 235.4 L835.57 230.57 L835.79 226.15 L836.01 222.32 L836.23 219.23 L836.45 217.01 L836.67 215.74 L836.89 215.47 L837.11 216.21 L837.33 217.91 L837.55 220.5 L837.77 223.86 L837.99 227.85 L838.21 232.29 L838.43 237 L838.65 241.77 L838.87 246.41 L839.09 250.72 L839.31 254.53 L839.53 257.69 L839.75 260.06 L839.97 261.55 L840.19 262.11 L840.41 261.72 L840.63 260.41 L840.85 258.24 L841.07 255.31 L841.29 251.75 L841.51 247.71 L841.73 243.36 L841.95 238.89 L842.17 234.49 L842.39 230.33 L842.61 226.6 L842.83 223.44 L843.05 220.98 L843.27 219.32 L843.49 218.51 L843.71 218.58 L843.93 219.53 L844.15 221.29 L844.37 223.8 L844.59 226.94 L844.81 230.57 L845.03 234.53 L845.25 238.66 L845.47 242.77 L845.69 246.71 L845.91 250.31 L846.13 253.42 L846.35 255.91 L846.57 257.7 L846.79 258.7 L847.01 258.9 L847.23 258.28 L847.45 256.89 L847.67 254.79 L847.89 252.08 L848.11 248.88 L848.33 245.32 L848.55 241.57 L848.77 237.77 L848.99 234.09 L849.21 230.68 L849.43 227.69 L849.65 225.22 L849.87 223.37 L850.09 222.22 L850.31 221.81 L850.53 222.13 L850.75 223.18 L850.97 224.89 L851.19 227.19 L851.41 229.96 L851.63 233.1 L851.85 236.46 L852.07 239.9 L852.29 243.28 L852.51 246.45 L852.73 249.28 L852.95 251.67 L853.17 253.52 L853.39 254.75 L853.61 255.34 L853.83 255.25 L854.05 254.51 L854.27 253.16 L854.49 251.26 L854.71 248.9 L854.93 246.19 L855.15 243.24 L855.37 240.18 L855.59 237.15 L855.81 234.26 L856.03 231.64 L856.25 229.39 L856.47 227.6 L856.69 226.33 L856.91 225.64 L857.13 225.53 L857.35 226.01 L857.57 227.04 L857.79 228.56 L858.01 230.52 L858.23 232.81 L858.45 235.34 L858.67 237.99 L858.89 240.66 L859.11 243.22 L859.33 245.58 L859.55 247.64 L859.77 249.32 L859.99 250.56 L860.21 251.31 L860.43 251.55 L860.65 251.29 L860.87 250.54 L861.09 249.35 L861.31 247.78 L861.53 245.9 L861.75 243.79 L861.97 241.55 L862.19 239.28 L862.41 237.07 L862.63 235.02 L862.85 233.2 L863.07 231.69 L863.29 230.54 L863.51 229.79 L863.73 229.46 L863.95 229.56 L864.17 230.08 L864.39 230.97 L864.61 232.19 L864.83 233.68 L865.05 235.37 L865.27 237.19 L865.49 239.05 L865.71 240.88 L865.93 242.59 L866.15 244.12 L866.37 245.42 L866.59 246.43 L866.81 247.11 L867.03 247.46 L867.25 247.47 L867.47 247.14 L867.69 246.5 L867.91 245.6 L868.13 244.47 L868.35 243.18 L868.57 241.78 L868.79 240.34 L869.01 238.91 L869.23 237.57 L869.45 236.36 L869.67 235.33 L869.89 234.52 L870.11 233.95 L870.33 233.64 L870.55 233.58 L870.77 233.78 L870.99 234.21 L871.21 234.84 L871.43 235.63 L871.65 236.55 L871.87 237.54 L872.09 238.57 L872.31 239.58 L872.53 240.53 L872.75 241.38 L872.97 242.1 L873.19 242.67 L873.41 243.06 L873.63 243.28 L873.85 243.33 L874.07 243.21 L874.29 242.93 L874.51 242.53 L874.73 242.03 L874.95 241.46 L875.17 240.85 L875.39 240.24 L875.61 239.65 L875.83 239.11 L876.05 238.64 L876.27 238.26 L876.49 237.98 L876.71 237.81 L876.93 237.74 L877.15 237.76 L877.37 237.87 L877.59 238.04 L877.81 238.27 L878.03 238.52 L878.25 238.78 L878.47 239.02 L878.69 239.24 L878.91 239.42 L879.13 239.54 L879.35 239.61 L879.57 239.61 L879.79 239.56 L880.01 239.51 L880.23 239.57 L880.46 239.68 L880.68 239.83 L880.9 240.01 L881.12 240.19 L881.34 240.37 L881.56 240.52 L881.78 240.62 L882 240.67 L882.22 240.64 L882.44 240.53 L882.66 240.33 L882.88 240.05 L883.1 239.7 L883.32 239.28 L883.54 238.81 L883.76 238.32 L883.98 237.83 L884.2 237.36 L884.42 236.95 L884.64 236.62 L884.86 236.4 L885.08 236.3 L885.3 236.34 L885.52 236.53 L885.74 236.88 L885.96 237.37 L886.18 238 L886.4 238.74 L886.62 239.57 L886.84 240.45 L887.06 241.35 L887.28 242.22 L887.5 243.02 L887.72 243.72 L887.94 244.27 L888.16 244.64 L888.38 244.8 L888.6 244.75 L888.82 244.46 L889.04 243.94 L889.26 243.2 L889.48 242.26 L889.7 241.17 L889.92 239.95 L890.14 238.65 L890.36 237.34 L890.58 236.06 L890.8 234.88 L891.02 233.85 L891.24 233.02 L891.46 232.44 L891.68 232.13 L891.9 232.13 L892.12 232.44 L892.34 233.07 L892.56 233.99 L892.78 235.18 L893 236.6 L893.22 238.18 L893.44 239.88 L893.66 241.61 L893.88 243.31 L894.1 244.9 L894.32 246.31 L894.54 247.47 L894.76 248.33 L894.98 248.84 L895.2 248.97 L895.42 248.7 L895.64 248.04 L895.86 247 L896.08 245.61 L896.3 243.93 L896.52 242.02 L896.74 239.95 L896.96 237.81 L897.18 235.68 L897.4 233.67 L897.62 231.85 L897.84 230.31 L898.06 229.12 L898.28 228.34 L898.5 228.01 L898.72 228.15 L898.94 228.78 L899.16 229.87 L899.38 231.39 L899.6 233.28 L899.82 235.47 L900.04 237.88 L900.26 240.41 L900.48 242.95 L900.7 245.4 L900.92 247.65 L901.14 249.61 L901.36 251.18 L901.58 252.29 L901.8 252.88 L902.02 252.93 L902.24 252.41 L902.46 251.35 L902.68 249.77 L902.9 247.73 L903.12 245.3 L903.34 242.6 L903.56 239.71 L903.78 236.77 L904 233.89 L904.22 231.2 L904.44 228.81 L904.66 226.82 L904.88 225.33 L905.1 224.41 L905.32 224.11 L905.54 224.44 L905.76 225.41 L905.98 226.98 L906.2 229.1 L906.42 231.69 L906.64 234.64 L906.86 237.84 L907.08 241.15 L907.3 244.45 L907.52 247.58 L907.74 250.43 L907.96 252.85 L908.18 254.76 L908.4 256.06 L908.62 256.68 L908.84 256.6 L909.06 255.8 L909.28 254.31 L909.5 252.18 L909.72 249.5 L909.94 246.37 L910.16 242.91 L910.38 239.26 L910.6 235.57 L910.82 232.01 L911.04 228.71 L911.26 225.82 L911.48 223.46 L911.7 221.75 L911.92 220.75 L912.14 220.52 L912.36 221.08 L912.58 222.41 L912.8 224.47 L913.02 227.18 L913.24 230.43 L913.46 234.1 L913.68 238.03 L913.9 242.07 L914.12 246.04 L914.34 249.78 L914.56 253.14 L914.78 255.97 L915 258.14 L915.22 259.55 L915.44 260.15 L915.66 259.9 L915.88 258.79 L916.1 256.87 L916.32 254.21 L916.54 250.91 L916.76 247.11 L916.98 242.95 L917.2 238.61 L917.42 234.26 L917.64 230.09 L917.86 226.27 L918.08 222.97 L918.3 220.32 L918.52 218.44 L918.74 217.43 L918.96 217.32 L919.18 218.13 L919.4 219.84 L919.62 222.37 L919.84 225.65 L920.06 229.52 L920.28 233.84 L920.5 238.44 L920.72 243.12 L920.94 247.68 L921.16 251.95 L921.38 255.73 L921.6 258.86 L921.82 261.22 L922.04 262.7 L922.26 263.22 L922.48 262.77 L922.7 261.34 L922.92 259 L923.14 255.83 L923.36 251.95 L923.58 247.54 L923.8 242.75 L924.02 237.8 L924.24 232.88 L924.46 228.2 L924.68 223.95 L924.9 220.32 L925.12 217.46 L925.34 215.5 L925.56 214.52 L925.78 214.56 L926 215.65 L926.22 217.73 L926.44 220.72 L926.66 224.52 L926.88 228.96 L927.1 233.86 L927.32 239.04 L927.54 244.26 L927.76 249.32 L927.98 254 L928.2 258.11 L928.42 261.48 L928.64 263.95 L928.86 265.42 L929.08 265.83 L929.3 265.15 L929.52 263.4 L929.74 260.65 L929.96 257.01 L930.18 252.62 L930.4 247.66 L930.62 242.34 L930.84 236.87 L931.06 231.48 L931.28 226.39 L931.5 221.82 L931.72 217.96 L931.94 214.97 L932.16 212.98 L932.38 212.08 L932.6 212.32 L932.82 213.68 L933.04 216.11 L933.26 219.53 L933.48 223.8 L933.7 228.73 L933.92 234.13 L934.14 239.78 L934.36 245.45 L934.58 250.9 L934.8 255.89 L935.02 260.23 L935.24 263.74 L935.46 266.25 L935.68 267.66 L935.9 267.92 L936.12 267 L936.34 264.94 L936.56 261.81 L936.78 257.75 L937 252.91 L937.22 247.5 L937.44 241.74 L937.66 235.86 L937.88 230.11 L938.1 224.73 L938.32 219.94 L938.54 215.94 L938.76 212.9 L938.98 210.95 L939.2 210.18 L939.42 210.62 L939.64 212.25 L939.86 215.02 L940.08 218.81 L940.3 223.48 L940.52 228.82 L940.74 234.62 L940.96 240.64 L941.18 246.63 L941.4 252.35 L941.62 257.55 L941.84 262.02 L942.06 265.58 L942.28 268.06 L942.5 269.37 L942.72 269.45 L942.94 268.28 L943.16 265.93 L943.38 262.47 L943.6 258.05 L943.82 252.86 L944.04 247.09 L944.26 241 L944.48 234.83 L944.7 228.84 L944.92 223.27 L945.14 218.36 L945.36 214.32 L945.58 211.31 L945.8 209.45 L946.02 208.84 L946.24 209.49 L946.46 211.39 L946.68 214.45 L946.9 218.56 L947.12 223.54 L947.34 229.19 L947.56 235.28 L947.78 241.55 L948 247.75 L948.22 253.63 L948.44 258.92 L948.66 263.43 L948.88 266.95 L949.1 269.34 L949.32 270.5 L949.54 270.38 L949.76 268.99 L949.98 266.37 L950.2 262.64 L950.42 257.94 L950.64 252.48 L950.86 246.47 L951.08 240.16 L951.3 233.82 L951.52 227.71 L951.74 222.08 L951.96 217.16 L952.18 213.16 L952.4 210.24 L952.62 208.53 L952.84 208.1 L953.06 208.97 L953.28 211.1 L953.5 214.41 L953.72 218.75 L953.94 223.96 L954.16 229.82 L954.38 236.07 L954.6 242.48 L954.82 248.76 L955.04 254.67 L955.26 259.95 L955.48 264.39 L955.7 267.81 L955.92 270.05 L956.14 271.03 L956.36 270.71 L956.58 269.1 L956.8 266.27 L957.02 262.32 L957.24 257.44 L957.46 251.81 L957.68 245.67 L957.9 239.28" stroke="url(#wg2)"/><path d="M646 154.3 L647 153.65 L648 152.99 L649 152.34 L650 151.68 L651 151.03 L652 150.38 L653 149.73 L654 149.09 L655 148.44 L656 147.8 L657 147.16 L658 146.52 L659 145.89 L660 145.26 L661 144.63 L662 144.01 L663 143.39 L664 142.78 L665 142.17 L666 141.56 L667 140.96 L668 140.37 L669 139.78 L670 139.2 L671 138.62 L672 138.05 L673 137.49 L674 136.93 L675 136.38 L676 135.84 L677 135.31 L678 134.78 L679 134.26 L680 133.75 L681 133.25 L682 132.76 L683 132.27 L684 131.8 L685 131.33 L686 130.87 L687 130.43 L688 129.99 L689 129.56 L690 129.14 L691 128.74 L692 128.34 L693 127.95 L694 127.58 L695 127.21 L696 126.86 L697 126.52 L698 126.19 L699 125.87 L700 125.56 L701 125.26 L702 124.98 L703 124.71 L704 124.45 L705 124.2 L706 123.96 L707 123.74 L708 123.53 L709 123.33 L710 123.14 L711 122.97 L712 122.81 L713 122.66 L714 122.53 L715 122.4 L716 122.3 L717 122.2 L718 122.12 L719 122.05 L720 121.99 L721 121.95 L722 121.92 L723 121.9 L724 121.9 L725 121.91 L726 121.93 L727 121.97 L728 122.02 L729 122.08 L730 122.16 L731 122.25 L732 122.35 L733 122.46 L734 122.59 L735 122.73 L736 122.89 L737 123.05 L738 123.23 L739 123.43 L740 123.63 L741 123.85 L742 124.08 L743 124.32 L744 124.57 L745 124.84 L746 125.12 L747 125.41 L748 125.71 L749 126.03 L750 126.35 L751 126.69 L752 127.04 L753 127.39 L754 127.76 L755 128.15 L756 128.54 L757 128.94 L758 129.35 L759 129.77 L760 130.21 L761 130.65 L762 131.1 L763 131.56 L764 132.03 L765 132.51 L766 133 L767 133.5 L768 134.01 L769 134.52 L770 135.04 L771 135.57 L772 136.11 L773 136.66 L774 137.21 L775 137.77 L776 138.34 L777 138.91 L778 139.49 L779 140.07 L780 140.66 L781 141.26 L782 141.86 L783 142.47 L784 143.08 L785 143.7 L786 144.32 L787 144.94 L788 145.57 L789 146.2 L790 146.84 L791 147.48 L792 148.12 L793 148.76 L794 149.41 L795 150.06 L796 150.71 L797 151.36 L798 152.01 L799 152.66 L800 153.32 L801 153.97 L802 154.63 L803 155.28 L804 155.94 L805 156.59 L806 157.24 L807 157.89 L808 158.54 L809 159.19 L810 159.84 L811 160.48 L812 161.12 L813 161.76 L814 162.4 L815 163.03 L816 163.66 L817 164.28 L818 164.9 L819 165.52 L820 166.13 L821 166.74 L822 167.34 L823 167.94 L824 168.53 L825 169.11 L826 169.69 L827 170.26 L828 170.83 L829 171.39 L830 171.94 L831 172.49 L832 173.03 L833 173.56 L834 174.08 L835 174.59 L836 175.1 L837 175.6 L838 176.09 L839 176.57 L840 177.04 L841 177.5 L842 177.95 L843 178.39 L844 178.83 L845 179.25 L846 179.66 L847 180.06 L848 180.45 L849 180.84 L850 181.21 L851 181.56 L852 181.91 L853 182.25 L854 182.57 L855 182.89 L856 183.19 L857 183.48 L858 183.76 L859 184.03 L860 184.28 L861 184.52 L862 184.75 L863 184.97 L864 185.17 L865 185.37 L866 185.55 L867 185.71 L868 185.87 L869 186.01 L870 186.14 L871 186.25 L872 186.35 L873 186.44 L874 186.52 L875 186.58 L876 186.63 L877 186.67 L878 186.69 L879 186.7 L880 186.7 L881 186.68 L882 186.65 L883 186.61 L884 186.55 L885 186.48 L886 186.4 L887 186.3 L888 186.2 L889 186.07 L890 185.94 L891 185.79 L892 185.63 L893 185.46 L894 185.27 L895 185.07 L896 184.86 L897 184.64 L898 184.4 L899 184.15 L900 183.89 L901 183.62 L902 183.34 L903 183.04 L904 182.73 L905 182.41 L906 182.08 L907 181.74 L908 181.39 L909 181.02 L910 180.65 L911 180.26 L912 179.86 L913 179.46 L914 179.04 L915 178.61 L916 178.17 L917 177.73 L918 177.27 L919 176.8 L920 176.33 L921 175.84 L922 175.35 L923 174.85 L924 174.34 L925 173.82 L926 173.29 L927 172.76 L928 172.22 L929 171.67 L930 171.11 L931 170.55 L932 169.98 L933 169.4 L934 168.82 L935 168.23 L936 167.64 L937 167.04 L938 166.43 L939 165.82 L940 165.21 L941 164.59 L942 163.97 L943 163.34 L944 162.71 L945 162.08 L946 161.44 L947 160.8 L948 160.16 L949 159.51 L950 158.87 L951 158.22 L952 157.57 L953 156.92 L954 156.26 L955 155.61 L956 154.95 L957 154.3" stroke="#1f4fa0" stroke-width="1.5"/></g><g stroke="#1c3f8c" stroke-width="1.4"><line x1="640" y1="69.7" x2="960.6" y2="69.7"/><line x1="640" y1="154.3" x2="957.7" y2="154.3"/><line x1="644.5" y1="239.5" x2="959.2" y2="239.5"/></g><g stroke="#12162a" stroke-width="1.5" fill="none"><path d="M639.9 34 V275.9 H962"/></g><path d="M639.9 25.5 L644.7 35.4 H635.1 Z" fill="#0a1030"/><path d="M970.4 275.9 L960.6 280.2 V271.6 Z" fill="#141a36"/></svg>
<div class="lab" style="top:58.3px;transform:scaleX(.9)">Input signal</div>
<div class="lab" style="top:144.5px;transform:scaleX(.895)">Output |sin|</div>
<div class="lab" style="top:229px;transform:scaleX(.872)">Output |cos|</div>
<div class="wm" style="transform:translate(448.6px,245px) rotate(-29.9deg)"><span style="letter-spacing:-1.1px">[SysPro</span>系统工程智库] 内部学习使用</div>
<h2 class="h" style="top:314px">[数字诊断位映射<span class="hl"> (Diagnostic Registers)]</span></h2>
<p class="sub">通过包络线阈值检测三大致命异常：</p>
<div class="card" style="left:14.5px;width:338px"><h3 style="left:11.9px"><span class="tl" style="width:169.9px;transform:scaleX(.847)">LOS (Signal Loss / </span>信号丢失)</h3><p style="left:12px">输入削波或低于安全阈值。<br>对应寄存器：<b>D7</b><span class="c">，</span><b>D6</b><span class="c">，</span><b>D0</b><span class="e">。</span></p></div>
<div class="card" style="left:372.4px;width:338px"><h3 style="left:10.5px"><span class="tl" style="width:184.8px;transform:scaleX(.889)">DOS (Degradation / </span>信号退化)</h3><p style="left:10.6px">输入超量程或失配。<br>对应寄存器：<b>D5</b><span class="c">，</span><b>D4</b><span class="e">。</span></p></div>
<div class="card" style="left:730.4px;width:338.2px"><h3 style="left:15.6px"><span class="tl" style="width:213.6px;transform:scaleX(.852)">LOT (Loss of Tracking / </span>跟踪丢失)</h3><p style="left:14.8px">跟踪误差越界或超最大速率。<br>对应寄存器：<b>D3</b><span class="c">，</span><b>D2</b><span class="c">，</span><b>D1</b><span class="e">。</span></p></div>
</div></div></div>
</body>
</html>
